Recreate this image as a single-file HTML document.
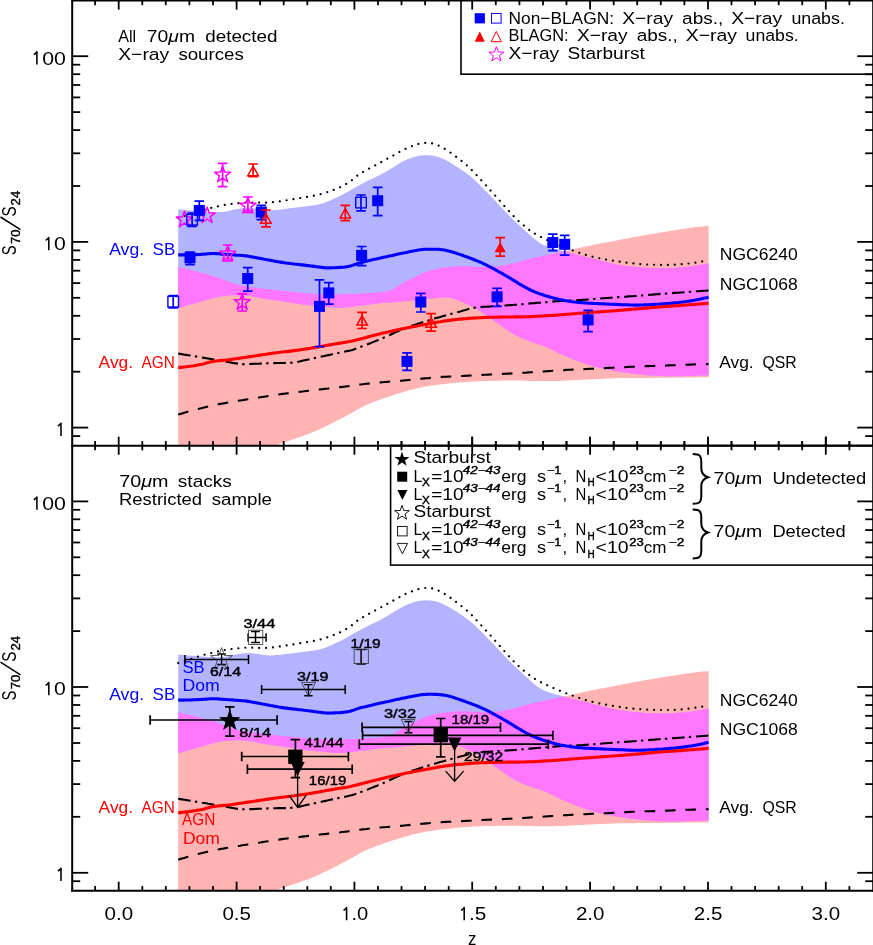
<!DOCTYPE html>
<html><head><meta charset="utf-8"><title>S70/S24 vs z</title>
<style>
html,body{margin:0;padding:0;background:#fff;}
body{width:873px;height:945px;overflow:hidden;}
svg{display:block;will-change:transform;font-family:"Liberation Sans",sans-serif;}
text{font-family:"Liberation Sans",sans-serif;}
</style></head><body>
<svg width="873" height="945" viewBox="0 0 873 945">
<rect x="0" y="0" width="873" height="945" fill="#ffffff"/>
<defs>
<clipPath id="cpT"><rect x="72" y="0" width="801" height="445.7"/></clipPath>
<clipPath id="cpB"><rect x="72" y="445.7" width="801" height="445"/></clipPath>
</defs>
<g clip-path="url(#cpT)">
<path d="M178.2 267.1 L180.2 267.5 L182.2 268.0 L184.2 268.4 L186.2 268.9 L188.2 269.4 L190.2 269.9 L192.2 270.4 L194.2 270.9 L196.2 271.4 L198.2 271.9 L200.2 272.4 L202.2 273.0 L204.2 273.5 L206.2 274.0 L208.2 274.6 L210.2 275.1 L212.2 275.7 L214.2 276.3 L216.2 277.0 L218.2 277.7 L220.2 278.4 L222.2 279.2 L224.2 279.9 L226.2 280.7 L228.2 281.5 L230.2 282.2 L232.2 282.9 L234.2 283.6 L236.2 284.2 L238.2 284.8 L240.2 285.3 L242.2 285.7 L244.2 286.1 L246.3 286.4 L248.3 286.7 L250.3 287.1 L252.3 287.4 L254.3 287.6 L256.3 287.9 L258.3 288.2 L260.3 288.4 L262.3 288.6 L264.3 288.9 L266.3 289.1 L268.3 289.3 L270.3 289.5 L272.3 289.7 L274.3 289.9 L276.3 290.1 L278.3 290.3 L280.3 290.5 L282.3 290.7 L284.3 290.9 L286.3 291.1 L288.3 291.4 L290.3 291.6 L292.3 291.8 L294.3 292.0 L296.3 292.2 L298.3 292.4 L300.3 292.6 L302.3 292.8 L304.3 293.0 L306.3 293.1 L308.3 293.3 L310.3 293.5 L312.3 293.7 L314.3 293.9 L316.3 294.1 L318.3 294.2 L320.3 294.3 L322.3 294.4 L324.3 294.4 L326.3 294.4 L328.3 294.4 L330.3 294.4 L332.3 294.4 L334.3 294.4 L336.3 294.3 L338.3 294.3 L340.3 294.3 L342.3 294.3 L344.3 294.2 L346.3 294.2 L348.3 294.1 L350.3 294.0 L352.3 293.9 L354.3 293.8 L356.3 293.7 L358.3 293.6 L360.3 293.5 L362.3 293.4 L364.3 293.3 L366.3 293.2 L368.3 293.1 L370.3 292.9 L372.3 292.8 L374.3 292.7 L376.3 292.6 L378.4 292.5 L380.4 292.3 L382.4 292.0 L384.4 291.7 L386.4 291.3 L388.4 290.8 L390.4 290.2 L392.4 289.4 L394.4 288.4 L396.4 287.1 L398.4 285.8 L400.4 284.5 L402.4 283.4 L404.4 282.3 L406.4 281.2 L408.4 280.2 L410.4 279.1 L412.4 278.1 L414.4 277.1 L416.4 276.1 L418.4 275.1 L420.4 274.2 L422.4 273.3 L424.4 272.5 L426.4 271.8 L428.4 271.1 L430.4 270.5 L432.4 269.9 L434.4 269.4 L436.4 268.9 L438.4 268.5 L440.4 268.1 L442.4 267.8 L444.4 267.5 L446.4 267.3 L448.4 267.0 L450.4 266.8 L452.4 266.6 L454.4 266.5 L456.4 266.3 L458.4 266.2 L460.4 266.2 L462.4 266.1 L464.4 266.1 L466.4 266.1 L468.4 266.2 L470.4 266.4 L472.4 266.5 L474.4 266.7 L476.4 266.8 L478.4 267.0 L480.4 267.1 L482.4 267.1 L484.4 267.1 L486.4 267.0 L488.4 267.0 L490.4 266.9 L492.4 266.7 L494.4 266.6 L496.4 266.4 L498.4 266.2 L500.4 265.9 L502.4 265.6 L504.4 265.2 L506.4 264.8 L508.4 264.4 L510.5 263.9 L512.5 263.5 L514.5 263.0 L516.5 262.5 L518.5 262.0 L520.5 261.5 L522.5 260.9 L524.5 260.3 L526.5 259.7 L528.5 259.2 L530.5 258.7 L532.5 258.2 L534.5 257.7 L536.5 257.3 L538.5 256.8 L540.5 256.4 L542.5 255.9 L544.5 255.5 L546.5 255.1 L548.5 254.7 L550.5 254.2 L552.5 253.8 L554.5 253.4 L556.5 253.0 L558.5 252.5 L560.5 252.1 L562.5 251.7 L564.5 251.3 L566.5 250.8 L568.5 250.4 L570.5 250.0 L572.5 249.5 L574.5 249.1 L576.5 248.6 L578.5 248.1 L580.5 247.7 L582.5 247.2 L584.5 246.8 L586.5 246.3 L588.5 245.9 L590.5 245.4 L592.5 245.0 L594.5 244.6 L596.5 244.2 L598.5 243.8 L600.5 243.4 L602.5 243.1 L604.5 242.7 L606.5 242.4 L608.5 242.0 L610.5 241.7 L612.5 241.3 L614.5 240.9 L616.5 240.5 L618.5 240.1 L620.5 239.7 L622.5 239.3 L624.5 238.9 L626.5 238.5 L628.5 238.1 L630.5 237.7 L632.5 237.3 L634.5 237.0 L636.5 236.6 L638.5 236.2 L640.5 235.9 L642.6 235.5 L644.6 235.2 L646.6 234.8 L648.6 234.5 L650.6 234.2 L652.6 233.8 L654.6 233.5 L656.6 233.2 L658.6 232.8 L660.6 232.5 L662.6 232.2 L664.6 231.8 L666.6 231.5 L668.6 231.2 L670.6 230.9 L672.6 230.5 L674.6 230.2 L676.6 229.9 L678.6 229.6 L680.6 229.3 L682.6 229.0 L684.6 228.7 L686.6 228.4 L688.6 228.1 L690.6 227.8 L692.6 227.6 L694.6 227.3 L696.6 227.1 L698.6 226.9 L700.6 226.7 L702.6 226.5 L704.6 226.3 L706.6 226.1 L708.6 225.9 L708.6 377.2 L706.6 377.2 L704.6 377.3 L702.6 377.3 L700.6 377.3 L698.6 377.3 L696.6 377.4 L694.6 377.4 L692.6 377.4 L690.6 377.4 L688.6 377.5 L686.6 377.5 L684.6 377.5 L682.6 377.5 L680.6 377.6 L678.6 377.6 L676.6 377.6 L674.6 377.6 L672.6 377.7 L670.6 377.7 L668.6 377.7 L666.6 377.7 L664.6 377.8 L662.6 377.8 L660.6 377.8 L658.6 377.8 L656.6 377.8 L654.6 377.9 L652.6 377.9 L650.6 377.9 L648.6 377.9 L646.6 377.9 L644.6 377.9 L642.6 377.9 L640.5 378.0 L638.5 378.0 L636.5 378.0 L634.5 378.0 L632.5 378.0 L630.5 378.0 L628.5 378.0 L626.5 378.1 L624.5 378.1 L622.5 378.1 L620.5 378.1 L618.5 378.1 L616.5 378.2 L614.5 378.3 L612.5 378.3 L610.5 378.4 L608.5 378.5 L606.5 378.6 L604.5 378.7 L602.5 378.8 L600.5 378.9 L598.5 379.0 L596.5 379.1 L594.5 379.2 L592.5 379.3 L590.5 379.4 L588.5 379.5 L586.5 379.6 L584.5 379.7 L582.5 379.7 L580.5 379.8 L578.5 379.9 L576.5 380.0 L574.5 380.1 L572.5 380.2 L570.5 380.3 L568.5 380.4 L566.5 380.5 L564.5 380.6 L562.5 380.7 L560.5 380.8 L558.5 380.9 L556.5 381.0 L554.5 381.0 L552.5 381.1 L550.5 381.1 L548.5 381.1 L546.5 381.1 L544.5 381.2 L542.5 381.2 L540.5 381.1 L538.5 381.1 L536.5 381.1 L534.5 381.1 L532.5 381.0 L530.5 381.0 L528.5 380.9 L526.5 380.8 L524.5 380.7 L522.5 380.6 L520.5 380.6 L518.5 380.6 L516.5 380.6 L514.5 380.6 L512.5 380.6 L510.5 380.6 L508.4 380.6 L506.4 380.6 L504.4 380.6 L502.4 380.6 L500.4 380.7 L498.4 380.7 L496.4 380.7 L494.4 380.8 L492.4 380.8 L490.4 380.8 L488.4 380.9 L486.4 380.9 L484.4 381.0 L482.4 381.1 L480.4 381.1 L478.4 381.2 L476.4 381.3 L474.4 381.4 L472.4 381.5 L470.4 381.7 L468.4 381.8 L466.4 381.9 L464.4 382.0 L462.4 382.2 L460.4 382.4 L458.4 382.5 L456.4 382.7 L454.4 382.9 L452.4 383.1 L450.4 383.3 L448.4 383.5 L446.4 383.7 L444.4 384.0 L442.4 384.2 L440.4 384.4 L438.4 384.7 L436.4 384.9 L434.4 385.2 L432.4 385.5 L430.4 385.8 L428.4 386.1 L426.4 386.5 L424.4 386.8 L422.4 387.2 L420.4 387.6 L418.4 388.1 L416.4 388.5 L414.4 389.0 L412.4 389.5 L410.4 390.0 L408.4 390.6 L406.4 391.1 L404.4 391.7 L402.4 392.3 L400.4 392.9 L398.4 393.5 L396.4 394.1 L394.4 394.7 L392.4 395.4 L390.4 396.0 L388.4 396.7 L386.4 397.4 L384.4 398.1 L382.4 398.8 L380.4 399.5 L378.4 400.2 L376.3 401.0 L374.3 401.7 L372.3 402.5 L370.3 403.3 L368.3 404.2 L366.3 405.1 L364.3 406.0 L362.3 406.9 L360.3 407.9 L358.3 409.0 L356.3 410.2 L354.3 411.4 L352.3 412.6 L350.3 413.7 L348.3 414.8 L346.3 415.8 L344.3 416.9 L342.3 417.9 L340.3 419.0 L338.3 420.0 L336.3 421.0 L334.3 422.1 L332.3 423.1 L330.3 424.0 L328.3 425.0 L326.3 426.0 L324.3 427.0 L322.3 427.9 L320.3 428.9 L318.3 429.8 L316.3 430.7 L314.3 431.6 L312.3 432.4 L310.3 433.3 L308.3 434.0 L306.3 434.8 L304.3 435.5 L302.3 436.2 L300.3 436.9 L298.3 437.5 L296.3 438.2 L294.3 438.9 L292.3 439.5 L290.3 440.2 L288.3 440.9 L286.3 441.5 L284.3 442.2 L282.3 442.9 L280.3 443.6 L278.3 444.4 L276.3 445.1 L274.3 445.8 L272.3 446.6 L270.3 447.4 L268.3 448.2 L266.3 449.1 L264.3 449.9 L262.3 450.8 L260.3 451.8 L258.3 452.7 L256.3 453.7 L254.3 454.7 L252.3 455.7 L250.3 456.8 L248.3 457.8 L246.3 458.9 L244.2 460.0 L242.2 461.1 L240.2 462.2 L238.2 463.3 L236.2 464.5 L234.2 465.6 L232.2 466.7 L230.2 467.9 L228.2 469.0 L226.2 470.2 L224.2 471.3 L222.2 472.5 L220.2 473.6 L218.2 474.8 L216.2 476.0 L214.2 477.2 L212.2 478.4 L210.2 479.6 L208.2 480.8 L206.2 482.0 L204.2 483.2 L202.2 484.5 L200.2 485.7 L198.2 487.0 L196.2 488.2 L194.2 489.5 L192.2 490.8 L190.2 492.1 L188.2 493.4 L186.2 494.7 L184.2 496.0 L182.2 497.3 L180.2 498.7 L178.2 500.0Z" fill="#ffb3b3"/>
<path d="M178.2 209.4 L180.2 209.6 L182.2 209.7 L184.2 209.9 L186.2 210.1 L188.2 210.2 L190.2 210.4 L192.2 210.6 L194.2 210.8 L196.2 210.9 L198.2 211.1 L200.2 211.3 L202.2 211.4 L204.2 211.6 L206.2 211.7 L208.2 211.8 L210.2 211.9 L212.2 211.9 L214.2 212.0 L216.2 212.1 L218.2 212.1 L220.2 212.1 L222.2 212.0 L224.2 211.7 L226.2 211.4 L228.2 210.9 L230.2 210.4 L232.2 209.9 L234.2 209.6 L236.2 209.2 L238.2 208.9 L240.2 208.6 L242.2 208.3 L244.2 208.1 L246.3 208.0 L248.3 207.9 L250.3 208.0 L252.3 208.1 L254.3 208.4 L256.3 208.6 L258.3 209.0 L260.3 209.3 L262.3 209.7 L264.3 209.9 L266.3 210.1 L268.3 210.2 L270.3 210.2 L272.3 210.2 L274.3 210.1 L276.3 210.0 L278.3 209.8 L280.3 209.6 L282.3 209.4 L284.3 209.1 L286.3 208.8 L288.3 208.6 L290.3 208.3 L292.3 208.0 L294.3 207.8 L296.3 207.5 L298.3 207.3 L300.3 207.0 L302.3 206.8 L304.3 206.6 L306.3 206.3 L308.3 206.1 L310.3 205.8 L312.3 205.6 L314.3 205.3 L316.3 204.9 L318.3 204.5 L320.3 204.1 L322.3 203.5 L324.3 202.9 L326.3 202.1 L328.3 201.3 L330.3 200.4 L332.3 199.5 L334.3 198.6 L336.3 197.7 L338.3 196.7 L340.3 195.8 L342.3 194.8 L344.3 193.8 L346.3 192.6 L348.3 191.5 L350.3 190.3 L352.3 189.2 L354.3 188.1 L356.3 186.9 L358.3 185.8 L360.3 184.7 L362.3 183.7 L364.3 182.6 L366.3 181.6 L368.3 180.6 L370.3 179.7 L372.3 178.7 L374.3 177.7 L376.3 176.7 L378.4 175.8 L380.4 174.7 L382.4 173.7 L384.4 172.6 L386.4 171.4 L388.4 170.2 L390.4 168.9 L392.4 167.7 L394.4 166.4 L396.4 165.2 L398.4 164.0 L400.4 162.8 L402.4 161.7 L404.4 160.7 L406.4 159.8 L408.4 159.0 L410.4 158.2 L412.4 157.6 L414.4 156.9 L416.4 156.4 L418.4 155.9 L420.4 155.6 L422.4 155.4 L424.4 155.2 L426.4 155.2 L428.4 155.2 L430.4 155.4 L432.4 155.6 L434.4 155.9 L436.4 156.4 L438.4 157.0 L440.4 157.7 L442.4 158.6 L444.4 159.5 L446.4 160.5 L448.4 161.6 L450.4 162.8 L452.4 164.0 L454.4 165.2 L456.4 166.5 L458.4 167.8 L460.4 169.1 L462.4 170.4 L464.4 171.8 L466.4 173.2 L468.4 174.7 L470.4 176.3 L472.4 178.1 L474.4 179.9 L476.4 181.8 L478.4 183.7 L480.4 185.7 L482.4 187.7 L484.4 189.7 L486.4 191.7 L488.4 193.7 L490.4 195.8 L492.4 197.9 L494.4 199.9 L496.4 202.0 L498.4 204.2 L500.4 206.4 L502.4 208.5 L504.4 210.7 L506.4 212.9 L508.4 214.9 L510.5 217.0 L512.5 218.9 L514.5 220.8 L516.5 222.7 L518.5 224.6 L520.5 226.4 L522.5 228.3 L524.5 230.2 L526.5 232.0 L528.5 233.8 L530.5 235.6 L532.5 237.4 L534.5 239.1 L536.5 240.6 L538.5 242.1 L540.5 243.4 L542.5 244.5 L544.5 245.5 L546.5 246.3 L548.5 247.0 L550.5 247.6 L552.5 248.2 L554.5 248.8 L556.5 249.4 L558.5 249.9 L560.5 250.5 L562.5 251.0 L564.5 251.6 L566.5 252.1 L568.5 252.6 L570.5 253.1 L572.5 253.6 L574.5 254.1 L576.5 254.6 L578.5 255.1 L580.5 255.6 L582.5 256.1 L584.5 256.6 L586.5 257.1 L588.5 257.6 L590.5 258.1 L592.5 258.6 L594.5 259.1 L596.5 259.6 L598.5 260.1 L600.5 260.6 L602.5 261.1 L604.5 261.6 L606.5 262.1 L608.5 262.6 L610.5 263.1 L612.5 263.6 L614.5 264.0 L616.5 264.4 L618.5 264.8 L620.5 265.1 L622.5 265.4 L624.5 265.7 L626.5 265.9 L628.5 266.1 L630.5 266.4 L632.5 266.6 L634.5 266.8 L636.5 267.0 L638.5 267.1 L640.5 267.3 L642.6 267.5 L644.6 267.6 L646.6 267.7 L648.6 267.8 L650.6 267.9 L652.6 268.0 L654.6 268.1 L656.6 268.1 L658.6 268.2 L660.6 268.2 L662.6 268.2 L664.6 268.2 L666.6 268.2 L668.6 268.1 L670.6 268.0 L672.6 268.0 L674.6 267.9 L676.6 267.7 L678.6 267.6 L680.6 267.4 L682.6 267.3 L684.6 267.1 L686.6 266.9 L688.6 266.7 L690.6 266.4 L692.6 266.1 L694.6 265.8 L696.6 265.5 L698.6 265.2 L700.6 264.8 L702.6 264.5 L704.6 264.1 L706.6 263.6 L708.6 263.2 L708.6 375.3 L706.6 375.4 L704.6 375.5 L702.6 375.6 L700.6 375.7 L698.6 375.7 L696.6 375.8 L694.6 375.9 L692.6 375.9 L690.6 376.0 L688.6 376.0 L686.6 376.1 L684.6 376.1 L682.6 376.2 L680.6 376.2 L678.6 376.2 L676.6 376.3 L674.6 376.3 L672.6 376.3 L670.6 376.3 L668.6 376.2 L666.6 376.2 L664.6 376.2 L662.6 376.1 L660.6 376.1 L658.6 376.0 L656.6 375.9 L654.6 375.8 L652.6 375.7 L650.6 375.5 L648.6 375.4 L646.6 375.2 L644.6 375.0 L642.6 374.8 L640.5 374.6 L638.5 374.4 L636.5 374.2 L634.5 373.9 L632.5 373.7 L630.5 373.4 L628.5 373.2 L626.5 372.9 L624.5 372.6 L622.5 372.3 L620.5 372.0 L618.5 371.6 L616.5 371.3 L614.5 371.0 L612.5 370.6 L610.5 370.2 L608.5 369.9 L606.5 369.5 L604.5 369.1 L602.5 368.6 L600.5 368.2 L598.5 367.7 L596.5 367.2 L594.5 366.7 L592.5 366.1 L590.5 365.6 L588.5 364.9 L586.5 364.3 L584.5 363.6 L582.5 362.9 L580.5 362.2 L578.5 361.4 L576.5 360.7 L574.5 359.9 L572.5 359.1 L570.5 358.2 L568.5 357.4 L566.5 356.5 L564.5 355.7 L562.5 354.8 L560.5 353.9 L558.5 353.0 L556.5 352.1 L554.5 351.1 L552.5 350.1 L550.5 349.0 L548.5 348.0 L546.5 347.1 L544.5 346.2 L542.5 345.4 L540.5 344.7 L538.5 344.2 L536.5 343.7 L534.5 343.0 L532.5 342.3 L530.5 341.6 L528.5 340.8 L526.5 340.0 L524.5 339.2 L522.5 338.4 L520.5 337.6 L518.5 336.8 L516.5 335.8 L514.5 334.7 L512.5 333.5 L510.5 332.2 L508.4 330.9 L506.4 329.5 L504.4 328.1 L502.4 326.7 L500.4 325.3 L498.4 323.9 L496.4 322.5 L494.4 321.1 L492.4 319.7 L490.4 318.3 L488.4 316.9 L486.4 315.5 L484.4 314.1 L482.4 312.7 L480.4 311.5 L478.4 310.3 L476.4 309.1 L474.4 308.0 L472.4 307.0 L470.4 305.9 L468.4 304.9 L466.4 304.0 L464.4 303.0 L462.4 302.1 L460.4 301.2 L458.4 300.4 L456.4 299.6 L454.4 298.9 L452.4 298.3 L450.4 297.9 L448.4 297.6 L446.4 297.4 L444.4 297.4 L442.4 297.6 L440.4 297.7 L438.4 297.9 L436.4 298.1 L434.4 298.2 L432.4 298.4 L430.4 298.6 L428.4 298.8 L426.4 299.0 L424.4 299.2 L422.4 299.4 L420.4 299.6 L418.4 299.8 L416.4 300.1 L414.4 300.3 L412.4 300.5 L410.4 300.7 L408.4 300.9 L406.4 301.1 L404.4 301.3 L402.4 301.6 L400.4 301.7 L398.4 301.9 L396.4 302.1 L394.4 302.2 L392.4 302.3 L390.4 302.5 L388.4 302.6 L386.4 302.8 L384.4 302.9 L382.4 303.1 L380.4 303.3 L378.4 303.5 L376.3 303.7 L374.3 304.0 L372.3 304.3 L370.3 304.5 L368.3 304.8 L366.3 305.1 L364.3 305.3 L362.3 305.6 L360.3 305.8 L358.3 306.1 L356.3 306.3 L354.3 306.6 L352.3 306.8 L350.3 307.0 L348.3 307.2 L346.3 307.4 L344.3 307.6 L342.3 307.7 L340.3 307.8 L338.3 307.8 L336.3 307.8 L334.3 307.7 L332.3 307.5 L330.3 307.4 L328.3 307.2 L326.3 307.0 L324.3 306.8 L322.3 306.6 L320.3 306.4 L318.3 306.2 L316.3 306.1 L314.3 305.9 L312.3 305.7 L310.3 305.5 L308.3 305.3 L306.3 305.0 L304.3 304.7 L302.3 304.5 L300.3 304.2 L298.3 303.9 L296.3 303.6 L294.3 303.2 L292.3 302.9 L290.3 302.6 L288.3 302.3 L286.3 302.0 L284.3 301.7 L282.3 301.4 L280.3 301.1 L278.3 300.8 L276.3 300.6 L274.3 300.3 L272.3 300.0 L270.3 299.7 L268.3 299.4 L266.3 299.1 L264.3 298.8 L262.3 298.5 L260.3 298.1 L258.3 297.7 L256.3 297.3 L254.3 296.8 L252.3 296.5 L250.3 296.1 L248.3 295.9 L246.3 295.6 L244.2 295.5 L242.2 295.3 L240.2 295.2 L238.2 295.2 L236.2 295.2 L234.2 295.2 L232.2 295.3 L230.2 295.4 L228.2 295.6 L226.2 295.7 L224.2 296.0 L222.2 296.3 L220.2 296.6 L218.2 296.9 L216.2 297.4 L214.2 297.9 L212.2 298.4 L210.2 298.9 L208.2 299.5 L206.2 300.0 L204.2 300.6 L202.2 301.1 L200.2 301.7 L198.2 302.3 L196.2 302.9 L194.2 303.5 L192.2 304.0 L190.2 304.6 L188.2 305.2 L186.2 305.8 L184.2 306.4 L182.2 307.0 L180.2 307.6 L178.2 308.2Z" fill="#b3b3ff"/>
<path d="M178.2 267.1 L179.2 267.3 L180.2 267.5 L181.2 267.7 L182.2 268.0 L183.2 268.2 L184.2 268.4 L185.2 268.7 L186.2 268.9 L187.2 269.1 L188.2 269.4 L189.2 269.6 L190.2 269.9 L191.2 270.1 L192.2 270.4 L193.2 270.6 L194.2 270.9 L195.2 271.1 L196.2 271.4 L197.2 271.6 L198.2 271.9 L199.2 272.2 L200.2 272.4 L201.2 272.7 L202.2 273.0 L203.2 273.2 L204.2 273.5 L205.2 273.8 L206.2 274.0 L207.2 274.3 L208.2 274.6 L209.2 274.9 L210.2 275.1 L211.2 275.4 L212.2 275.7 L213.2 276.0 L214.2 276.3 L215.2 276.6 L216.2 277.0 L217.2 277.3 L218.2 277.7 L219.2 278.0 L220.2 278.4 L221.2 278.8 L222.2 279.2 L223.2 279.5 L224.2 279.9 L225.2 280.3 L226.2 280.7 L227.2 281.1 L228.2 281.5 L229.2 281.8 L230.2 282.2 L231.2 282.6 L232.2 282.9 L233.2 283.3 L234.2 283.6 L235.2 283.9 L236.2 284.2 L237.2 284.5 L238.2 284.8 L239.2 285.0 L240.2 285.3 L241.2 285.5 L242.2 285.7 L243.2 285.9 L244.2 286.1 L245.2 286.2 L246.2 286.4 L247.2 286.6 L248.2 286.7 L249.2 286.9 L250.2 287.0 L251.2 287.2 L252.2 287.3 L253.2 287.5 L254.2 287.6 L255.2 287.8 L256.2 287.9 L257.2 288.0 L258.2 288.1 L259.2 288.3 L260.2 288.4 L261.2 288.5 L262.2 288.6 L263.2 288.7 L264.2 288.9 L265.2 289.0 L266.2 289.1 L267.2 289.2 L268.2 289.3 L269.2 289.4 L270.2 289.5 L271.2 289.6 L272.2 289.7 L273.2 289.8 L274.2 289.9 L275.2 290.0 L276.2 290.1 L277.2 290.2 L278.2 290.3 L279.2 290.4 L280.2 290.5 L281.2 290.6 L282.2 290.7 L283.2 290.8 L284.2 290.9 L285.2 291.0 L286.2 291.1 L287.2 291.2 L288.2 291.3 L289.2 291.4 L290.2 291.5 L291.2 291.6 L292.2 291.7 L293.2 291.8 L294.2 292.0 L295.2 292.1 L296.2 292.2 L297.2 292.3 L298.2 292.4 L299.2 292.5 L300.2 292.6 L301.2 292.6 L302.2 292.7 L303.2 292.8 L304.2 292.9 L305.2 293.0 L306.2 293.1 L307.2 293.2 L308.2 293.3 L309.2 293.4 L310.2 293.5 L311.2 293.6 L312.2 293.7 L313.2 293.8 L314.2 293.9 L315.2 294.0 L316.2 294.1 L317.2 294.1 L318.2 294.2 L319.2 294.2 L320.2 294.3 L321.2 294.3 L322.2 294.4 L323.2 294.4 L324.2 294.4 L325.2 294.4 L326.2 294.4 L327.2 294.4 L328.2 294.4 L329.2 294.4 L330.2 294.4 L331.2 294.4 L332.2 294.4 L333.2 294.4 L334.2 294.4 L335.2 294.4 L336.2 294.3 L337.2 294.3 L338.2 294.3 L339.2 294.3 L340.2 294.3 L341.2 294.3 L342.2 294.3 L343.2 294.2 L344.2 294.2 L345.2 294.2 L346.2 294.2 L347.2 294.1 L348.2 294.1 L349.2 294.1 L350.2 294.0 L351.2 294.0 L352.2 293.9 L353.2 293.9 L354.2 293.8 L355.2 293.8 L356.2 293.7 L357.2 293.7 L358.2 293.6 L359.2 293.6 L360.2 293.5 L361.2 293.5 L362.2 293.4 L363.2 293.4 L364.2 293.3 L365.2 293.2 L366.2 293.2 L367.2 293.1 L368.2 293.1 L369.2 293.0 L370.2 292.9 L371.2 292.9 L372.2 292.8 L373.2 292.8 L374.2 292.7 L375.2 292.7 L376.2 292.6 L377.2 292.5 L378.2 292.5 L379.2 292.4 L380.2 292.3 L381.2 292.2 L382.2 292.1 L383.2 291.9 L384.2 291.8 L385.2 291.6 L386.2 291.4 L387.2 291.1 L388.2 290.9 L389.2 290.6 L390.2 290.3 L391.2 289.9 L392.2 289.5 L393.2 289.0 L394.2 288.5 L395.2 287.9 L396.2 287.2 L397.2 286.6 L398.2 285.9 L399.2 285.2 L400.2 284.6 L401.2 284.0 L402.2 283.4 L403.2 282.9 L404.2 282.4 L405.2 281.8 L406.2 281.3 L407.2 280.8 L408.2 280.2 L409.2 279.7 L410.2 279.2 L411.2 278.7 L412.2 278.2 L413.2 277.7 L414.2 277.2 L415.2 276.7 L416.2 276.2 L417.2 275.7 L418.2 275.2 L419.2 274.8 L420.2 274.3 L421.2 273.9 L422.2 273.4 L423.2 273.0 L424.2 272.6 L425.2 272.2 L426.2 271.8 L427.2 271.5 L428.2 271.2 L429.2 270.8 L430.2 270.5 L431.2 270.2 L432.2 269.9 L433.2 269.7 L434.2 269.4 L435.2 269.2 L436.2 269.0 L437.2 268.7 L438.2 268.5 L439.2 268.3 L440.2 268.2 L441.2 268.0 L442.2 267.8 L443.2 267.7 L444.2 267.5 L445.2 267.4 L446.2 267.3 L447.2 267.2 L448.2 267.0 L449.2 266.9 L450.2 266.8 L451.2 266.7 L452.2 266.6 L453.2 266.6 L454.2 266.5 L455.2 266.4 L456.2 266.3 L457.2 266.3 L458.2 266.2 L459.2 266.2 L460.2 266.2 L461.2 266.1 L462.2 266.1 L463.2 266.1 L464.2 266.1 L465.2 266.1 L466.2 266.1 L467.2 266.2 L468.2 266.2 L469.2 266.3 L470.2 266.3 L471.2 266.4 L472.2 266.5 L473.2 266.6 L474.2 266.7 L475.2 266.7 L476.2 266.8 L477.2 266.9 L478.2 266.9 L479.2 267.0 L480.2 267.0 L481.2 267.1 L482.2 267.1 L483.2 267.1 L484.2 267.1 L485.2 267.1 L486.2 267.1 L487.2 267.0 L488.2 267.0 L489.2 266.9 L490.2 266.9 L491.2 266.8 L492.2 266.8 L493.2 266.7 L494.2 266.6 L495.2 266.5 L496.2 266.4 L497.2 266.3 L498.2 266.2 L499.2 266.1 L500.2 265.9 L501.2 265.8 L502.2 265.6 L503.2 265.4 L504.2 265.3 L505.2 265.1 L506.2 264.9 L507.2 264.6 L508.2 264.4 L509.2 264.2 L510.2 264.0 L511.2 263.8 L512.2 263.5 L513.2 263.3 L514.2 263.1 L515.2 262.8 L516.2 262.6 L517.2 262.3 L518.2 262.1 L519.2 261.8 L520.2 261.5 L521.2 261.3 L522.2 261.0 L523.2 260.7 L524.2 260.4 L525.2 260.1 L526.2 259.8 L527.2 259.5 L528.2 259.3 L529.2 259.0 L530.2 258.8 L531.2 258.5 L532.2 258.3 L533.2 258.0 L534.2 257.8 L535.2 257.6 L536.2 257.3 L537.2 257.1 L538.2 256.9 L539.2 256.7 L540.2 256.4 L541.2 256.2 L542.2 256.0 L543.2 255.8 L544.2 255.6 L545.2 255.4 L546.2 255.2 L547.2 254.9 L548.2 254.7 L549.2 254.5 L550.2 254.3 L551.2 254.1 L552.2 253.9 L553.2 253.7 L554.2 253.5 L555.2 253.2 L556.2 253.0 L557.2 252.8 L558.2 252.6 L559.2 252.4 L560.2 252.2 L561.2 252.0 L562.2 251.8 L563.2 251.5 L564.2 251.5 L565.2 251.7 L566.2 252.0 L567.2 252.3 L568.2 252.5 L569.2 252.8 L570.2 253.0 L571.2 253.3 L572.2 253.5 L573.2 253.8 L574.2 254.0 L575.2 254.3 L576.2 254.5 L577.2 254.8 L578.2 255.0 L579.2 255.3 L580.2 255.5 L581.2 255.8 L582.2 256.0 L583.2 256.3 L584.2 256.5 L585.2 256.8 L586.2 257.1 L587.2 257.3 L588.2 257.6 L589.2 257.8 L590.2 258.1 L591.2 258.3 L592.2 258.6 L593.2 258.8 L594.2 259.1 L595.2 259.3 L596.2 259.6 L597.2 259.8 L598.2 260.1 L599.2 260.3 L600.2 260.6 L601.2 260.8 L602.2 261.1 L603.2 261.3 L604.2 261.6 L605.2 261.8 L606.2 262.1 L607.2 262.3 L608.2 262.6 L609.2 262.8 L610.2 263.1 L611.2 263.3 L612.2 263.5 L613.2 263.8 L614.2 264.0 L615.2 264.2 L616.2 264.4 L617.2 264.6 L618.2 264.7 L619.2 264.9 L620.2 265.1 L621.2 265.2 L622.2 265.4 L623.2 265.5 L624.2 265.6 L625.2 265.8 L626.2 265.9 L627.2 266.0 L628.2 266.1 L629.2 266.2 L630.2 266.3 L631.2 266.4 L632.2 266.5 L633.2 266.6 L634.2 266.7 L635.2 266.8 L636.2 266.9 L637.2 267.0 L638.2 267.1 L639.2 267.2 L640.2 267.3 L641.2 267.4 L642.2 267.4 L643.2 267.5 L644.2 267.6 L645.2 267.7 L646.2 267.7 L647.2 267.8 L648.2 267.8 L649.2 267.9 L650.2 267.9 L651.2 268.0 L652.2 268.0 L653.2 268.0 L654.2 268.1 L655.2 268.1 L656.2 268.1 L657.2 268.2 L658.2 268.2 L659.2 268.2 L660.2 268.2 L661.2 268.2 L662.2 268.2 L663.2 268.2 L664.2 268.2 L665.2 268.2 L666.2 268.2 L667.2 268.1 L668.2 268.1 L669.2 268.1 L670.2 268.1 L671.2 268.0 L672.2 268.0 L673.2 267.9 L674.2 267.9 L675.2 267.8 L676.2 267.8 L677.2 267.7 L678.2 267.6 L679.2 267.6 L680.2 267.5 L681.2 267.4 L682.2 267.3 L683.2 267.2 L684.2 267.1 L685.2 267.0 L686.2 266.9 L687.2 266.8 L688.2 266.7 L689.2 266.6 L690.2 266.5 L691.2 266.3 L692.2 266.2 L693.2 266.0 L694.2 265.9 L695.2 265.7 L696.2 265.6 L697.2 265.4 L698.2 265.3 L699.2 265.1 L700.2 264.9 L701.2 264.7 L702.2 264.5 L703.2 264.3 L704.2 264.1 L705.2 263.9 L706.2 263.7 L707.2 263.5 L708.6 263.2 L708.6 375.3 L707.2 375.4 L706.2 375.4 L705.2 375.5 L704.2 375.5 L703.2 375.6 L702.2 375.6 L701.2 375.6 L700.2 375.7 L699.2 375.7 L698.2 375.8 L697.2 375.8 L696.2 375.8 L695.2 375.9 L694.2 375.9 L693.2 375.9 L692.2 375.9 L691.2 376.0 L690.2 376.0 L689.2 376.0 L688.2 376.1 L687.2 376.1 L686.2 376.1 L685.2 376.1 L684.2 376.2 L683.2 376.2 L682.2 376.2 L681.2 376.2 L680.2 376.2 L679.2 376.2 L678.2 376.2 L677.2 376.2 L676.2 376.3 L675.2 376.3 L674.2 376.3 L673.2 376.3 L672.2 376.3 L671.2 376.3 L670.2 376.3 L669.2 376.2 L668.2 376.2 L667.2 376.2 L666.2 376.2 L665.2 376.2 L664.2 376.2 L663.2 376.1 L662.2 376.1 L661.2 376.1 L660.2 376.1 L659.2 376.0 L658.2 376.0 L657.2 375.9 L656.2 375.9 L655.2 375.8 L654.2 375.8 L653.2 375.7 L652.2 375.6 L651.2 375.6 L650.2 375.5 L649.2 375.4 L648.2 375.3 L647.2 375.2 L646.2 375.2 L645.2 375.1 L644.2 375.0 L643.2 374.9 L642.2 374.8 L641.2 374.7 L640.2 374.6 L639.2 374.5 L638.2 374.3 L637.2 374.2 L636.2 374.1 L635.2 374.0 L634.2 373.9 L633.2 373.8 L632.2 373.7 L631.2 373.5 L630.2 373.4 L629.2 373.3 L628.2 373.1 L627.2 373.0 L626.2 372.8 L625.2 372.7 L624.2 372.5 L623.2 372.4 L622.2 372.2 L621.2 372.1 L620.2 371.9 L619.2 371.8 L618.2 371.6 L617.2 371.4 L616.2 371.3 L615.2 371.1 L614.2 370.9 L613.2 370.7 L612.2 370.6 L611.2 370.4 L610.2 370.2 L609.2 370.0 L608.2 369.8 L607.2 369.6 L606.2 369.4 L605.2 369.2 L604.2 369.0 L603.2 368.8 L602.2 368.6 L601.2 368.3 L600.2 368.1 L599.2 367.9 L598.2 367.6 L597.2 367.4 L596.2 367.1 L595.2 366.9 L594.2 366.6 L593.2 366.3 L592.2 366.0 L591.2 365.8 L590.2 365.5 L589.2 365.2 L588.2 364.8 L587.2 364.5 L586.2 364.2 L585.2 363.9 L584.2 363.5 L583.2 363.2 L582.2 362.8 L581.2 362.5 L580.2 362.1 L579.2 361.7 L578.2 361.3 L577.2 360.9 L576.2 360.5 L575.2 360.2 L574.2 359.8 L573.2 359.3 L572.2 358.9 L571.2 358.5 L570.2 358.1 L569.2 357.7 L568.2 357.3 L567.2 356.8 L566.2 356.4 L565.2 356.0 L564.2 355.5 L563.2 355.1 L562.2 354.7 L561.2 354.2 L560.2 353.8 L559.2 353.4 L558.2 352.9 L557.2 352.4 L556.2 351.9 L555.2 351.4 L554.2 350.9 L553.2 350.4 L552.2 349.9 L551.2 349.4 L550.2 348.9 L549.2 348.4 L548.2 347.9 L547.2 347.4 L546.2 347.0 L545.2 346.5 L544.2 346.1 L543.2 345.7 L542.2 345.3 L541.2 345.0 L540.2 344.7 L539.2 344.4 L538.2 344.2 L537.2 343.9 L536.2 343.6 L535.2 343.3 L534.2 342.9 L533.2 342.6 L532.2 342.2 L531.2 341.8 L530.2 341.5 L529.2 341.1 L528.2 340.7 L527.2 340.3 L526.2 339.9 L525.2 339.5 L524.2 339.1 L523.2 338.7 L522.2 338.3 L521.2 337.9 L520.2 337.5 L519.2 337.1 L518.2 336.7 L517.2 336.2 L516.2 335.7 L515.2 335.1 L514.2 334.6 L513.2 334.0 L512.2 333.3 L511.2 332.7 L510.2 332.1 L509.2 331.4 L508.2 330.7 L507.2 330.0 L506.2 329.3 L505.2 328.6 L504.2 327.9 L503.2 327.2 L502.2 326.5 L501.2 325.8 L500.2 325.1 L499.2 324.4 L498.2 323.7 L497.2 323.0 L496.2 322.3 L495.2 321.6 L494.2 320.9 L493.2 320.2 L492.2 319.5 L491.2 318.8 L490.2 318.1 L489.2 317.4 L488.2 316.7 L487.2 316.0 L486.2 315.3 L485.2 314.6 L484.2 313.9 L483.2 313.2 L482.2 312.6 L481.2 312.0 L480.2 311.3 L479.2 310.7 L478.2 310.2 L477.2 309.6 L476.2 309.0 L475.2 308.5 L474.2 307.9 L473.2 307.4 L472.2 306.8 L471.2 306.3 L470.2 305.8 L469.2 305.3 L468.2 304.8 L467.2 304.4 L466.2 303.9 L465.2 303.4 L464.2 302.9 L463.2 302.5 L462.2 302.0 L461.2 301.6 L460.2 301.1 L459.2 300.7 L458.2 300.3 L457.2 299.9 L456.2 299.5 L455.2 299.2 L454.2 298.8 L453.2 298.5 L452.2 298.3 L451.2 298.0 L450.2 297.8 L449.2 297.7 L448.2 297.5 L447.2 297.5 L446.2 297.4 L445.2 297.4 L444.2 297.4 L443.2 297.5 L442.2 297.6 L441.2 297.7 L440.2 297.7 L439.2 297.8 L438.2 297.9 L437.2 298.0 L436.2 298.1 L435.2 298.2 L434.2 298.3 L433.2 298.4 L432.2 298.4 L431.2 298.5 L430.2 298.6 L429.2 298.7 L428.2 298.8 L427.2 298.9 L426.2 299.0 L425.2 299.1 L424.2 299.2 L423.2 299.3 L422.2 299.4 L421.2 299.5 L420.2 299.6 L419.2 299.8 L418.2 299.9 L417.2 300.0 L416.2 300.1 L415.2 300.2 L414.2 300.3 L413.2 300.4 L412.2 300.5 L411.2 300.6 L410.2 300.7 L409.2 300.8 L408.2 300.9 L407.2 301.1 L406.2 301.2 L405.2 301.3 L404.2 301.4 L403.2 301.5 L402.2 301.6 L401.2 301.7 L400.2 301.8 L399.2 301.8 L398.2 301.9 L397.2 302.0 L396.2 302.1 L395.2 302.2 L394.2 302.2 L393.2 302.3 L392.2 302.4 L391.2 302.4 L390.2 302.5 L389.2 302.6 L388.2 302.6 L387.2 302.7 L386.2 302.8 L385.2 302.8 L384.2 302.9 L383.2 303.0 L382.2 303.1 L381.2 303.2 L380.2 303.3 L379.2 303.4 L378.2 303.5 L377.2 303.6 L376.2 303.8 L375.2 303.9 L374.2 304.0 L373.2 304.1 L372.2 304.3 L371.2 304.4 L370.2 304.5 L369.2 304.7 L368.2 304.8 L367.2 305.0 L366.2 305.1 L365.2 305.2 L364.2 305.3 L363.2 305.5 L362.2 305.6 L361.2 305.7 L360.2 305.8 L359.2 306.0 L358.2 306.1 L357.2 306.2 L356.2 306.3 L355.2 306.5 L354.2 306.6 L353.2 306.7 L352.2 306.8 L351.2 306.9 L350.2 307.1 L349.2 307.2 L348.2 307.3 L347.2 307.4 L346.2 307.4 L345.2 307.5 L344.2 307.6 L343.2 307.7 L342.2 307.7 L341.2 307.8 L340.2 307.8 L339.2 307.8 L338.2 307.8 L337.2 307.8 L336.2 307.8 L335.2 307.7 L334.2 307.7 L333.2 307.6 L332.2 307.5 L331.2 307.4 L330.2 307.3 L329.2 307.3 L328.2 307.2 L327.2 307.1 L326.2 307.0 L325.2 306.9 L324.2 306.8 L323.2 306.7 L322.2 306.6 L321.2 306.5 L320.2 306.4 L319.2 306.3 L318.2 306.2 L317.2 306.1 L316.2 306.1 L315.2 306.0 L314.2 305.9 L313.2 305.8 L312.2 305.7 L311.2 305.6 L310.2 305.5 L309.2 305.4 L308.2 305.2 L307.2 305.1 L306.2 305.0 L305.2 304.9 L304.2 304.7 L303.2 304.6 L302.2 304.4 L301.2 304.3 L300.2 304.1 L299.2 304.0 L298.2 303.8 L297.2 303.7 L296.2 303.5 L295.2 303.4 L294.2 303.2 L293.2 303.1 L292.2 302.9 L291.2 302.8 L290.2 302.6 L289.2 302.5 L288.2 302.3 L287.2 302.2 L286.2 302.0 L285.2 301.9 L284.2 301.7 L283.2 301.6 L282.2 301.4 L281.2 301.3 L280.2 301.1 L279.2 301.0 L278.2 300.8 L277.2 300.7 L276.2 300.5 L275.2 300.4 L274.2 300.3 L273.2 300.1 L272.2 300.0 L271.2 299.8 L270.2 299.7 L269.2 299.5 L268.2 299.4 L267.2 299.2 L266.2 299.1 L265.2 299.0 L264.2 298.8 L263.2 298.7 L262.2 298.5 L261.2 298.3 L260.2 298.1 L259.2 297.9 L258.2 297.7 L257.2 297.5 L256.2 297.3 L255.2 297.0 L254.2 296.8 L253.2 296.6 L252.2 296.4 L251.2 296.3 L250.2 296.1 L249.2 296.0 L248.2 295.9 L247.2 295.7 L246.2 295.6 L245.2 295.5 L244.2 295.5 L243.2 295.4 L242.2 295.3 L241.2 295.3 L240.2 295.2 L239.2 295.2 L238.2 295.2 L237.2 295.2 L236.2 295.2 L235.2 295.2 L234.2 295.2 L233.2 295.2 L232.2 295.3 L231.2 295.3 L230.2 295.4 L229.2 295.5 L228.2 295.6 L227.2 295.6 L226.2 295.7 L225.2 295.9 L224.2 296.0 L223.2 296.1 L222.2 296.3 L221.2 296.4 L220.2 296.6 L219.2 296.8 L218.2 297.0 L217.2 297.2 L216.2 297.4 L215.2 297.6 L214.2 297.9 L213.2 298.1 L212.2 298.4 L211.2 298.7 L210.2 298.9 L209.2 299.2 L208.2 299.5 L207.2 299.8 L206.2 300.0 L205.2 300.3 L204.2 300.6 L203.2 300.9 L202.2 301.1 L201.2 301.4 L200.2 301.7 L199.2 302.0 L198.2 302.3 L197.2 302.6 L196.2 302.9 L195.2 303.2 L194.2 303.5 L193.2 303.8 L192.2 304.0 L191.2 304.3 L190.2 304.6 L189.2 304.9 L188.2 305.2 L187.2 305.5 L186.2 305.8 L185.2 306.1 L184.2 306.4 L183.2 306.7 L182.2 307.0 L181.2 307.3 L180.2 307.6 L179.2 307.9 L178.2 308.2Z" fill="#ff77ff"/>
<polyline points="178.2,217.8 180.2,217.2 182.2,216.6 184.2,216.0 186.2,215.4 188.2,214.8 190.2,214.1 192.2,213.5 194.2,212.7 196.2,212.0 198.2,211.3 200.2,210.7 202.2,210.2 204.2,209.7 206.2,209.1 208.2,208.6 210.2,208.1 212.2,207.6 214.2,207.1 216.2,206.7 218.2,206.2 220.2,205.7 222.2,205.3 224.2,204.9 226.2,204.6 228.2,204.3 230.2,204.0 232.2,203.8 234.2,203.5 236.2,203.3 238.2,203.1 240.2,203.0 242.2,202.8 244.2,202.6 246.3,202.6 248.3,202.5 250.3,202.5 252.3,202.6 254.3,202.6 256.3,202.6 258.3,202.7 260.3,202.7 262.3,202.8 264.3,202.8 266.3,202.7 268.3,202.6 270.3,202.5 272.3,202.3 274.3,202.0 276.3,201.8 278.3,201.5 280.3,201.2 282.3,200.9 284.3,200.6 286.3,200.3 288.3,200.0 290.3,199.6 292.3,199.3 294.3,199.0 296.3,198.7 298.3,198.4 300.3,198.0 302.3,197.7 304.3,197.4 306.3,197.0 308.3,196.7 310.3,196.3 312.3,196.0 314.3,195.6 316.3,195.2 318.3,194.8 320.3,194.3 322.3,193.7 324.3,193.1 326.3,192.5 328.3,191.8 330.3,191.1 332.3,190.4 334.3,189.7 336.3,188.9 338.3,188.0 340.3,187.1 342.3,186.1 344.3,185.0 346.3,183.8 348.3,182.6 350.3,181.3 352.3,179.8 354.3,178.1 356.3,176.4 358.3,174.8 360.3,173.4 362.3,172.3 364.3,171.2 366.3,170.1 368.3,169.0 370.3,168.0 372.3,166.9 374.3,165.8 376.3,164.7 378.4,163.6 380.4,162.5 382.4,161.4 384.4,160.3 386.4,159.2 388.4,158.1 390.4,157.0 392.4,155.9 394.4,154.7 396.4,153.6 398.4,152.5 400.4,151.4 402.4,150.3 404.4,149.3 406.4,148.4 408.4,147.5 410.4,146.7 412.4,146.0 414.4,145.3 416.4,144.7 418.4,144.0 420.4,143.5 422.4,143.1 424.4,142.9 426.4,142.8 428.4,142.8 430.4,143.0 432.4,143.4 434.4,143.9 436.4,144.6 438.4,145.5 440.4,146.4 442.4,147.5 444.4,148.6 446.4,149.8 448.4,151.1 450.4,152.5 452.4,154.0 454.4,155.5 456.4,157.0 458.4,158.5 460.4,160.1 462.4,161.6 464.4,163.3 466.4,165.0 468.4,166.8 470.4,168.7 472.4,170.6 474.4,172.8 476.4,174.9 478.4,177.1 480.4,179.3 482.4,181.4 484.4,183.6 486.4,185.8 488.4,188.1 490.4,190.3 492.4,192.5 494.4,194.7 496.4,197.0 498.4,199.2 500.4,201.5 502.4,203.8 504.4,206.0 506.4,208.3 508.4,210.5 510.5,212.8 512.5,215.0 514.5,217.0 516.5,219.0 518.5,220.9 520.5,222.7 522.5,224.4 524.5,226.1 526.5,227.7 528.5,229.3 530.5,230.7 532.5,232.1 534.5,233.4 536.5,234.7 538.5,235.8 540.5,236.8 542.5,237.8 544.5,238.8 546.5,239.7 548.5,240.7 550.5,241.6 552.5,242.5 554.5,243.3 556.5,244.2 558.5,245.0 560.5,245.9 562.5,246.7 564.5,247.5 566.5,248.2 568.5,249.0 570.5,249.7 572.5,250.4 574.5,251.1 576.5,251.8 578.5,252.5 580.5,253.2 582.5,253.9 584.5,254.5 586.5,255.1 588.5,255.7 590.5,256.2 592.5,256.7 594.5,257.2 596.5,257.6 598.5,258.1 600.5,258.5 602.5,258.8 604.5,259.2 606.5,259.6 608.5,259.9 610.5,260.3 612.5,260.6 614.5,260.9 616.5,261.2 618.5,261.5 620.5,261.8 622.5,262.1 624.5,262.4 626.5,262.6 628.5,262.9 630.5,263.1 632.5,263.3 634.5,263.6 636.5,263.8 638.5,263.9 640.5,264.1 642.6,264.2 644.6,264.4 646.6,264.5 648.6,264.6 650.6,264.7 652.6,264.7 654.6,264.8 656.6,264.8 658.6,264.9 660.6,264.9 662.6,264.9 664.6,264.9 666.6,264.9 668.6,264.8 670.6,264.8 672.6,264.7 674.6,264.6 676.6,264.5 678.6,264.4 680.6,264.2 682.6,264.1 684.6,263.9 686.6,263.7 688.6,263.5 690.6,263.2 692.6,263.0 694.6,262.7 696.6,262.4 698.6,262.1 700.6,261.7 702.6,261.3 704.6,260.9 706.6,260.5 708.6,260.1" fill="none" stroke="#000" stroke-width="2.2" stroke-dasharray="0.01 6.9" stroke-linecap="round"/>
<polyline points="178.2,414.6 180.2,414.0 182.2,413.4 184.2,412.8 186.2,412.2 188.2,411.6 190.2,411.0 192.2,410.5 194.2,409.9 196.2,409.4 198.2,408.9 200.2,408.4 202.2,407.9 204.2,407.4 206.2,406.9 208.2,406.4 210.2,406.0 212.2,405.5 214.2,405.1 216.2,404.7 218.2,404.3 220.2,403.9 222.2,403.6 224.2,403.2 226.2,402.9 228.2,402.5 230.2,402.2 232.2,401.8 234.2,401.5 236.2,401.2 238.2,400.8 240.2,400.5 242.2,400.2 244.2,399.9 246.3,399.5 248.3,399.2 250.3,398.9 252.3,398.6 254.3,398.3 256.3,397.9 258.3,397.6 260.3,397.3 262.3,397.0 264.3,396.7 266.3,396.4 268.3,396.0 270.3,395.7 272.3,395.4 274.3,395.1 276.3,394.8 278.3,394.5 280.3,394.2 282.3,393.9 284.3,393.7 286.3,393.4 288.3,393.2 290.3,392.9 292.3,392.7 294.3,392.4 296.3,392.2 298.3,392.0 300.3,391.7 302.3,391.5 304.3,391.3 306.3,391.0 308.3,390.8 310.3,390.6 312.3,390.3 314.3,390.1 316.3,389.9 318.3,389.6 320.3,389.4 322.3,389.2 324.3,388.9 326.3,388.7 328.3,388.5 330.3,388.2 332.3,388.0 334.3,387.8 336.3,387.6 338.3,387.3 340.3,387.1 342.3,386.9 344.3,386.7 346.3,386.4 348.3,386.2 350.3,386.0 352.3,385.7 354.3,385.4 356.3,385.1 358.3,384.8 360.3,384.5 362.3,384.3 364.3,384.0 366.3,383.8 368.3,383.6 370.3,383.4 372.3,383.2 374.3,383.0 376.3,382.8 378.4,382.6 380.4,382.4 382.4,382.2 384.4,382.0 386.4,381.9 388.4,381.7 390.4,381.5 392.4,381.4 394.4,381.2 396.4,381.1 398.4,380.9 400.4,380.7 402.4,380.6 404.4,380.4 406.4,380.2 408.4,380.0 410.4,379.8 412.4,379.6 414.4,379.4 416.4,379.2 418.4,379.0 420.4,378.8 422.4,378.6 424.4,378.4 426.4,378.2 428.4,378.1 430.4,377.9 432.4,377.7 434.4,377.5 436.4,377.4 438.4,377.2 440.4,377.1 442.4,376.9 444.4,376.8 446.4,376.7 448.4,376.6 450.4,376.5 452.4,376.4 454.4,376.3 456.4,376.3 458.4,376.2 460.4,376.1 462.4,376.0 464.4,375.9 466.4,375.8 468.4,375.6 470.4,375.5 472.4,375.4 474.4,375.3 476.4,375.2 478.4,375.1 480.4,375.0 482.4,374.9 484.4,374.8 486.4,374.7 488.4,374.6 490.4,374.5 492.4,374.4 494.4,374.3 496.4,374.2 498.4,374.1 500.4,374.0 502.4,373.9 504.4,373.8 506.4,373.7 508.4,373.6 510.5,373.5 512.5,373.4 514.5,373.3 516.5,373.2 518.5,373.1 520.5,373.0 522.5,372.8 524.5,372.7 526.5,372.6 528.5,372.4 530.5,372.3 532.5,372.2 534.5,372.0 536.5,371.9 538.5,371.8 540.5,371.6 542.5,371.5 544.5,371.4 546.5,371.2 548.5,371.1 550.5,371.0 552.5,370.8 554.5,370.7 556.5,370.6 558.5,370.4 560.5,370.3 562.5,370.2 564.5,370.1 566.5,369.9 568.5,369.8 570.5,369.7 572.5,369.6 574.5,369.5 576.5,369.4 578.5,369.3 580.5,369.2 582.5,369.1 584.5,369.1 586.5,369.0 588.5,368.9 590.5,368.8 592.5,368.7 594.5,368.6 596.5,368.5 598.5,368.4 600.5,368.3 602.5,368.2 604.5,368.1 606.5,368.0 608.5,367.9 610.5,367.8 612.5,367.7 614.5,367.6 616.5,367.5 618.5,367.4 620.5,367.3 622.5,367.2 624.5,367.1 626.5,367.0 628.5,366.9 630.5,366.8 632.5,366.7 634.5,366.6 636.5,366.5 638.5,366.4 640.5,366.3 642.6,366.3 644.6,366.2 646.6,366.1 648.6,366.1 650.6,366.0 652.6,366.0 654.6,365.9 656.6,365.9 658.6,365.8 660.6,365.7 662.6,365.6 664.6,365.6 666.6,365.5 668.6,365.4 670.6,365.3 672.6,365.2 674.6,365.2 676.6,365.1 678.6,365.0 680.6,364.9 682.6,364.8 684.6,364.8 686.6,364.7 688.6,364.6 690.6,364.6 692.6,364.5 694.6,364.4 696.6,364.4 698.6,364.3 700.6,364.2 702.6,364.2 704.6,364.1 706.6,364.1 708.6,364.0" fill="none" stroke="#000" stroke-width="2.1" stroke-dasharray="10.6 9.83"/>
<polyline points="178.2,353.6 180.2,353.9 182.2,354.2 184.2,354.6 186.2,354.9 188.2,355.2 190.2,355.5 192.2,355.9 194.2,356.2 196.2,356.5 198.2,356.9 200.2,357.2 202.2,357.5 204.2,357.9 206.2,358.2 208.2,358.5 210.2,358.9 212.2,359.2 214.2,359.6 216.2,359.9 218.2,360.2 220.2,360.6 222.2,360.9 224.2,361.3 226.2,361.6 228.2,362.0 230.2,362.4 232.2,362.7 234.2,363.1 236.2,363.4 238.2,363.7 240.2,364.0 242.2,364.1 244.2,364.2 246.3,364.1 248.3,364.1 250.3,364.0 252.3,363.9 254.3,363.8 256.3,363.8 258.3,363.7 260.3,363.6 262.3,363.5 264.3,363.4 266.3,363.4 268.3,363.3 270.3,363.2 272.3,363.1 274.3,363.1 276.3,363.0 278.3,363.0 280.3,363.0 282.3,363.0 284.3,363.0 286.3,362.9 288.3,362.9 290.3,362.8 292.3,362.6 294.3,362.4 296.3,362.1 298.3,361.7 300.3,361.3 302.3,360.8 304.3,360.3 306.3,359.9 308.3,359.5 310.3,359.0 312.3,358.6 314.3,358.1 316.3,357.7 318.3,357.3 320.3,356.8 322.3,356.4 324.3,356.0 326.3,355.5 328.3,355.1 330.3,354.7 332.3,354.3 334.3,353.8 336.3,353.4 338.3,353.0 340.3,352.6 342.3,352.2 344.3,351.7 346.3,351.3 348.3,350.9 350.3,350.4 352.3,349.9 354.3,349.3 356.3,348.6 358.3,347.9 360.3,347.1 362.3,346.3 364.3,345.6 366.3,344.8 368.3,344.0 370.3,343.2 372.3,342.4 374.3,341.6 376.3,340.8 378.4,340.0 380.4,339.2 382.4,338.3 384.4,337.4 386.4,336.5 388.4,335.6 390.4,334.7 392.4,333.7 394.4,332.8 396.4,331.9 398.4,331.0 400.4,330.1 402.4,329.3 404.4,328.5 406.4,327.8 408.4,327.0 410.4,326.3 412.4,325.6 414.4,324.9 416.4,324.3 418.4,323.6 420.4,323.0 422.4,322.3 424.4,321.7 426.4,321.1 428.4,320.5 430.4,319.8 432.4,319.2 434.4,318.6 436.4,318.0 438.4,317.4 440.4,316.9 442.4,316.3 444.4,315.7 446.4,315.2 448.4,314.6 450.4,314.1 452.4,313.6 454.4,313.0 456.4,312.5 458.4,311.9 460.4,311.4 462.4,310.8 464.4,310.3 466.4,309.7 468.4,309.1 470.4,308.6 472.4,308.1 474.4,307.7 476.4,307.5 478.4,307.2 480.4,307.1 482.4,306.9 484.4,306.8 486.4,306.7 488.4,306.6 490.4,306.5 492.4,306.3 494.4,306.2 496.4,306.1 498.4,305.9 500.4,305.8 502.4,305.7 504.4,305.5 506.4,305.4 508.4,305.2 510.5,305.1 512.5,305.0 514.5,304.8 516.5,304.7 518.5,304.5 520.5,304.4 522.5,304.2 524.5,304.0 526.5,303.8 528.5,303.6 530.5,303.4 532.5,303.2 534.5,303.1 536.5,302.9 538.5,302.7 540.5,302.6 542.5,302.4 544.5,302.2 546.5,302.1 548.5,301.9 550.5,301.7 552.5,301.6 554.5,301.4 556.5,301.3 558.5,301.1 560.5,301.0 562.5,300.9 564.5,300.7 566.5,300.6 568.5,300.5 570.5,300.5 572.5,300.4 574.5,300.3 576.5,300.2 578.5,300.1 580.5,300.0 582.5,299.9 584.5,299.8 586.5,299.6 588.5,299.5 590.5,299.3 592.5,299.2 594.5,299.0 596.5,298.8 598.5,298.7 600.5,298.5 602.5,298.3 604.5,298.2 606.5,298.0 608.5,297.9 610.5,297.7 612.5,297.6 614.5,297.4 616.5,297.3 618.5,297.1 620.5,297.0 622.5,296.9 624.5,296.7 626.5,296.6 628.5,296.4 630.5,296.3 632.5,296.2 634.5,296.0 636.5,295.9 638.5,295.7 640.5,295.5 642.6,295.4 644.6,295.2 646.6,295.1 648.6,294.9 650.6,294.7 652.6,294.6 654.6,294.4 656.6,294.3 658.6,294.1 660.6,293.9 662.6,293.8 664.6,293.7 666.6,293.5 668.6,293.4 670.6,293.2 672.6,293.1 674.6,292.9 676.6,292.8 678.6,292.7 680.6,292.5 682.6,292.4 684.6,292.2 686.6,292.1 688.6,291.9 690.6,291.8 692.6,291.6 694.6,291.5 696.6,291.3 698.6,291.2 700.6,291.0 702.6,290.9 704.6,290.7 706.6,290.6 708.6,290.4" fill="none" stroke="#000" stroke-width="2.1" stroke-dasharray="12.6 4.3 2.4 4.7"/>
<polyline points="178.2,254.9 180.2,254.9 182.2,254.9 184.2,254.9 186.2,254.9 188.2,254.9 190.2,254.8 192.2,254.8 194.2,254.7 196.2,254.6 198.2,254.5 200.2,254.4 202.2,254.2 204.2,254.1 206.2,254.0 208.2,253.8 210.2,253.6 212.2,253.5 214.2,253.5 216.2,253.6 218.2,253.8 220.2,253.9 222.2,254.1 224.2,254.2 226.2,254.4 228.2,254.5 230.2,254.6 232.2,254.8 234.2,254.9 236.2,255.1 238.2,255.2 240.2,255.3 242.2,255.5 244.2,255.7 246.3,255.9 248.3,256.2 250.3,256.6 252.3,256.9 254.3,257.3 256.3,257.7 258.3,258.1 260.3,258.4 262.3,258.8 264.3,259.2 266.3,259.5 268.3,259.9 270.3,260.3 272.3,260.7 274.3,261.1 276.3,261.4 278.3,261.8 280.3,262.1 282.3,262.4 284.3,262.7 286.3,263.0 288.3,263.2 290.3,263.5 292.3,263.7 294.3,264.0 296.3,264.2 298.3,264.4 300.3,264.7 302.3,264.9 304.3,265.1 306.3,265.4 308.3,265.6 310.3,265.9 312.3,266.1 314.3,266.4 316.3,266.7 318.3,266.9 320.3,267.2 322.3,267.4 324.3,267.7 326.3,267.9 328.3,267.9 330.3,267.9 332.3,267.8 334.3,267.7 336.3,267.6 338.3,267.5 340.3,267.4 342.3,267.3 344.3,267.1 346.3,266.8 348.3,266.4 350.3,266.0 352.3,265.4 354.3,264.7 356.3,264.0 358.3,263.3 360.3,262.7 362.3,262.2 364.3,261.7 366.3,261.2 368.3,260.8 370.3,260.3 372.3,259.8 374.3,259.3 376.3,258.9 378.4,258.4 380.4,258.0 382.4,257.5 384.4,257.1 386.4,256.7 388.4,256.2 390.4,255.8 392.4,255.4 394.4,254.9 396.4,254.5 398.4,254.1 400.4,253.6 402.4,253.2 404.4,252.8 406.4,252.4 408.4,251.9 410.4,251.5 412.4,251.1 414.4,250.8 416.4,250.4 418.4,250.0 420.4,249.7 422.4,249.5 424.4,249.3 426.4,249.2 428.4,249.2 430.4,249.2 432.4,249.2 434.4,249.2 436.4,249.3 438.4,249.4 440.4,249.5 442.4,249.7 444.4,250.0 446.4,250.4 448.4,250.9 450.4,251.4 452.4,252.0 454.4,252.6 456.4,253.3 458.4,253.9 460.4,254.6 462.4,255.3 464.4,256.1 466.4,256.8 468.4,257.5 470.4,258.3 472.4,259.0 474.4,259.8 476.4,260.6 478.4,261.4 480.4,262.2 482.4,263.1 484.4,264.1 486.4,265.0 488.4,266.1 490.4,267.1 492.4,268.2 494.4,269.2 496.4,270.3 498.4,271.5 500.4,272.6 502.4,273.7 504.4,274.9 506.4,276.0 508.4,277.2 510.5,278.4 512.5,279.7 514.5,280.9 516.5,282.1 518.5,283.4 520.5,284.6 522.5,285.7 524.5,286.9 526.5,287.9 528.5,289.0 530.5,290.0 532.5,290.9 534.5,291.8 536.5,292.6 538.5,293.4 540.5,294.1 542.5,294.7 544.5,295.4 546.5,296.0 548.5,296.6 550.5,297.2 552.5,297.8 554.5,298.3 556.5,298.8 558.5,299.3 560.5,299.7 562.5,300.1 564.5,300.5 566.5,300.8 568.5,301.1 570.5,301.5 572.5,301.7 574.5,302.0 576.5,302.2 578.5,302.5 580.5,302.6 582.5,302.8 584.5,302.9 586.5,303.0 588.5,303.2 590.5,303.3 592.5,303.4 594.5,303.5 596.5,303.5 598.5,303.6 600.5,303.7 602.5,303.8 604.5,303.9 606.5,304.0 608.5,304.1 610.5,304.2 612.5,304.3 614.5,304.4 616.5,304.4 618.5,304.5 620.5,304.6 622.5,304.7 624.5,304.8 626.5,304.8 628.5,304.9 630.5,305.0 632.5,305.0 634.5,305.1 636.5,305.1 638.5,305.1 640.5,305.0 642.6,305.0 644.6,304.9 646.6,304.8 648.6,304.7 650.6,304.6 652.6,304.5 654.6,304.4 656.6,304.3 658.6,304.2 660.6,304.0 662.6,303.9 664.6,303.8 666.6,303.6 668.6,303.5 670.6,303.3 672.6,303.1 674.6,302.9 676.6,302.7 678.6,302.5 680.6,302.2 682.6,302.0 684.6,301.7 686.6,301.5 688.6,301.2 690.6,300.9 692.6,300.5 694.6,300.2 696.6,299.8 698.6,299.4 700.6,299.0 702.6,298.6 704.6,298.1 706.6,297.7 708.6,297.2" fill="none" stroke="#0000ff" stroke-width="3.1" stroke-linejoin="round"/>
<polyline points="178.2,367.6 180.2,367.4 182.2,367.2 184.2,367.0 186.2,366.8 188.2,366.5 190.2,366.3 192.2,366.0 194.2,365.7 196.2,365.3 198.2,365.0 200.2,364.6 202.2,364.2 204.2,363.7 206.2,363.1 208.2,362.6 210.2,362.0 212.2,361.6 214.2,361.3 216.2,361.0 218.2,360.8 220.2,360.6 222.2,360.4 224.2,360.3 226.2,360.1 228.2,359.9 230.2,359.6 232.2,359.3 234.2,359.0 236.2,358.7 238.2,358.4 240.2,358.1 242.2,357.8 244.2,357.5 246.3,357.2 248.3,356.9 250.3,356.6 252.3,356.3 254.3,356.0 256.3,355.7 258.3,355.4 260.3,355.1 262.3,354.8 264.3,354.5 266.3,354.2 268.3,353.9 270.3,353.6 272.3,353.3 274.3,353.0 276.3,352.8 278.3,352.5 280.3,352.3 282.3,352.0 284.3,351.8 286.3,351.6 288.3,351.4 290.3,351.1 292.3,350.9 294.3,350.6 296.3,350.3 298.3,350.1 300.3,349.8 302.3,349.5 304.3,349.2 306.3,348.9 308.3,348.6 310.3,348.3 312.3,347.9 314.3,347.6 316.3,347.3 318.3,346.9 320.3,346.5 322.3,346.2 324.3,345.8 326.3,345.5 328.3,345.1 330.3,344.7 332.3,344.4 334.3,344.0 336.3,343.7 338.3,343.4 340.3,343.1 342.3,342.8 344.3,342.4 346.3,342.1 348.3,341.7 350.3,341.3 352.3,340.9 354.3,340.4 356.3,339.9 358.3,339.4 360.3,338.9 362.3,338.4 364.3,337.9 366.3,337.4 368.3,336.8 370.3,336.3 372.3,335.8 374.3,335.3 376.3,334.8 378.4,334.3 380.4,333.8 382.4,333.3 384.4,332.8 386.4,332.3 388.4,331.9 390.4,331.4 392.4,331.0 394.4,330.5 396.4,330.1 398.4,329.6 400.4,329.2 402.4,328.8 404.4,328.4 406.4,328.0 408.4,327.6 410.4,327.2 412.4,326.8 414.4,326.4 416.4,326.1 418.4,325.7 420.4,325.3 422.4,324.9 424.4,324.5 426.4,324.2 428.4,323.8 430.4,323.4 432.4,323.1 434.4,322.7 436.4,322.3 438.4,322.0 440.4,321.7 442.4,321.3 444.4,321.0 446.4,320.7 448.4,320.4 450.4,320.1 452.4,319.9 454.4,319.7 456.4,319.5 458.4,319.3 460.4,319.1 462.4,318.9 464.4,318.7 466.4,318.6 468.4,318.4 470.4,318.3 472.4,318.1 474.4,318.0 476.4,317.9 478.4,317.8 480.4,317.7 482.4,317.6 484.4,317.5 486.4,317.4 488.4,317.4 490.4,317.3 492.4,317.3 494.4,317.2 496.4,317.2 498.4,317.1 500.4,317.1 502.4,317.0 504.4,317.0 506.4,317.0 508.4,317.0 510.5,317.0 512.5,317.0 514.5,316.9 516.5,316.9 518.5,316.9 520.5,316.9 522.5,316.9 524.5,316.8 526.5,316.8 528.5,316.7 530.5,316.6 532.5,316.5 534.5,316.4 536.5,316.3 538.5,316.2 540.5,316.1 542.5,316.0 544.5,315.9 546.5,315.8 548.5,315.6 550.5,315.5 552.5,315.4 554.5,315.2 556.5,315.1 558.5,314.9 560.5,314.8 562.5,314.6 564.5,314.5 566.5,314.3 568.5,314.2 570.5,314.0 572.5,313.8 574.5,313.7 576.5,313.5 578.5,313.3 580.5,313.2 582.5,313.0 584.5,312.9 586.5,312.7 588.5,312.6 590.5,312.4 592.5,312.3 594.5,312.2 596.5,312.0 598.5,311.9 600.5,311.7 602.5,311.6 604.5,311.5 606.5,311.3 608.5,311.2 610.5,311.0 612.5,310.9 614.5,310.7 616.5,310.6 618.5,310.4 620.5,310.2 622.5,310.1 624.5,309.9 626.5,309.8 628.5,309.6 630.5,309.4 632.5,309.3 634.5,309.1 636.5,309.0 638.5,308.8 640.5,308.6 642.6,308.4 644.6,308.3 646.6,308.1 648.6,307.9 650.6,307.7 652.6,307.5 654.6,307.4 656.6,307.2 658.6,307.0 660.6,306.9 662.6,306.7 664.6,306.5 666.6,306.4 668.6,306.3 670.6,306.1 672.6,306.0 674.6,305.8 676.6,305.7 678.6,305.6 680.6,305.4 682.6,305.3 684.6,305.1 686.6,305.0 688.6,304.8 690.6,304.7 692.6,304.5 694.6,304.4 696.6,304.2 698.6,304.0 700.6,303.9 702.6,303.7 704.6,303.5 706.6,303.4 708.6,303.2" fill="none" stroke="#ff0000" stroke-width="3.1" stroke-linejoin="round"/>
</g>
<g clip-path="url(#cpB)">
<path d="M178.2 712.2 L180.2 712.7 L182.2 713.1 L184.2 713.6 L186.2 714.0 L188.2 714.5 L190.2 715.0 L192.2 715.5 L194.2 716.0 L196.2 716.5 L198.2 717.0 L200.2 717.6 L202.2 718.1 L204.2 718.6 L206.2 719.2 L208.2 719.7 L210.2 720.3 L212.2 720.8 L214.2 721.5 L216.2 722.1 L218.2 722.8 L220.2 723.6 L222.2 724.3 L224.2 725.1 L226.2 725.9 L228.2 726.6 L230.2 727.4 L232.2 728.1 L234.2 728.8 L236.2 729.4 L238.2 729.9 L240.2 730.4 L242.2 730.9 L244.2 731.2 L246.3 731.6 L248.3 731.9 L250.3 732.2 L252.3 732.5 L254.3 732.8 L256.3 733.0 L258.3 733.3 L260.3 733.5 L262.3 733.8 L264.3 734.0 L266.3 734.2 L268.3 734.4 L270.3 734.7 L272.3 734.9 L274.3 735.1 L276.3 735.3 L278.3 735.5 L280.3 735.7 L282.3 735.9 L284.3 736.1 L286.3 736.3 L288.3 736.5 L290.3 736.7 L292.3 736.9 L294.3 737.1 L296.3 737.3 L298.3 737.5 L300.3 737.7 L302.3 737.9 L304.3 738.1 L306.3 738.3 L308.3 738.5 L310.3 738.7 L312.3 738.9 L314.3 739.1 L316.3 739.2 L318.3 739.3 L320.3 739.4 L322.3 739.5 L324.3 739.6 L326.3 739.6 L328.3 739.6 L330.3 739.6 L332.3 739.6 L334.3 739.5 L336.3 739.5 L338.3 739.5 L340.3 739.4 L342.3 739.4 L344.3 739.4 L346.3 739.3 L348.3 739.2 L350.3 739.2 L352.3 739.1 L354.3 739.0 L356.3 738.9 L358.3 738.8 L360.3 738.7 L362.3 738.6 L364.3 738.4 L366.3 738.3 L368.3 738.2 L370.3 738.1 L372.3 738.0 L374.3 737.9 L376.3 737.8 L378.4 737.6 L380.4 737.4 L382.4 737.2 L384.4 736.9 L386.4 736.5 L388.4 736.0 L390.4 735.4 L392.4 734.6 L394.4 733.5 L396.4 732.3 L398.4 730.9 L400.4 729.6 L402.4 728.5 L404.4 727.4 L406.4 726.4 L408.4 725.3 L410.4 724.3 L412.4 723.2 L414.4 722.2 L416.4 721.2 L418.4 720.3 L420.4 719.4 L422.4 718.5 L424.4 717.7 L426.4 716.9 L428.4 716.2 L430.4 715.6 L432.4 715.0 L434.4 714.5 L436.4 714.1 L438.4 713.7 L440.4 713.3 L442.4 713.0 L444.4 712.7 L446.4 712.4 L448.4 712.2 L450.4 712.0 L452.4 711.8 L454.4 711.6 L456.4 711.5 L458.4 711.4 L460.4 711.3 L462.4 711.3 L464.4 711.3 L466.4 711.3 L468.4 711.4 L470.4 711.5 L472.4 711.7 L474.4 711.8 L476.4 712.0 L478.4 712.1 L480.4 712.2 L482.4 712.3 L484.4 712.2 L486.4 712.2 L488.4 712.1 L490.4 712.0 L492.4 711.9 L494.4 711.7 L496.4 711.5 L498.4 711.3 L500.4 711.0 L502.4 710.7 L504.4 710.4 L506.4 710.0 L508.4 709.5 L510.5 709.1 L512.5 708.6 L514.5 708.2 L516.5 707.7 L518.5 707.2 L520.5 706.6 L522.5 706.1 L524.5 705.5 L526.5 704.9 L528.5 704.3 L530.5 703.8 L532.5 703.4 L534.5 702.9 L536.5 702.4 L538.5 702.0 L540.5 701.5 L542.5 701.1 L544.5 700.7 L546.5 700.2 L548.5 699.8 L550.5 699.4 L552.5 699.0 L554.5 698.5 L556.5 698.1 L558.5 697.7 L560.5 697.3 L562.5 696.8 L564.5 696.4 L566.5 696.0 L568.5 695.6 L570.5 695.1 L572.5 694.7 L574.5 694.2 L576.5 693.8 L578.5 693.3 L580.5 692.8 L582.5 692.4 L584.5 691.9 L586.5 691.5 L588.5 691.0 L590.5 690.6 L592.5 690.2 L594.5 689.7 L596.5 689.3 L598.5 689.0 L600.5 688.6 L602.5 688.2 L604.5 687.9 L606.5 687.5 L608.5 687.2 L610.5 686.8 L612.5 686.4 L614.5 686.0 L616.5 685.6 L618.5 685.2 L620.5 684.8 L622.5 684.4 L624.5 684.1 L626.5 683.7 L628.5 683.3 L630.5 682.9 L632.5 682.5 L634.5 682.1 L636.5 681.7 L638.5 681.4 L640.5 681.0 L642.6 680.7 L644.6 680.3 L646.6 680.0 L648.6 679.7 L650.6 679.3 L652.6 679.0 L654.6 678.7 L656.6 678.3 L658.6 678.0 L660.6 677.7 L662.6 677.3 L664.6 677.0 L666.6 676.7 L668.6 676.3 L670.6 676.0 L672.6 675.7 L674.6 675.4 L676.6 675.1 L678.6 674.7 L680.6 674.4 L682.6 674.1 L684.6 673.8 L686.6 673.5 L688.6 673.2 L690.6 673.0 L692.6 672.7 L694.6 672.5 L696.6 672.2 L698.6 672.0 L700.6 671.8 L702.6 671.6 L704.6 671.4 L706.6 671.2 L708.6 671.0 L708.6 822.3 L706.6 822.4 L704.6 822.4 L702.6 822.4 L700.6 822.5 L698.6 822.5 L696.6 822.5 L694.6 822.5 L692.6 822.6 L690.6 822.6 L688.6 822.6 L686.6 822.6 L684.6 822.7 L682.6 822.7 L680.6 822.7 L678.6 822.7 L676.6 822.8 L674.6 822.8 L672.6 822.8 L670.6 822.8 L668.6 822.9 L666.6 822.9 L664.6 822.9 L662.6 822.9 L660.6 823.0 L658.6 823.0 L656.6 823.0 L654.6 823.0 L652.6 823.0 L650.6 823.0 L648.6 823.1 L646.6 823.1 L644.6 823.1 L642.6 823.1 L640.5 823.1 L638.5 823.1 L636.5 823.1 L634.5 823.2 L632.5 823.2 L630.5 823.2 L628.5 823.2 L626.5 823.2 L624.5 823.2 L622.5 823.2 L620.5 823.3 L618.5 823.3 L616.5 823.3 L614.5 823.4 L612.5 823.5 L610.5 823.6 L608.5 823.7 L606.5 823.8 L604.5 823.8 L602.5 823.9 L600.5 824.0 L598.5 824.1 L596.5 824.2 L594.5 824.3 L592.5 824.4 L590.5 824.5 L588.5 824.6 L586.5 824.7 L584.5 824.8 L582.5 824.9 L580.5 825.0 L578.5 825.1 L576.5 825.2 L574.5 825.3 L572.5 825.4 L570.5 825.5 L568.5 825.6 L566.5 825.7 L564.5 825.8 L562.5 825.9 L560.5 825.9 L558.5 826.0 L556.5 826.1 L554.5 826.2 L552.5 826.2 L550.5 826.3 L548.5 826.3 L546.5 826.3 L544.5 826.3 L542.5 826.3 L540.5 826.3 L538.5 826.3 L536.5 826.3 L534.5 826.2 L532.5 826.2 L530.5 826.1 L528.5 826.0 L526.5 825.9 L524.5 825.9 L522.5 825.8 L520.5 825.8 L518.5 825.7 L516.5 825.7 L514.5 825.7 L512.5 825.7 L510.5 825.7 L508.4 825.7 L506.4 825.7 L504.4 825.8 L502.4 825.8 L500.4 825.8 L498.4 825.8 L496.4 825.9 L494.4 825.9 L492.4 825.9 L490.4 826.0 L488.4 826.0 L486.4 826.1 L484.4 826.1 L482.4 826.2 L480.4 826.3 L478.4 826.4 L476.4 826.5 L474.4 826.6 L472.4 826.7 L470.4 826.8 L468.4 826.9 L466.4 827.1 L464.4 827.2 L462.4 827.3 L460.4 827.5 L458.4 827.7 L456.4 827.8 L454.4 828.0 L452.4 828.2 L450.4 828.4 L448.4 828.7 L446.4 828.9 L444.4 829.1 L442.4 829.3 L440.4 829.6 L438.4 829.8 L436.4 830.1 L434.4 830.4 L432.4 830.7 L430.4 831.0 L428.4 831.3 L426.4 831.6 L424.4 832.0 L422.4 832.4 L420.4 832.8 L418.4 833.2 L416.4 833.7 L414.4 834.1 L412.4 834.6 L410.4 835.2 L408.4 835.7 L406.4 836.3 L404.4 836.8 L402.4 837.4 L400.4 838.0 L398.4 838.6 L396.4 839.2 L394.4 839.9 L392.4 840.5 L390.4 841.2 L388.4 841.9 L386.4 842.5 L384.4 843.2 L382.4 843.9 L380.4 844.7 L378.4 845.4 L376.3 846.1 L374.3 846.9 L372.3 847.7 L370.3 848.5 L368.3 849.3 L366.3 850.2 L364.3 851.1 L362.3 852.1 L360.3 853.1 L358.3 854.2 L356.3 855.4 L354.3 856.6 L352.3 857.7 L350.3 858.9 L348.3 859.9 L346.3 861.0 L344.3 862.1 L342.3 863.1 L340.3 864.1 L338.3 865.2 L336.3 866.2 L334.3 867.2 L332.3 868.2 L330.3 869.2 L328.3 870.2 L326.3 871.2 L324.3 872.1 L322.3 873.1 L320.3 874.0 L318.3 875.0 L316.3 875.9 L314.3 876.7 L312.3 877.6 L310.3 878.4 L308.3 879.2 L306.3 879.9 L304.3 880.6 L302.3 881.3 L300.3 882.0 L298.3 882.7 L296.3 883.4 L294.3 884.0 L292.3 884.7 L290.3 885.3 L288.3 886.0 L286.3 886.7 L284.3 887.4 L282.3 888.1 L280.3 888.8 L278.3 889.5 L276.3 890.2 L274.3 891.0 L272.3 891.7 L270.3 892.5 L268.3 893.3 L266.3 894.2 L264.3 895.1 L262.3 896.0 L260.3 896.9 L258.3 897.9 L256.3 898.9 L254.3 899.9 L252.3 900.9 L250.3 901.9 L248.3 903.0 L246.3 904.1 L244.2 905.2 L242.2 906.3 L240.2 907.4 L238.2 908.5 L236.2 909.6 L234.2 910.7 L232.2 911.9 L230.2 913.0 L228.2 914.2 L226.2 915.3 L224.2 916.5 L222.2 917.6 L220.2 918.8 L218.2 920.0 L216.2 921.1 L214.2 922.3 L212.2 923.5 L210.2 924.7 L208.2 925.9 L206.2 927.2 L204.2 928.4 L202.2 929.6 L200.2 930.9 L198.2 932.1 L196.2 933.4 L194.2 934.7 L192.2 935.9 L190.2 937.2 L188.2 938.5 L186.2 939.8 L184.2 941.1 L182.2 942.5 L180.2 943.8 L178.2 945.1Z" fill="#ffb3b3"/>
<path d="M178.2 654.5 L180.2 654.7 L182.2 654.9 L184.2 655.1 L186.2 655.2 L188.2 655.4 L190.2 655.6 L192.2 655.7 L194.2 655.9 L196.2 656.1 L198.2 656.2 L200.2 656.4 L202.2 656.6 L204.2 656.7 L206.2 656.8 L208.2 656.9 L210.2 657.0 L212.2 657.1 L214.2 657.2 L216.2 657.2 L218.2 657.3 L220.2 657.2 L222.2 657.1 L224.2 656.9 L226.2 656.5 L228.2 656.0 L230.2 655.5 L232.2 655.1 L234.2 654.7 L236.2 654.4 L238.2 654.1 L240.2 653.8 L242.2 653.5 L244.2 653.3 L246.3 653.1 L248.3 653.0 L250.3 653.1 L252.3 653.3 L254.3 653.5 L256.3 653.8 L258.3 654.1 L260.3 654.5 L262.3 654.8 L264.3 655.0 L266.3 655.2 L268.3 655.3 L270.3 655.4 L272.3 655.4 L274.3 655.3 L276.3 655.1 L278.3 655.0 L280.3 654.8 L282.3 654.5 L284.3 654.3 L286.3 654.0 L288.3 653.7 L290.3 653.4 L292.3 653.2 L294.3 652.9 L296.3 652.7 L298.3 652.4 L300.3 652.2 L302.3 652.0 L304.3 651.7 L306.3 651.5 L308.3 651.2 L310.3 651.0 L312.3 650.7 L314.3 650.4 L316.3 650.1 L318.3 649.7 L320.3 649.2 L322.3 648.7 L324.3 648.0 L326.3 647.3 L328.3 646.4 L330.3 645.6 L332.3 644.7 L334.3 643.7 L336.3 642.8 L338.3 641.9 L340.3 640.9 L342.3 640.0 L344.3 638.9 L346.3 637.8 L348.3 636.6 L350.3 635.5 L352.3 634.3 L354.3 633.2 L356.3 632.1 L358.3 631.0 L360.3 629.9 L362.3 628.8 L364.3 627.8 L366.3 626.8 L368.3 625.8 L370.3 624.8 L372.3 623.8 L374.3 622.9 L376.3 621.9 L378.4 620.9 L380.4 619.9 L382.4 618.8 L384.4 617.7 L386.4 616.5 L388.4 615.3 L390.4 614.1 L392.4 612.8 L394.4 611.6 L396.4 610.4 L398.4 609.2 L400.4 608.0 L402.4 606.9 L404.4 605.9 L406.4 605.0 L408.4 604.1 L410.4 603.4 L412.4 602.7 L414.4 602.1 L416.4 601.5 L418.4 601.1 L420.4 600.7 L422.4 600.5 L424.4 600.4 L426.4 600.3 L428.4 600.4 L430.4 600.5 L432.4 600.7 L434.4 601.1 L436.4 601.5 L438.4 602.1 L440.4 602.9 L442.4 603.7 L444.4 604.7 L446.4 605.7 L448.4 606.8 L450.4 607.9 L452.4 609.1 L454.4 610.4 L456.4 611.6 L458.4 612.9 L460.4 614.2 L462.4 615.5 L464.4 616.9 L466.4 618.4 L468.4 619.9 L470.4 621.5 L472.4 623.2 L474.4 625.0 L476.4 626.9 L478.4 628.9 L480.4 630.8 L482.4 632.8 L484.4 634.8 L486.4 636.8 L488.4 638.9 L490.4 640.9 L492.4 643.0 L494.4 645.1 L496.4 647.2 L498.4 649.3 L500.4 651.5 L502.4 653.7 L504.4 655.9 L506.4 658.0 L508.4 660.1 L510.5 662.1 L512.5 664.1 L514.5 666.0 L516.5 667.8 L518.5 669.7 L520.5 671.6 L522.5 673.4 L524.5 675.3 L526.5 677.1 L528.5 679.0 L530.5 680.8 L532.5 682.5 L534.5 684.2 L536.5 685.8 L538.5 687.2 L540.5 688.5 L542.5 689.7 L544.5 690.7 L546.5 691.5 L548.5 692.2 L550.5 692.8 L552.5 693.4 L554.5 693.9 L556.5 694.5 L558.5 695.1 L560.5 695.6 L562.5 696.2 L564.5 696.7 L566.5 697.2 L568.5 697.7 L570.5 698.2 L572.5 698.8 L574.5 699.3 L576.5 699.8 L578.5 700.3 L580.5 700.8 L582.5 701.3 L584.5 701.8 L586.5 702.3 L588.5 702.8 L590.5 703.3 L592.5 703.8 L594.5 704.3 L596.5 704.8 L598.5 705.3 L600.5 705.8 L602.5 706.3 L604.5 706.8 L606.5 707.3 L608.5 707.8 L610.5 708.3 L612.5 708.8 L614.5 709.2 L616.5 709.6 L618.5 709.9 L620.5 710.3 L622.5 710.6 L624.5 710.8 L626.5 711.1 L628.5 711.3 L630.5 711.5 L632.5 711.7 L634.5 711.9 L636.5 712.1 L638.5 712.3 L640.5 712.5 L642.6 712.6 L644.6 712.8 L646.6 712.9 L648.6 713.0 L650.6 713.1 L652.6 713.2 L654.6 713.2 L656.6 713.3 L658.6 713.3 L660.6 713.3 L662.6 713.4 L664.6 713.3 L666.6 713.3 L668.6 713.3 L670.6 713.2 L672.6 713.1 L674.6 713.0 L676.6 712.9 L678.6 712.8 L680.6 712.6 L682.6 712.4 L684.6 712.2 L686.6 712.0 L688.6 711.8 L690.6 711.6 L692.6 711.3 L694.6 711.0 L696.6 710.7 L698.6 710.3 L700.6 710.0 L702.6 709.6 L704.6 709.2 L706.6 708.8 L708.6 708.3 L708.6 820.5 L706.6 820.6 L704.6 820.6 L702.6 820.7 L700.6 820.8 L698.6 820.9 L696.6 821.0 L694.6 821.0 L692.6 821.1 L690.6 821.1 L688.6 821.2 L686.6 821.2 L684.6 821.3 L682.6 821.3 L680.6 821.4 L678.6 821.4 L676.6 821.4 L674.6 821.4 L672.6 821.4 L670.6 821.4 L668.6 821.4 L666.6 821.4 L664.6 821.3 L662.6 821.3 L660.6 821.2 L658.6 821.2 L656.6 821.1 L654.6 821.0 L652.6 820.8 L650.6 820.7 L648.6 820.5 L646.6 820.3 L644.6 820.1 L642.6 820.0 L640.5 819.7 L638.5 819.5 L636.5 819.3 L634.5 819.1 L632.5 818.8 L630.5 818.6 L628.5 818.3 L626.5 818.0 L624.5 817.7 L622.5 817.4 L620.5 817.1 L618.5 816.8 L616.5 816.5 L614.5 816.1 L612.5 815.8 L610.5 815.4 L608.5 815.0 L606.5 814.6 L604.5 814.2 L602.5 813.8 L600.5 813.3 L598.5 812.9 L596.5 812.4 L594.5 811.8 L592.5 811.3 L590.5 810.7 L588.5 810.1 L586.5 809.5 L584.5 808.8 L582.5 808.1 L580.5 807.3 L578.5 806.6 L576.5 805.8 L574.5 805.0 L572.5 804.2 L570.5 803.4 L568.5 802.5 L566.5 801.7 L564.5 800.8 L562.5 800.0 L560.5 799.1 L558.5 798.2 L556.5 797.2 L554.5 796.2 L552.5 795.2 L550.5 794.2 L548.5 793.2 L546.5 792.2 L544.5 791.3 L542.5 790.5 L540.5 789.9 L538.5 789.4 L536.5 788.9 L534.5 788.2 L532.5 787.5 L530.5 786.7 L528.5 786.0 L526.5 785.2 L524.5 784.4 L522.5 783.6 L520.5 782.8 L518.5 781.9 L516.5 781.0 L514.5 779.9 L512.5 778.7 L510.5 777.4 L508.4 776.0 L506.4 774.7 L504.4 773.3 L502.4 771.9 L500.4 770.5 L498.4 769.0 L496.4 767.6 L494.4 766.2 L492.4 764.8 L490.4 763.4 L488.4 762.0 L486.4 760.6 L484.4 759.2 L482.4 757.9 L480.4 756.6 L478.4 755.4 L476.4 754.3 L474.4 753.2 L472.4 752.1 L470.4 751.1 L468.4 750.1 L466.4 749.1 L464.4 748.2 L462.4 747.3 L460.4 746.4 L458.4 745.5 L456.4 744.8 L454.4 744.1 L452.4 743.5 L450.4 743.0 L448.4 742.7 L446.4 742.6 L444.4 742.6 L442.4 742.7 L440.4 742.9 L438.4 743.0 L436.4 743.2 L434.4 743.4 L432.4 743.6 L430.4 743.8 L428.4 744.0 L426.4 744.2 L424.4 744.4 L422.4 744.6 L420.4 744.8 L418.4 745.0 L416.4 745.2 L414.4 745.4 L412.4 745.6 L410.4 745.9 L408.4 746.1 L406.4 746.3 L404.4 746.5 L402.4 746.7 L400.4 746.9 L398.4 747.1 L396.4 747.2 L394.4 747.4 L392.4 747.5 L390.4 747.6 L388.4 747.8 L386.4 747.9 L384.4 748.1 L382.4 748.2 L380.4 748.4 L378.4 748.7 L376.3 748.9 L374.3 749.2 L372.3 749.4 L370.3 749.7 L368.3 749.9 L366.3 750.2 L364.3 750.5 L362.3 750.7 L360.3 751.0 L358.3 751.2 L356.3 751.5 L354.3 751.7 L352.3 752.0 L350.3 752.2 L348.3 752.4 L346.3 752.6 L344.3 752.7 L342.3 752.9 L340.3 752.9 L338.3 753.0 L336.3 752.9 L334.3 752.8 L332.3 752.7 L330.3 752.5 L328.3 752.3 L326.3 752.1 L324.3 751.9 L322.3 751.7 L320.3 751.6 L318.3 751.4 L316.3 751.2 L314.3 751.0 L312.3 750.8 L310.3 750.6 L308.3 750.4 L306.3 750.2 L304.3 749.9 L302.3 749.6 L300.3 749.3 L298.3 749.0 L296.3 748.7 L294.3 748.4 L292.3 748.1 L290.3 747.8 L288.3 747.5 L286.3 747.2 L284.3 746.9 L282.3 746.6 L280.3 746.3 L278.3 746.0 L276.3 745.7 L274.3 745.4 L272.3 745.1 L270.3 744.8 L268.3 744.5 L266.3 744.3 L264.3 744.0 L262.3 743.7 L260.3 743.3 L258.3 742.9 L256.3 742.4 L254.3 742.0 L252.3 741.6 L250.3 741.3 L248.3 741.0 L246.3 740.8 L244.2 740.6 L242.2 740.5 L240.2 740.4 L238.2 740.3 L236.2 740.3 L234.2 740.4 L232.2 740.4 L230.2 740.5 L228.2 740.7 L226.2 740.9 L224.2 741.1 L222.2 741.4 L220.2 741.7 L218.2 742.1 L216.2 742.5 L214.2 743.0 L212.2 743.5 L210.2 744.1 L208.2 744.6 L206.2 745.2 L204.2 745.7 L202.2 746.3 L200.2 746.9 L198.2 747.4 L196.2 748.0 L194.2 748.6 L192.2 749.2 L190.2 749.8 L188.2 750.4 L186.2 751.0 L184.2 751.5 L182.2 752.1 L180.2 752.7 L178.2 753.3Z" fill="#b3b3ff"/>
<path d="M178.2 712.2 L179.2 712.5 L180.2 712.7 L181.2 712.9 L182.2 713.1 L183.2 713.3 L184.2 713.6 L185.2 713.8 L186.2 714.0 L187.2 714.3 L188.2 714.5 L189.2 714.8 L190.2 715.0 L191.2 715.3 L192.2 715.5 L193.2 715.8 L194.2 716.0 L195.2 716.3 L196.2 716.5 L197.2 716.8 L198.2 717.0 L199.2 717.3 L200.2 717.6 L201.2 717.8 L202.2 718.1 L203.2 718.4 L204.2 718.6 L205.2 718.9 L206.2 719.2 L207.2 719.5 L208.2 719.7 L209.2 720.0 L210.2 720.3 L211.2 720.5 L212.2 720.8 L213.2 721.1 L214.2 721.4 L215.2 721.8 L216.2 722.1 L217.2 722.5 L218.2 722.8 L219.2 723.2 L220.2 723.5 L221.2 723.9 L222.2 724.3 L223.2 724.7 L224.2 725.1 L225.2 725.5 L226.2 725.8 L227.2 726.2 L228.2 726.6 L229.2 727.0 L230.2 727.4 L231.2 727.7 L232.2 728.1 L233.2 728.4 L234.2 728.7 L235.2 729.1 L236.2 729.4 L237.2 729.7 L238.2 729.9 L239.2 730.2 L240.2 730.4 L241.2 730.7 L242.2 730.8 L243.2 731.0 L244.2 731.2 L245.2 731.4 L246.2 731.6 L247.2 731.7 L248.2 731.9 L249.2 732.0 L250.2 732.2 L251.2 732.3 L252.2 732.5 L253.2 732.6 L254.2 732.8 L255.2 732.9 L256.2 733.0 L257.2 733.2 L258.2 733.3 L259.2 733.4 L260.2 733.5 L261.2 733.7 L262.2 733.8 L263.2 733.9 L264.2 734.0 L265.2 734.1 L266.2 734.2 L267.2 734.3 L268.2 734.4 L269.2 734.5 L270.2 734.7 L271.2 734.8 L272.2 734.9 L273.2 735.0 L274.2 735.1 L275.2 735.2 L276.2 735.3 L277.2 735.4 L278.2 735.5 L279.2 735.6 L280.2 735.7 L281.2 735.8 L282.2 735.9 L283.2 736.0 L284.2 736.1 L285.2 736.2 L286.2 736.3 L287.2 736.4 L288.2 736.5 L289.2 736.6 L290.2 736.7 L291.2 736.8 L292.2 736.9 L293.2 737.0 L294.2 737.1 L295.2 737.2 L296.2 737.3 L297.2 737.4 L298.2 737.5 L299.2 737.6 L300.2 737.7 L301.2 737.8 L302.2 737.9 L303.2 738.0 L304.2 738.1 L305.2 738.2 L306.2 738.3 L307.2 738.4 L308.2 738.5 L309.2 738.6 L310.2 738.7 L311.2 738.8 L312.2 738.9 L313.2 738.9 L314.2 739.0 L315.2 739.1 L316.2 739.2 L317.2 739.3 L318.2 739.3 L319.2 739.4 L320.2 739.4 L321.2 739.5 L322.2 739.5 L323.2 739.5 L324.2 739.5 L325.2 739.6 L326.2 739.6 L327.2 739.6 L328.2 739.6 L329.2 739.6 L330.2 739.6 L331.2 739.6 L332.2 739.6 L333.2 739.5 L334.2 739.5 L335.2 739.5 L336.2 739.5 L337.2 739.5 L338.2 739.5 L339.2 739.5 L340.2 739.4 L341.2 739.4 L342.2 739.4 L343.2 739.4 L344.2 739.4 L345.2 739.3 L346.2 739.3 L347.2 739.3 L348.2 739.3 L349.2 739.2 L350.2 739.2 L351.2 739.1 L352.2 739.1 L353.2 739.0 L354.2 739.0 L355.2 738.9 L356.2 738.9 L357.2 738.8 L358.2 738.8 L359.2 738.7 L360.2 738.7 L361.2 738.6 L362.2 738.6 L363.2 738.5 L364.2 738.4 L365.2 738.4 L366.2 738.3 L367.2 738.3 L368.2 738.2 L369.2 738.2 L370.2 738.1 L371.2 738.0 L372.2 738.0 L373.2 737.9 L374.2 737.9 L375.2 737.8 L376.2 737.8 L377.2 737.7 L378.2 737.6 L379.2 737.5 L380.2 737.5 L381.2 737.3 L382.2 737.2 L383.2 737.1 L384.2 736.9 L385.2 736.7 L386.2 736.5 L387.2 736.3 L388.2 736.0 L389.2 735.7 L390.2 735.4 L391.2 735.1 L392.2 734.7 L393.2 734.2 L394.2 733.6 L395.2 733.0 L396.2 732.4 L397.2 731.7 L398.2 731.0 L399.2 730.4 L400.2 729.7 L401.2 729.1 L402.2 728.6 L403.2 728.1 L404.2 727.5 L405.2 727.0 L406.2 726.5 L407.2 725.9 L408.2 725.4 L409.2 724.9 L410.2 724.4 L411.2 723.8 L412.2 723.3 L413.2 722.8 L414.2 722.3 L415.2 721.8 L416.2 721.3 L417.2 720.8 L418.2 720.4 L419.2 719.9 L420.2 719.5 L421.2 719.0 L422.2 718.6 L423.2 718.2 L424.2 717.8 L425.2 717.4 L426.2 717.0 L427.2 716.6 L428.2 716.3 L429.2 716.0 L430.2 715.7 L431.2 715.4 L432.2 715.1 L433.2 714.8 L434.2 714.6 L435.2 714.3 L436.2 714.1 L437.2 713.9 L438.2 713.7 L439.2 713.5 L440.2 713.3 L441.2 713.1 L442.2 713.0 L443.2 712.8 L444.2 712.7 L445.2 712.6 L446.2 712.4 L447.2 712.3 L448.2 712.2 L449.2 712.1 L450.2 712.0 L451.2 711.9 L452.2 711.8 L453.2 711.7 L454.2 711.6 L455.2 711.6 L456.2 711.5 L457.2 711.4 L458.2 711.4 L459.2 711.3 L460.2 711.3 L461.2 711.3 L462.2 711.3 L463.2 711.3 L464.2 711.2 L465.2 711.3 L466.2 711.3 L467.2 711.3 L468.2 711.4 L469.2 711.4 L470.2 711.5 L471.2 711.6 L472.2 711.6 L473.2 711.7 L474.2 711.8 L475.2 711.9 L476.2 712.0 L477.2 712.0 L478.2 712.1 L479.2 712.2 L480.2 712.2 L481.2 712.2 L482.2 712.3 L483.2 712.3 L484.2 712.3 L485.2 712.2 L486.2 712.2 L487.2 712.2 L488.2 712.1 L489.2 712.1 L490.2 712.0 L491.2 712.0 L492.2 711.9 L493.2 711.8 L494.2 711.8 L495.2 711.7 L496.2 711.6 L497.2 711.5 L498.2 711.3 L499.2 711.2 L500.2 711.1 L501.2 710.9 L502.2 710.8 L503.2 710.6 L504.2 710.4 L505.2 710.2 L506.2 710.0 L507.2 709.8 L508.2 709.6 L509.2 709.4 L510.2 709.2 L511.2 708.9 L512.2 708.7 L513.2 708.5 L514.2 708.2 L515.2 708.0 L516.2 707.7 L517.2 707.5 L518.2 707.2 L519.2 707.0 L520.2 706.7 L521.2 706.4 L522.2 706.1 L523.2 705.8 L524.2 705.6 L525.2 705.3 L526.2 705.0 L527.2 704.7 L528.2 704.4 L529.2 704.1 L530.2 703.9 L531.2 703.7 L532.2 703.4 L533.2 703.2 L534.2 703.0 L535.2 702.7 L536.2 702.5 L537.2 702.3 L538.2 702.0 L539.2 701.8 L540.2 701.6 L541.2 701.4 L542.2 701.2 L543.2 700.9 L544.2 700.7 L545.2 700.5 L546.2 700.3 L547.2 700.1 L548.2 699.9 L549.2 699.7 L550.2 699.5 L551.2 699.2 L552.2 699.0 L553.2 698.8 L554.2 698.6 L555.2 698.4 L556.2 698.2 L557.2 698.0 L558.2 697.8 L559.2 697.5 L560.2 697.3 L561.2 697.1 L562.2 696.9 L563.2 696.7 L564.2 696.6 L565.2 696.9 L566.2 697.2 L567.2 697.4 L568.2 697.7 L569.2 697.9 L570.2 698.2 L571.2 698.4 L572.2 698.7 L573.2 698.9 L574.2 699.2 L575.2 699.4 L576.2 699.7 L577.2 699.9 L578.2 700.2 L579.2 700.4 L580.2 700.7 L581.2 700.9 L582.2 701.2 L583.2 701.4 L584.2 701.7 L585.2 701.9 L586.2 702.2 L587.2 702.5 L588.2 702.7 L589.2 703.0 L590.2 703.2 L591.2 703.5 L592.2 703.7 L593.2 704.0 L594.2 704.2 L595.2 704.5 L596.2 704.7 L597.2 705.0 L598.2 705.2 L599.2 705.5 L600.2 705.7 L601.2 706.0 L602.2 706.2 L603.2 706.5 L604.2 706.7 L605.2 707.0 L606.2 707.2 L607.2 707.5 L608.2 707.7 L609.2 708.0 L610.2 708.2 L611.2 708.4 L612.2 708.7 L613.2 708.9 L614.2 709.1 L615.2 709.3 L616.2 709.5 L617.2 709.7 L618.2 709.9 L619.2 710.1 L620.2 710.2 L621.2 710.4 L622.2 710.5 L623.2 710.6 L624.2 710.8 L625.2 710.9 L626.2 711.0 L627.2 711.1 L628.2 711.3 L629.2 711.4 L630.2 711.5 L631.2 711.6 L632.2 711.7 L633.2 711.8 L634.2 711.9 L635.2 712.0 L636.2 712.1 L637.2 712.2 L638.2 712.3 L639.2 712.3 L640.2 712.4 L641.2 712.5 L642.2 712.6 L643.2 712.7 L644.2 712.7 L645.2 712.8 L646.2 712.9 L647.2 712.9 L648.2 713.0 L649.2 713.0 L650.2 713.1 L651.2 713.1 L652.2 713.2 L653.2 713.2 L654.2 713.2 L655.2 713.3 L656.2 713.3 L657.2 713.3 L658.2 713.3 L659.2 713.3 L660.2 713.3 L661.2 713.3 L662.2 713.4 L663.2 713.4 L664.2 713.3 L665.2 713.3 L666.2 713.3 L667.2 713.3 L668.2 713.3 L669.2 713.2 L670.2 713.2 L671.2 713.2 L672.2 713.1 L673.2 713.1 L674.2 713.0 L675.2 713.0 L676.2 712.9 L677.2 712.8 L678.2 712.8 L679.2 712.7 L680.2 712.6 L681.2 712.5 L682.2 712.5 L683.2 712.4 L684.2 712.3 L685.2 712.2 L686.2 712.1 L687.2 712.0 L688.2 711.8 L689.2 711.7 L690.2 711.6 L691.2 711.5 L692.2 711.3 L693.2 711.2 L694.2 711.1 L695.2 710.9 L696.2 710.7 L697.2 710.6 L698.2 710.4 L699.2 710.2 L700.2 710.1 L701.2 709.9 L702.2 709.7 L703.2 709.5 L704.2 709.3 L705.2 709.1 L706.2 708.9 L707.2 708.7 L708.6 708.3 L708.6 820.5 L707.2 820.5 L706.2 820.6 L705.2 820.6 L704.2 820.7 L703.2 820.7 L702.2 820.8 L701.2 820.8 L700.2 820.8 L699.2 820.9 L698.2 820.9 L697.2 820.9 L696.2 821.0 L695.2 821.0 L694.2 821.0 L693.2 821.1 L692.2 821.1 L691.2 821.1 L690.2 821.2 L689.2 821.2 L688.2 821.2 L687.2 821.2 L686.2 821.3 L685.2 821.3 L684.2 821.3 L683.2 821.3 L682.2 821.3 L681.2 821.4 L680.2 821.4 L679.2 821.4 L678.2 821.4 L677.2 821.4 L676.2 821.4 L675.2 821.4 L674.2 821.4 L673.2 821.4 L672.2 821.4 L671.2 821.4 L670.2 821.4 L669.2 821.4 L668.2 821.4 L667.2 821.4 L666.2 821.4 L665.2 821.3 L664.2 821.3 L663.2 821.3 L662.2 821.3 L661.2 821.2 L660.2 821.2 L659.2 821.2 L658.2 821.1 L657.2 821.1 L656.2 821.0 L655.2 821.0 L654.2 820.9 L653.2 820.9 L652.2 820.8 L651.2 820.7 L650.2 820.6 L649.2 820.6 L648.2 820.5 L647.2 820.4 L646.2 820.3 L645.2 820.2 L644.2 820.1 L643.2 820.0 L642.2 819.9 L641.2 819.8 L640.2 819.7 L639.2 819.6 L638.2 819.5 L637.2 819.4 L636.2 819.3 L635.2 819.2 L634.2 819.0 L633.2 818.9 L632.2 818.8 L631.2 818.7 L630.2 818.5 L629.2 818.4 L628.2 818.3 L627.2 818.1 L626.2 818.0 L625.2 817.8 L624.2 817.7 L623.2 817.5 L622.2 817.4 L621.2 817.2 L620.2 817.1 L619.2 816.9 L618.2 816.7 L617.2 816.6 L616.2 816.4 L615.2 816.2 L614.2 816.1 L613.2 815.9 L612.2 815.7 L611.2 815.5 L610.2 815.3 L609.2 815.2 L608.2 815.0 L607.2 814.8 L606.2 814.6 L605.2 814.4 L604.2 814.2 L603.2 813.9 L602.2 813.7 L601.2 813.5 L600.2 813.3 L599.2 813.0 L598.2 812.8 L597.2 812.5 L596.2 812.3 L595.2 812.0 L594.2 811.7 L593.2 811.5 L592.2 811.2 L591.2 810.9 L590.2 810.6 L589.2 810.3 L588.2 810.0 L587.2 809.7 L586.2 809.3 L585.2 809.0 L584.2 808.7 L583.2 808.3 L582.2 808.0 L581.2 807.6 L580.2 807.2 L579.2 806.9 L578.2 806.5 L577.2 806.1 L576.2 805.7 L575.2 805.3 L574.2 804.9 L573.2 804.5 L572.2 804.1 L571.2 803.7 L570.2 803.3 L569.2 802.8 L568.2 802.4 L567.2 802.0 L566.2 801.6 L565.2 801.1 L564.2 800.7 L563.2 800.3 L562.2 799.8 L561.2 799.4 L560.2 799.0 L559.2 798.5 L558.2 798.1 L557.2 797.6 L556.2 797.1 L555.2 796.6 L554.2 796.1 L553.2 795.6 L552.2 795.1 L551.2 794.6 L550.2 794.0 L549.2 793.5 L548.2 793.1 L547.2 792.6 L546.2 792.1 L545.2 791.7 L544.2 791.2 L543.2 790.8 L542.2 790.4 L541.2 790.1 L540.2 789.8 L539.2 789.6 L538.2 789.3 L537.2 789.1 L536.2 788.8 L535.2 788.5 L534.2 788.1 L533.2 787.7 L532.2 787.4 L531.2 787.0 L530.2 786.6 L529.2 786.2 L528.2 785.9 L527.2 785.5 L526.2 785.1 L525.2 784.7 L524.2 784.3 L523.2 783.9 L522.2 783.5 L521.2 783.1 L520.2 782.7 L519.2 782.3 L518.2 781.8 L517.2 781.3 L516.2 780.8 L515.2 780.3 L514.2 779.7 L513.2 779.1 L512.2 778.5 L511.2 777.9 L510.2 777.2 L509.2 776.5 L508.2 775.9 L507.2 775.2 L506.2 774.5 L505.2 773.8 L504.2 773.1 L503.2 772.4 L502.2 771.7 L501.2 771.0 L500.2 770.3 L499.2 769.6 L498.2 768.9 L497.2 768.2 L496.2 767.5 L495.2 766.8 L494.2 766.1 L493.2 765.4 L492.2 764.7 L491.2 764.0 L490.2 763.3 L489.2 762.6 L488.2 761.9 L487.2 761.2 L486.2 760.5 L485.2 759.8 L484.2 759.1 L483.2 758.4 L482.2 757.7 L481.2 757.1 L480.2 756.5 L479.2 755.9 L478.2 755.3 L477.2 754.7 L476.2 754.2 L475.2 753.6 L474.2 753.1 L473.2 752.5 L472.2 752.0 L471.2 751.5 L470.2 751.0 L469.2 750.5 L468.2 750.0 L467.2 749.5 L466.2 749.0 L465.2 748.6 L464.2 748.1 L463.2 747.6 L462.2 747.2 L461.2 746.7 L460.2 746.3 L459.2 745.9 L458.2 745.4 L457.2 745.1 L456.2 744.7 L455.2 744.3 L454.2 744.0 L453.2 743.7 L452.2 743.4 L451.2 743.2 L450.2 743.0 L449.2 742.8 L448.2 742.7 L447.2 742.6 L446.2 742.6 L445.2 742.6 L444.2 742.6 L443.2 742.6 L442.2 742.7 L441.2 742.8 L440.2 742.9 L439.2 743.0 L438.2 743.1 L437.2 743.2 L436.2 743.2 L435.2 743.3 L434.2 743.4 L433.2 743.5 L432.2 743.6 L431.2 743.7 L430.2 743.8 L429.2 743.9 L428.2 744.0 L427.2 744.1 L426.2 744.2 L425.2 744.3 L424.2 744.4 L423.2 744.5 L422.2 744.6 L421.2 744.7 L420.2 744.8 L419.2 744.9 L418.2 745.0 L417.2 745.1 L416.2 745.2 L415.2 745.3 L414.2 745.4 L413.2 745.6 L412.2 745.7 L411.2 745.8 L410.2 745.9 L409.2 746.0 L408.2 746.1 L407.2 746.2 L406.2 746.3 L405.2 746.4 L404.2 746.5 L403.2 746.6 L402.2 746.7 L401.2 746.8 L400.2 746.9 L399.2 747.0 L398.2 747.1 L397.2 747.2 L396.2 747.2 L395.2 747.3 L394.2 747.4 L393.2 747.4 L392.2 747.5 L391.2 747.6 L390.2 747.6 L389.2 747.7 L388.2 747.8 L387.2 747.8 L386.2 747.9 L385.2 748.0 L384.2 748.1 L383.2 748.2 L382.2 748.3 L381.2 748.3 L380.2 748.5 L379.2 748.6 L378.2 748.7 L377.2 748.8 L376.2 748.9 L375.2 749.0 L374.2 749.2 L373.2 749.3 L372.2 749.4 L371.2 749.6 L370.2 749.7 L369.2 749.8 L368.2 750.0 L367.2 750.1 L366.2 750.2 L365.2 750.4 L364.2 750.5 L363.2 750.6 L362.2 750.8 L361.2 750.9 L360.2 751.0 L359.2 751.1 L358.2 751.2 L357.2 751.4 L356.2 751.5 L355.2 751.6 L354.2 751.7 L353.2 751.9 L352.2 752.0 L351.2 752.1 L350.2 752.2 L349.2 752.3 L348.2 752.4 L347.2 752.5 L346.2 752.6 L345.2 752.7 L344.2 752.7 L343.2 752.8 L342.2 752.9 L341.2 752.9 L340.2 752.9 L339.2 753.0 L338.2 753.0 L337.2 752.9 L336.2 752.9 L335.2 752.9 L334.2 752.8 L333.2 752.7 L332.2 752.7 L331.2 752.6 L330.2 752.5 L329.2 752.4 L328.2 752.3 L327.2 752.2 L326.2 752.1 L325.2 752.0 L324.2 751.9 L323.2 751.8 L322.2 751.7 L321.2 751.6 L320.2 751.6 L319.2 751.5 L318.2 751.4 L317.2 751.3 L316.2 751.2 L315.2 751.1 L314.2 751.0 L313.2 750.9 L312.2 750.8 L311.2 750.7 L310.2 750.6 L309.2 750.5 L308.2 750.4 L307.2 750.3 L306.2 750.2 L305.2 750.0 L304.2 749.9 L303.2 749.7 L302.2 749.6 L301.2 749.4 L300.2 749.3 L299.2 749.1 L298.2 749.0 L297.2 748.8 L296.2 748.7 L295.2 748.5 L294.2 748.4 L293.2 748.2 L292.2 748.1 L291.2 747.9 L290.2 747.8 L289.2 747.6 L288.2 747.5 L287.2 747.3 L286.2 747.2 L285.2 747.0 L284.2 746.9 L283.2 746.7 L282.2 746.6 L281.2 746.4 L280.2 746.3 L279.2 746.1 L278.2 746.0 L277.2 745.8 L276.2 745.7 L275.2 745.6 L274.2 745.4 L273.2 745.3 L272.2 745.1 L271.2 745.0 L270.2 744.8 L269.2 744.7 L268.2 744.5 L267.2 744.4 L266.2 744.2 L265.2 744.1 L264.2 744.0 L263.2 743.8 L262.2 743.7 L261.2 743.5 L260.2 743.3 L259.2 743.1 L258.2 742.9 L257.2 742.6 L256.2 742.4 L255.2 742.2 L254.2 742.0 L253.2 741.8 L252.2 741.6 L251.2 741.4 L250.2 741.3 L249.2 741.1 L248.2 741.0 L247.2 740.9 L246.2 740.8 L245.2 740.7 L244.2 740.6 L243.2 740.5 L242.2 740.5 L241.2 740.4 L240.2 740.4 L239.2 740.3 L238.2 740.3 L237.2 740.3 L236.2 740.3 L235.2 740.3 L234.2 740.4 L233.2 740.4 L232.2 740.4 L231.2 740.5 L230.2 740.6 L229.2 740.6 L228.2 740.7 L227.2 740.8 L226.2 740.9 L225.2 741.0 L224.2 741.1 L223.2 741.3 L222.2 741.4 L221.2 741.6 L220.2 741.7 L219.2 741.9 L218.2 742.1 L217.2 742.3 L216.2 742.5 L215.2 742.8 L214.2 743.0 L213.2 743.3 L212.2 743.5 L211.2 743.8 L210.2 744.1 L209.2 744.4 L208.2 744.6 L207.2 744.9 L206.2 745.2 L205.2 745.5 L204.2 745.7 L203.2 746.0 L202.2 746.3 L201.2 746.6 L200.2 746.9 L199.2 747.2 L198.2 747.4 L197.2 747.7 L196.2 748.0 L195.2 748.3 L194.2 748.6 L193.2 748.9 L192.2 749.2 L191.2 749.5 L190.2 749.8 L189.2 750.1 L188.2 750.4 L187.2 750.7 L186.2 751.0 L185.2 751.3 L184.2 751.5 L183.2 751.8 L182.2 752.1 L181.2 752.4 L180.2 752.7 L179.2 753.0 L178.2 753.3Z" fill="#ff77ff"/>
<polyline points="178.2,663.0 180.2,662.4 182.2,661.8 184.2,661.2 186.2,660.5 188.2,659.9 190.2,659.3 192.2,658.6 194.2,657.9 196.2,657.2 198.2,656.5 200.2,655.9 202.2,655.3 204.2,654.8 206.2,654.3 208.2,653.8 210.2,653.3 212.2,652.8 214.2,652.3 216.2,651.8 218.2,651.3 220.2,650.9 222.2,650.5 224.2,650.1 226.2,649.8 228.2,649.4 230.2,649.2 232.2,648.9 234.2,648.7 236.2,648.5 238.2,648.3 240.2,648.1 242.2,647.9 244.2,647.8 246.3,647.7 248.3,647.7 250.3,647.7 252.3,647.7 254.3,647.7 256.3,647.8 258.3,647.8 260.3,647.9 262.3,647.9 264.3,647.9 266.3,647.9 268.3,647.8 270.3,647.6 272.3,647.4 274.3,647.2 276.3,646.9 278.3,646.6 280.3,646.3 282.3,646.0 284.3,645.7 286.3,645.4 288.3,645.1 290.3,644.8 292.3,644.5 294.3,644.2 296.3,643.8 298.3,643.5 300.3,643.2 302.3,642.8 304.3,642.5 306.3,642.2 308.3,641.8 310.3,641.5 312.3,641.1 314.3,640.7 316.3,640.4 318.3,639.9 320.3,639.4 322.3,638.9 324.3,638.3 326.3,637.6 328.3,637.0 330.3,636.3 332.3,635.5 334.3,634.8 336.3,634.0 338.3,633.2 340.3,632.2 342.3,631.2 344.3,630.1 346.3,628.9 348.3,627.7 350.3,626.4 352.3,624.9 354.3,623.3 356.3,621.5 358.3,619.9 360.3,618.6 362.3,617.5 364.3,616.4 366.3,615.3 368.3,614.2 370.3,613.1 372.3,612.0 374.3,610.9 376.3,609.8 378.4,608.7 380.4,607.6 382.4,606.5 384.4,605.4 386.4,604.3 388.4,603.2 390.4,602.1 392.4,601.0 394.4,599.9 396.4,598.8 398.4,597.7 400.4,596.6 402.4,595.5 404.4,594.5 406.4,593.5 408.4,592.7 410.4,591.9 412.4,591.2 414.4,590.5 416.4,589.8 418.4,589.2 420.4,588.6 422.4,588.3 424.4,588.0 426.4,588.0 428.4,588.0 430.4,588.2 432.4,588.5 434.4,589.0 436.4,589.7 438.4,590.6 440.4,591.6 442.4,592.6 444.4,593.8 446.4,595.0 448.4,596.3 450.4,597.7 452.4,599.1 454.4,600.6 456.4,602.1 458.4,603.7 460.4,605.2 462.4,606.8 464.4,608.4 466.4,610.1 468.4,611.9 470.4,613.8 472.4,615.8 474.4,617.9 476.4,620.1 478.4,622.2 480.4,624.4 482.4,626.6 484.4,628.8 486.4,631.0 488.4,633.2 490.4,635.4 492.4,637.6 494.4,639.9 496.4,642.1 498.4,644.4 500.4,646.6 502.4,648.9 504.4,651.2 506.4,653.4 508.4,655.7 510.5,657.9 512.5,660.1 514.5,662.2 516.5,664.2 518.5,666.0 520.5,667.8 522.5,669.6 524.5,671.2 526.5,672.8 528.5,674.4 530.5,675.9 532.5,677.3 534.5,678.6 536.5,679.8 538.5,681.0 540.5,682.0 542.5,683.0 544.5,683.9 546.5,684.9 548.5,685.8 550.5,686.7 552.5,687.6 554.5,688.5 556.5,689.4 558.5,690.2 560.5,691.0 562.5,691.8 564.5,692.6 566.5,693.4 568.5,694.1 570.5,694.9 572.5,695.6 574.5,696.3 576.5,697.0 578.5,697.7 580.5,698.3 582.5,699.0 584.5,699.7 586.5,700.3 588.5,700.8 590.5,701.4 592.5,701.9 594.5,702.3 596.5,702.8 598.5,703.2 600.5,703.6 602.5,704.0 604.5,704.4 606.5,704.7 608.5,705.1 610.5,705.4 612.5,705.7 614.5,706.1 616.5,706.4 618.5,706.7 620.5,706.9 622.5,707.2 624.5,707.5 626.5,707.8 628.5,708.0 630.5,708.3 632.5,708.5 634.5,708.7 636.5,708.9 638.5,709.1 640.5,709.2 642.6,709.4 644.6,709.5 646.6,709.6 648.6,709.7 650.6,709.8 652.6,709.9 654.6,709.9 656.6,710.0 658.6,710.0 660.6,710.0 662.6,710.1 664.6,710.1 666.6,710.0 668.6,710.0 670.6,709.9 672.6,709.8 674.6,709.8 676.6,709.6 678.6,709.5 680.6,709.4 682.6,709.2 684.6,709.0 686.6,708.8 688.6,708.6 690.6,708.4 692.6,708.1 694.6,707.8 696.6,707.5 698.6,707.2 700.6,706.9 702.6,706.5 704.6,706.1 706.6,705.7 708.6,705.2" fill="none" stroke="#000" stroke-width="2.2" stroke-dasharray="0.01 6.9" stroke-linecap="round"/>
<polyline points="178.2,859.8 180.2,859.1 182.2,858.5 184.2,857.9 186.2,857.3 188.2,856.7 190.2,856.2 192.2,855.6 194.2,855.1 196.2,854.5 198.2,854.0 200.2,853.5 202.2,853.0 204.2,852.5 206.2,852.1 208.2,851.6 210.2,851.1 212.2,850.7 214.2,850.3 216.2,849.8 218.2,849.5 220.2,849.1 222.2,848.7 224.2,848.4 226.2,848.0 228.2,847.7 230.2,847.3 232.2,847.0 234.2,846.7 236.2,846.3 238.2,846.0 240.2,845.7 242.2,845.3 244.2,845.0 246.3,844.7 248.3,844.4 250.3,844.1 252.3,843.7 254.3,843.4 256.3,843.1 258.3,842.8 260.3,842.5 262.3,842.1 264.3,841.8 266.3,841.5 268.3,841.2 270.3,840.9 272.3,840.6 274.3,840.3 276.3,840.0 278.3,839.7 280.3,839.4 282.3,839.1 284.3,838.8 286.3,838.6 288.3,838.3 290.3,838.1 292.3,837.8 294.3,837.6 296.3,837.4 298.3,837.1 300.3,836.9 302.3,836.6 304.3,836.4 306.3,836.2 308.3,835.9 310.3,835.7 312.3,835.5 314.3,835.2 316.3,835.0 318.3,834.8 320.3,834.5 322.3,834.3 324.3,834.1 326.3,833.9 328.3,833.6 330.3,833.4 332.3,833.2 334.3,832.9 336.3,832.7 338.3,832.5 340.3,832.3 342.3,832.0 344.3,831.8 346.3,831.6 348.3,831.3 350.3,831.1 352.3,830.8 354.3,830.6 356.3,830.3 358.3,830.0 360.3,829.7 362.3,829.4 364.3,829.2 366.3,829.0 368.3,828.7 370.3,828.5 372.3,828.3 374.3,828.1 376.3,827.9 378.4,827.7 380.4,827.5 382.4,827.3 384.4,827.2 386.4,827.0 388.4,826.9 390.4,826.7 392.4,826.5 394.4,826.4 396.4,826.2 398.4,826.1 400.4,825.9 402.4,825.7 404.4,825.5 406.4,825.3 408.4,825.1 410.4,824.9 412.4,824.7 414.4,824.5 416.4,824.3 418.4,824.1 420.4,823.9 422.4,823.8 424.4,823.6 426.4,823.4 428.4,823.2 430.4,823.0 432.4,822.8 434.4,822.7 436.4,822.5 438.4,822.4 440.4,822.2 442.4,822.1 444.4,822.0 446.4,821.9 448.4,821.8 450.4,821.7 452.4,821.6 454.4,821.5 456.4,821.4 458.4,821.3 460.4,821.2 462.4,821.1 464.4,821.0 466.4,820.9 468.4,820.8 470.4,820.7 472.4,820.6 474.4,820.5 476.4,820.4 478.4,820.3 480.4,820.2 482.4,820.0 484.4,819.9 486.4,819.8 488.4,819.7 490.4,819.6 492.4,819.6 494.4,819.5 496.4,819.4 498.4,819.3 500.4,819.2 502.4,819.1 504.4,819.0 506.4,818.9 508.4,818.8 510.5,818.7 512.5,818.6 514.5,818.5 516.5,818.4 518.5,818.2 520.5,818.1 522.5,818.0 524.5,817.9 526.5,817.7 528.5,817.6 530.5,817.5 532.5,817.3 534.5,817.2 536.5,817.1 538.5,816.9 540.5,816.8 542.5,816.7 544.5,816.5 546.5,816.4 548.5,816.2 550.5,816.1 552.5,816.0 554.5,815.8 556.5,815.7 558.5,815.6 560.5,815.4 562.5,815.3 564.5,815.2 566.5,815.1 568.5,815.0 570.5,814.9 572.5,814.8 574.5,814.7 576.5,814.6 578.5,814.5 580.5,814.4 582.5,814.3 584.5,814.2 586.5,814.1 588.5,814.0 590.5,813.9 592.5,813.8 594.5,813.7 596.5,813.6 598.5,813.5 600.5,813.4 602.5,813.3 604.5,813.3 606.5,813.2 608.5,813.1 610.5,813.0 612.5,812.9 614.5,812.8 616.5,812.7 618.5,812.6 620.5,812.4 622.5,812.3 624.5,812.2 626.5,812.1 628.5,812.0 630.5,811.9 632.5,811.8 634.5,811.7 636.5,811.6 638.5,811.5 640.5,811.5 642.6,811.4 644.6,811.3 646.6,811.3 648.6,811.2 650.6,811.2 652.6,811.1 654.6,811.1 656.6,811.0 658.6,810.9 660.6,810.9 662.6,810.8 664.6,810.7 666.6,810.6 668.6,810.6 670.6,810.5 672.6,810.4 674.6,810.3 676.6,810.2 678.6,810.1 680.6,810.1 682.6,810.0 684.6,809.9 686.6,809.8 688.6,809.8 690.6,809.7 692.6,809.6 694.6,809.6 696.6,809.5 698.6,809.4 700.6,809.4 702.6,809.3 704.6,809.3 706.6,809.2 708.6,809.1" fill="none" stroke="#000" stroke-width="2.1" stroke-dasharray="10.6 9.83"/>
<polyline points="178.2,798.8 180.2,799.1 182.2,799.4 184.2,799.7 186.2,800.0 188.2,800.4 190.2,800.7 192.2,801.0 194.2,801.3 196.2,801.7 198.2,802.0 200.2,802.3 202.2,802.7 204.2,803.0 206.2,803.3 208.2,803.7 210.2,804.0 212.2,804.4 214.2,804.7 216.2,805.1 218.2,805.4 220.2,805.7 222.2,806.1 224.2,806.4 226.2,806.8 228.2,807.1 230.2,807.5 232.2,807.9 234.2,808.2 236.2,808.6 238.2,808.9 240.2,809.1 242.2,809.3 244.2,809.3 246.3,809.3 248.3,809.2 250.3,809.1 252.3,809.1 254.3,809.0 256.3,808.9 258.3,808.8 260.3,808.8 262.3,808.7 264.3,808.6 266.3,808.5 268.3,808.4 270.3,808.4 272.3,808.3 274.3,808.2 276.3,808.2 278.3,808.1 280.3,808.1 282.3,808.1 284.3,808.1 286.3,808.1 288.3,808.0 290.3,807.9 292.3,807.8 294.3,807.6 296.3,807.3 298.3,806.9 300.3,806.4 302.3,805.9 304.3,805.5 306.3,805.0 308.3,804.6 310.3,804.2 312.3,803.7 314.3,803.3 316.3,802.9 318.3,802.4 320.3,802.0 322.3,801.5 324.3,801.1 326.3,800.7 328.3,800.3 330.3,799.8 332.3,799.4 334.3,799.0 336.3,798.6 338.3,798.1 340.3,797.7 342.3,797.3 344.3,796.9 346.3,796.5 348.3,796.0 350.3,795.6 352.3,795.1 354.3,794.4 356.3,793.7 358.3,793.0 360.3,792.2 362.3,791.5 364.3,790.7 366.3,789.9 368.3,789.2 370.3,788.4 372.3,787.6 374.3,786.8 376.3,786.0 378.4,785.1 380.4,784.3 382.4,783.5 384.4,782.6 386.4,781.7 388.4,780.7 390.4,779.8 392.4,778.9 394.4,777.9 396.4,777.0 398.4,776.1 400.4,775.3 402.4,774.5 404.4,773.7 406.4,772.9 408.4,772.2 410.4,771.5 412.4,770.8 414.4,770.1 416.4,769.4 418.4,768.8 420.4,768.1 422.4,767.5 424.4,766.9 426.4,766.2 428.4,765.6 430.4,765.0 432.4,764.4 434.4,763.8 436.4,763.2 438.4,762.6 440.4,762.0 442.4,761.4 444.4,760.9 446.4,760.3 448.4,759.8 450.4,759.2 452.4,758.7 454.4,758.2 456.4,757.6 458.4,757.1 460.4,756.5 462.4,756.0 464.4,755.5 466.4,754.9 468.4,754.3 470.4,753.7 472.4,753.2 474.4,752.9 476.4,752.6 478.4,752.4 480.4,752.2 482.4,752.1 484.4,751.9 486.4,751.8 488.4,751.7 490.4,751.6 492.4,751.5 494.4,751.4 496.4,751.2 498.4,751.1 500.4,750.9 502.4,750.8 504.4,750.7 506.4,750.5 508.4,750.4 510.5,750.3 512.5,750.1 514.5,750.0 516.5,749.8 518.5,749.7 520.5,749.5 522.5,749.3 524.5,749.2 526.5,749.0 528.5,748.8 530.5,748.6 532.5,748.4 534.5,748.2 536.5,748.0 538.5,747.9 540.5,747.7 542.5,747.5 544.5,747.4 546.5,747.2 548.5,747.0 550.5,746.9 552.5,746.7 554.5,746.6 556.5,746.4 558.5,746.3 560.5,746.1 562.5,746.0 564.5,745.9 566.5,745.8 568.5,745.7 570.5,745.6 572.5,745.5 574.5,745.4 576.5,745.4 578.5,745.3 580.5,745.2 582.5,745.1 584.5,744.9 586.5,744.8 588.5,744.6 590.5,744.5 592.5,744.3 594.5,744.2 596.5,744.0 598.5,743.8 600.5,743.7 602.5,743.5 604.5,743.3 606.5,743.2 608.5,743.0 610.5,742.9 612.5,742.7 614.5,742.6 616.5,742.4 618.5,742.3 620.5,742.2 622.5,742.0 624.5,741.9 626.5,741.7 628.5,741.6 630.5,741.5 632.5,741.3 634.5,741.2 636.5,741.0 638.5,740.9 640.5,740.7 642.6,740.5 644.6,740.4 646.6,740.2 648.6,740.1 650.6,739.9 652.6,739.7 654.6,739.6 656.6,739.4 658.6,739.3 660.6,739.1 662.6,738.9 664.6,738.8 666.6,738.7 668.6,738.5 670.6,738.4 672.6,738.2 674.6,738.1 676.6,738.0 678.6,737.8 680.6,737.7 682.6,737.5 684.6,737.4 686.6,737.2 688.6,737.1 690.6,736.9 692.6,736.8 694.6,736.6 696.6,736.5 698.6,736.3 700.6,736.2 702.6,736.0 704.6,735.9 706.6,735.7 708.6,735.5" fill="none" stroke="#000" stroke-width="2.1" stroke-dasharray="12.6 4.3 2.4 4.7"/>
<polyline points="178.2,700.0 180.2,700.1 182.2,700.1 184.2,700.1 186.2,700.0 188.2,700.0 190.2,700.0 192.2,699.9 194.2,699.8 196.2,699.7 198.2,699.6 200.2,699.5 202.2,699.4 204.2,699.3 206.2,699.1 208.2,699.0 210.2,698.8 212.2,698.7 214.2,698.7 216.2,698.8 218.2,698.9 220.2,699.1 222.2,699.2 224.2,699.4 226.2,699.5 228.2,699.7 230.2,699.8 232.2,699.9 234.2,700.1 236.2,700.2 238.2,700.4 240.2,700.5 242.2,700.7 244.2,700.8 246.3,701.1 248.3,701.4 250.3,701.7 252.3,702.1 254.3,702.4 256.3,702.8 258.3,703.2 260.3,703.6 262.3,704.0 264.3,704.3 266.3,704.7 268.3,705.1 270.3,705.5 272.3,705.8 274.3,706.2 276.3,706.6 278.3,707.0 280.3,707.3 282.3,707.6 284.3,707.9 286.3,708.1 288.3,708.4 290.3,708.6 292.3,708.9 294.3,709.1 296.3,709.3 298.3,709.6 300.3,709.8 302.3,710.0 304.3,710.3 306.3,710.5 308.3,710.8 310.3,711.0 312.3,711.3 314.3,711.6 316.3,711.8 318.3,712.1 320.3,712.3 322.3,712.6 324.3,712.8 326.3,713.0 328.3,713.1 330.3,713.0 332.3,713.0 334.3,712.9 336.3,712.8 338.3,712.7 340.3,712.6 342.3,712.4 344.3,712.2 346.3,711.9 348.3,711.6 350.3,711.2 352.3,710.6 354.3,709.9 356.3,709.1 358.3,708.4 360.3,707.8 362.3,707.3 364.3,706.9 366.3,706.4 368.3,705.9 370.3,705.4 372.3,705.0 374.3,704.5 376.3,704.0 378.4,703.6 380.4,703.1 382.4,702.7 384.4,702.3 386.4,701.8 388.4,701.4 390.4,700.9 392.4,700.5 394.4,700.1 396.4,699.6 398.4,699.2 400.4,698.8 402.4,698.3 404.4,697.9 406.4,697.5 408.4,697.1 410.4,696.7 412.4,696.3 414.4,695.9 416.4,695.5 418.4,695.2 420.4,694.8 422.4,694.6 424.4,694.5 426.4,694.4 428.4,694.3 430.4,694.3 432.4,694.3 434.4,694.4 436.4,694.4 438.4,694.5 440.4,694.7 442.4,694.9 444.4,695.2 446.4,695.6 448.4,696.0 450.4,696.6 452.4,697.1 454.4,697.8 456.4,698.4 458.4,699.1 460.4,699.8 462.4,700.5 464.4,701.2 466.4,701.9 468.4,702.7 470.4,703.4 472.4,704.2 474.4,704.9 476.4,705.7 478.4,706.5 480.4,707.4 482.4,708.3 484.4,709.2 486.4,710.2 488.4,711.2 490.4,712.2 492.4,713.3 494.4,714.4 496.4,715.5 498.4,716.6 500.4,717.7 502.4,718.9 504.4,720.0 506.4,721.2 508.4,722.4 510.5,723.6 512.5,724.8 514.5,726.1 516.5,727.3 518.5,728.5 520.5,729.7 522.5,730.9 524.5,732.0 526.5,733.1 528.5,734.1 530.5,735.1 532.5,736.1 534.5,736.9 536.5,737.8 538.5,738.5 540.5,739.2 542.5,739.9 544.5,740.5 546.5,741.2 548.5,741.8 550.5,742.3 552.5,742.9 554.5,743.5 556.5,744.0 558.5,744.4 560.5,744.9 562.5,745.3 564.5,745.6 566.5,746.0 568.5,746.3 570.5,746.6 572.5,746.9 574.5,747.2 576.5,747.4 578.5,747.6 580.5,747.8 582.5,748.0 584.5,748.1 586.5,748.2 588.5,748.3 590.5,748.4 592.5,748.5 594.5,748.6 596.5,748.7 598.5,748.8 600.5,748.9 602.5,749.0 604.5,749.1 606.5,749.2 608.5,749.3 610.5,749.3 612.5,749.4 614.5,749.5 616.5,749.6 618.5,749.7 620.5,749.8 622.5,749.8 624.5,749.9 626.5,750.0 628.5,750.1 630.5,750.1 632.5,750.2 634.5,750.2 636.5,750.2 638.5,750.2 640.5,750.2 642.6,750.1 644.6,750.1 646.6,750.0 648.6,749.9 650.6,749.8 652.6,749.7 654.6,749.6 656.6,749.4 658.6,749.3 660.6,749.2 662.6,749.1 664.6,748.9 666.6,748.8 668.6,748.6 670.6,748.4 672.6,748.3 674.6,748.1 676.6,747.9 678.6,747.6 680.6,747.4 682.6,747.2 684.6,746.9 686.6,746.6 688.6,746.3 690.6,746.0 692.6,745.7 694.6,745.3 696.6,745.0 698.6,744.6 700.6,744.2 702.6,743.7 704.6,743.3 706.6,742.8 708.6,742.3" fill="none" stroke="#0000ff" stroke-width="3.1" stroke-linejoin="round"/>
<polyline points="178.2,812.8 180.2,812.6 182.2,812.4 184.2,812.2 186.2,811.9 188.2,811.7 190.2,811.4 192.2,811.1 194.2,810.8 196.2,810.5 198.2,810.1 200.2,809.8 202.2,809.4 204.2,808.9 206.2,808.3 208.2,807.7 210.2,807.2 212.2,806.7 214.2,806.4 216.2,806.2 218.2,806.0 220.2,805.8 222.2,805.6 224.2,805.4 226.2,805.2 228.2,805.0 230.2,804.8 232.2,804.5 234.2,804.2 236.2,803.9 238.2,803.6 240.2,803.3 242.2,803.0 244.2,802.7 246.3,802.4 248.3,802.1 250.3,801.8 252.3,801.5 254.3,801.2 256.3,800.9 258.3,800.6 260.3,800.3 262.3,800.0 264.3,799.7 266.3,799.4 268.3,799.1 270.3,798.8 272.3,798.5 274.3,798.2 276.3,797.9 278.3,797.7 280.3,797.4 282.3,797.2 284.3,797.0 286.3,796.7 288.3,796.5 290.3,796.3 292.3,796.0 294.3,795.8 296.3,795.5 298.3,795.2 300.3,794.9 302.3,794.6 304.3,794.3 306.3,794.0 308.3,793.7 310.3,793.4 312.3,793.1 314.3,792.7 316.3,792.4 318.3,792.1 320.3,791.7 322.3,791.3 324.3,791.0 326.3,790.6 328.3,790.2 330.3,789.9 332.3,789.5 334.3,789.2 336.3,788.8 338.3,788.5 340.3,788.2 342.3,787.9 344.3,787.6 346.3,787.3 348.3,786.9 350.3,786.5 352.3,786.0 354.3,785.5 356.3,785.0 358.3,784.5 360.3,784.0 362.3,783.5 364.3,783.0 366.3,782.5 368.3,782.0 370.3,781.5 372.3,781.0 374.3,780.5 376.3,780.0 378.4,779.5 380.4,779.0 382.4,778.5 384.4,778.0 386.4,777.5 388.4,777.0 390.4,776.6 392.4,776.1 394.4,775.7 396.4,775.2 398.4,774.8 400.4,774.4 402.4,774.0 404.4,773.5 406.4,773.1 408.4,772.7 410.4,772.4 412.4,772.0 414.4,771.6 416.4,771.2 418.4,770.8 420.4,770.5 422.4,770.1 424.4,769.7 426.4,769.3 428.4,768.9 430.4,768.6 432.4,768.2 434.4,767.9 436.4,767.5 438.4,767.1 440.4,766.8 442.4,766.5 444.4,766.1 446.4,765.8 448.4,765.6 450.4,765.3 452.4,765.1 454.4,764.8 456.4,764.6 458.4,764.4 460.4,764.2 462.4,764.1 464.4,763.9 466.4,763.7 468.4,763.6 470.4,763.4 472.4,763.3 474.4,763.1 476.4,763.0 478.4,762.9 480.4,762.8 482.4,762.7 484.4,762.6 486.4,762.6 488.4,762.5 490.4,762.5 492.4,762.4 494.4,762.4 496.4,762.3 498.4,762.3 500.4,762.2 502.4,762.2 504.4,762.2 506.4,762.1 508.4,762.1 510.5,762.1 512.5,762.1 514.5,762.1 516.5,762.1 518.5,762.1 520.5,762.0 522.5,762.0 524.5,762.0 526.5,761.9 528.5,761.8 530.5,761.8 532.5,761.7 534.5,761.6 536.5,761.5 538.5,761.4 540.5,761.3 542.5,761.1 544.5,761.0 546.5,760.9 548.5,760.8 550.5,760.7 552.5,760.5 554.5,760.4 556.5,760.2 558.5,760.1 560.5,759.9 562.5,759.8 564.5,759.6 566.5,759.5 568.5,759.3 570.5,759.1 572.5,759.0 574.5,758.8 576.5,758.7 578.5,758.5 580.5,758.3 582.5,758.2 584.5,758.0 586.5,757.9 588.5,757.7 590.5,757.6 592.5,757.5 594.5,757.3 596.5,757.2 598.5,757.0 600.5,756.9 602.5,756.8 604.5,756.6 606.5,756.5 608.5,756.3 610.5,756.2 612.5,756.0 614.5,755.9 616.5,755.7 618.5,755.6 620.5,755.4 622.5,755.2 624.5,755.1 626.5,754.9 628.5,754.8 630.5,754.6 632.5,754.4 634.5,754.3 636.5,754.1 638.5,753.9 640.5,753.8 642.6,753.6 644.6,753.4 646.6,753.2 648.6,753.0 650.6,752.9 652.6,752.7 654.6,752.5 656.6,752.3 658.6,752.2 660.6,752.0 662.6,751.8 664.6,751.7 666.6,751.5 668.6,751.4 670.6,751.3 672.6,751.1 674.6,751.0 676.6,750.9 678.6,750.7 680.6,750.6 682.6,750.4 684.6,750.3 686.6,750.1 688.6,750.0 690.6,749.8 692.6,749.7 694.6,749.5 696.6,749.3 698.6,749.2 700.6,749.0 702.6,748.9 704.6,748.7 706.6,748.5 708.6,748.3" fill="none" stroke="#ff0000" stroke-width="3.1" stroke-linejoin="round"/>
</g>
<g stroke="#000" stroke-width="2" fill="none" stroke-linecap="butt">
<line x1="72.2" y1="0" x2="72.2" y2="891.7"/>
<line x1="873.2" y1="0" x2="873.2" y2="891.7"/>
<line x1="71.2" y1="0.6" x2="873" y2="0.6"/>
<line x1="71.2" y1="445.7" x2="873" y2="445.7"/>
<line x1="71.2" y1="890.7" x2="873" y2="890.7"/>
<line x1="95.1" y1="0.6" x2="95.1" y2="5.2" stroke-width="1.8"/>
<line x1="95.1" y1="441.1" x2="95.1" y2="450.3" stroke-width="1.8"/>
<line x1="95.1" y1="886.1" x2="95.1" y2="890.7" stroke-width="1.8"/>
<line x1="118.7" y1="0.6" x2="118.7" y2="9.6" stroke-width="1.8"/>
<line x1="118.7" y1="436.7" x2="118.7" y2="454.7" stroke-width="1.8"/>
<line x1="118.7" y1="881.7" x2="118.7" y2="890.7" stroke-width="1.8"/>
<line x1="142.3" y1="0.6" x2="142.3" y2="5.2" stroke-width="1.8"/>
<line x1="142.3" y1="441.1" x2="142.3" y2="450.3" stroke-width="1.8"/>
<line x1="142.3" y1="886.1" x2="142.3" y2="890.7" stroke-width="1.8"/>
<line x1="165.8" y1="0.6" x2="165.8" y2="5.2" stroke-width="1.8"/>
<line x1="165.8" y1="441.1" x2="165.8" y2="450.3" stroke-width="1.8"/>
<line x1="165.8" y1="886.1" x2="165.8" y2="890.7" stroke-width="1.8"/>
<line x1="189.4" y1="0.6" x2="189.4" y2="5.2" stroke-width="1.8"/>
<line x1="189.4" y1="441.1" x2="189.4" y2="450.3" stroke-width="1.8"/>
<line x1="189.4" y1="886.1" x2="189.4" y2="890.7" stroke-width="1.8"/>
<line x1="213.0" y1="0.6" x2="213.0" y2="5.2" stroke-width="1.8"/>
<line x1="213.0" y1="441.1" x2="213.0" y2="450.3" stroke-width="1.8"/>
<line x1="213.0" y1="886.1" x2="213.0" y2="890.7" stroke-width="1.8"/>
<line x1="236.6" y1="0.6" x2="236.6" y2="9.6" stroke-width="1.8"/>
<line x1="236.6" y1="436.7" x2="236.6" y2="454.7" stroke-width="1.8"/>
<line x1="236.6" y1="881.7" x2="236.6" y2="890.7" stroke-width="1.8"/>
<line x1="260.1" y1="0.6" x2="260.1" y2="5.2" stroke-width="1.8"/>
<line x1="260.1" y1="441.1" x2="260.1" y2="450.3" stroke-width="1.8"/>
<line x1="260.1" y1="886.1" x2="260.1" y2="890.7" stroke-width="1.8"/>
<line x1="283.7" y1="0.6" x2="283.7" y2="5.2" stroke-width="1.8"/>
<line x1="283.7" y1="441.1" x2="283.7" y2="450.3" stroke-width="1.8"/>
<line x1="283.7" y1="886.1" x2="283.7" y2="890.7" stroke-width="1.8"/>
<line x1="307.3" y1="0.6" x2="307.3" y2="5.2" stroke-width="1.8"/>
<line x1="307.3" y1="441.1" x2="307.3" y2="450.3" stroke-width="1.8"/>
<line x1="307.3" y1="886.1" x2="307.3" y2="890.7" stroke-width="1.8"/>
<line x1="330.8" y1="0.6" x2="330.8" y2="5.2" stroke-width="1.8"/>
<line x1="330.8" y1="441.1" x2="330.8" y2="450.3" stroke-width="1.8"/>
<line x1="330.8" y1="886.1" x2="330.8" y2="890.7" stroke-width="1.8"/>
<line x1="354.4" y1="0.6" x2="354.4" y2="9.6" stroke-width="1.8"/>
<line x1="354.4" y1="436.7" x2="354.4" y2="454.7" stroke-width="1.8"/>
<line x1="354.4" y1="881.7" x2="354.4" y2="890.7" stroke-width="1.8"/>
<line x1="378.0" y1="0.6" x2="378.0" y2="5.2" stroke-width="1.8"/>
<line x1="378.0" y1="441.1" x2="378.0" y2="450.3" stroke-width="1.8"/>
<line x1="378.0" y1="886.1" x2="378.0" y2="890.7" stroke-width="1.8"/>
<line x1="401.5" y1="0.6" x2="401.5" y2="5.2" stroke-width="1.8"/>
<line x1="401.5" y1="441.1" x2="401.5" y2="450.3" stroke-width="1.8"/>
<line x1="401.5" y1="886.1" x2="401.5" y2="890.7" stroke-width="1.8"/>
<line x1="425.1" y1="0.6" x2="425.1" y2="5.2" stroke-width="1.8"/>
<line x1="425.1" y1="441.1" x2="425.1" y2="450.3" stroke-width="1.8"/>
<line x1="425.1" y1="886.1" x2="425.1" y2="890.7" stroke-width="1.8"/>
<line x1="448.7" y1="0.6" x2="448.7" y2="5.2" stroke-width="1.8"/>
<line x1="448.7" y1="441.1" x2="448.7" y2="450.3" stroke-width="1.8"/>
<line x1="448.7" y1="886.1" x2="448.7" y2="890.7" stroke-width="1.8"/>
<line x1="472.2" y1="0.6" x2="472.2" y2="9.6" stroke-width="1.8"/>
<line x1="472.2" y1="436.7" x2="472.2" y2="454.7" stroke-width="1.8"/>
<line x1="472.2" y1="881.7" x2="472.2" y2="890.7" stroke-width="1.8"/>
<line x1="495.8" y1="0.6" x2="495.8" y2="5.2" stroke-width="1.8"/>
<line x1="495.8" y1="441.1" x2="495.8" y2="450.3" stroke-width="1.8"/>
<line x1="495.8" y1="886.1" x2="495.8" y2="890.7" stroke-width="1.8"/>
<line x1="519.4" y1="0.6" x2="519.4" y2="5.2" stroke-width="1.8"/>
<line x1="519.4" y1="441.1" x2="519.4" y2="450.3" stroke-width="1.8"/>
<line x1="519.4" y1="886.1" x2="519.4" y2="890.7" stroke-width="1.8"/>
<line x1="543.0" y1="0.6" x2="543.0" y2="5.2" stroke-width="1.8"/>
<line x1="543.0" y1="441.1" x2="543.0" y2="450.3" stroke-width="1.8"/>
<line x1="543.0" y1="886.1" x2="543.0" y2="890.7" stroke-width="1.8"/>
<line x1="566.5" y1="0.6" x2="566.5" y2="5.2" stroke-width="1.8"/>
<line x1="566.5" y1="441.1" x2="566.5" y2="450.3" stroke-width="1.8"/>
<line x1="566.5" y1="886.1" x2="566.5" y2="890.7" stroke-width="1.8"/>
<line x1="590.1" y1="0.6" x2="590.1" y2="9.6" stroke-width="1.8"/>
<line x1="590.1" y1="436.7" x2="590.1" y2="454.7" stroke-width="1.8"/>
<line x1="590.1" y1="881.7" x2="590.1" y2="890.7" stroke-width="1.8"/>
<line x1="613.7" y1="0.6" x2="613.7" y2="5.2" stroke-width="1.8"/>
<line x1="613.7" y1="441.1" x2="613.7" y2="450.3" stroke-width="1.8"/>
<line x1="613.7" y1="886.1" x2="613.7" y2="890.7" stroke-width="1.8"/>
<line x1="637.2" y1="0.6" x2="637.2" y2="5.2" stroke-width="1.8"/>
<line x1="637.2" y1="441.1" x2="637.2" y2="450.3" stroke-width="1.8"/>
<line x1="637.2" y1="886.1" x2="637.2" y2="890.7" stroke-width="1.8"/>
<line x1="660.8" y1="0.6" x2="660.8" y2="5.2" stroke-width="1.8"/>
<line x1="660.8" y1="441.1" x2="660.8" y2="450.3" stroke-width="1.8"/>
<line x1="660.8" y1="886.1" x2="660.8" y2="890.7" stroke-width="1.8"/>
<line x1="684.4" y1="0.6" x2="684.4" y2="5.2" stroke-width="1.8"/>
<line x1="684.4" y1="441.1" x2="684.4" y2="450.3" stroke-width="1.8"/>
<line x1="684.4" y1="886.1" x2="684.4" y2="890.7" stroke-width="1.8"/>
<line x1="708.0" y1="0.6" x2="708.0" y2="9.6" stroke-width="1.8"/>
<line x1="708.0" y1="436.7" x2="708.0" y2="454.7" stroke-width="1.8"/>
<line x1="708.0" y1="881.7" x2="708.0" y2="890.7" stroke-width="1.8"/>
<line x1="731.5" y1="0.6" x2="731.5" y2="5.2" stroke-width="1.8"/>
<line x1="731.5" y1="441.1" x2="731.5" y2="450.3" stroke-width="1.8"/>
<line x1="731.5" y1="886.1" x2="731.5" y2="890.7" stroke-width="1.8"/>
<line x1="755.1" y1="0.6" x2="755.1" y2="5.2" stroke-width="1.8"/>
<line x1="755.1" y1="441.1" x2="755.1" y2="450.3" stroke-width="1.8"/>
<line x1="755.1" y1="886.1" x2="755.1" y2="890.7" stroke-width="1.8"/>
<line x1="778.7" y1="0.6" x2="778.7" y2="5.2" stroke-width="1.8"/>
<line x1="778.7" y1="441.1" x2="778.7" y2="450.3" stroke-width="1.8"/>
<line x1="778.7" y1="886.1" x2="778.7" y2="890.7" stroke-width="1.8"/>
<line x1="802.2" y1="0.6" x2="802.2" y2="5.2" stroke-width="1.8"/>
<line x1="802.2" y1="441.1" x2="802.2" y2="450.3" stroke-width="1.8"/>
<line x1="802.2" y1="886.1" x2="802.2" y2="890.7" stroke-width="1.8"/>
<line x1="825.8" y1="0.6" x2="825.8" y2="9.6" stroke-width="1.8"/>
<line x1="825.8" y1="436.7" x2="825.8" y2="454.7" stroke-width="1.8"/>
<line x1="825.8" y1="881.7" x2="825.8" y2="890.7" stroke-width="1.8"/>
<line x1="849.4" y1="0.6" x2="849.4" y2="5.2" stroke-width="1.8"/>
<line x1="849.4" y1="441.1" x2="849.4" y2="450.3" stroke-width="1.8"/>
<line x1="849.4" y1="886.1" x2="849.4" y2="890.7" stroke-width="1.8"/>
<line x1="72.2" y1="436.1" x2="80.2" y2="436.1" stroke-width="1.8"/>
<line x1="865.2" y1="436.1" x2="873.2" y2="436.1" stroke-width="1.8"/>
<line x1="72.2" y1="427.6" x2="88.2" y2="427.6" stroke-width="1.8"/>
<line x1="857.2" y1="427.6" x2="873.2" y2="427.6" stroke-width="1.8"/>
<line x1="72.2" y1="371.7" x2="80.2" y2="371.7" stroke-width="1.8"/>
<line x1="865.2" y1="371.7" x2="873.2" y2="371.7" stroke-width="1.8"/>
<line x1="72.2" y1="339.0" x2="80.2" y2="339.0" stroke-width="1.8"/>
<line x1="865.2" y1="339.0" x2="873.2" y2="339.0" stroke-width="1.8"/>
<line x1="72.2" y1="315.8" x2="80.2" y2="315.8" stroke-width="1.8"/>
<line x1="865.2" y1="315.8" x2="873.2" y2="315.8" stroke-width="1.8"/>
<line x1="72.2" y1="297.8" x2="80.2" y2="297.8" stroke-width="1.8"/>
<line x1="865.2" y1="297.8" x2="873.2" y2="297.8" stroke-width="1.8"/>
<line x1="72.2" y1="283.1" x2="80.2" y2="283.1" stroke-width="1.8"/>
<line x1="865.2" y1="283.1" x2="873.2" y2="283.1" stroke-width="1.8"/>
<line x1="72.2" y1="270.7" x2="80.2" y2="270.7" stroke-width="1.8"/>
<line x1="865.2" y1="270.7" x2="873.2" y2="270.7" stroke-width="1.8"/>
<line x1="72.2" y1="259.9" x2="80.2" y2="259.9" stroke-width="1.8"/>
<line x1="865.2" y1="259.9" x2="873.2" y2="259.9" stroke-width="1.8"/>
<line x1="72.2" y1="250.4" x2="80.2" y2="250.4" stroke-width="1.8"/>
<line x1="865.2" y1="250.4" x2="873.2" y2="250.4" stroke-width="1.8"/>
<line x1="72.2" y1="241.9" x2="88.2" y2="241.9" stroke-width="1.8"/>
<line x1="857.2" y1="241.9" x2="873.2" y2="241.9" stroke-width="1.8"/>
<line x1="72.2" y1="186.0" x2="80.2" y2="186.0" stroke-width="1.8"/>
<line x1="865.2" y1="186.0" x2="873.2" y2="186.0" stroke-width="1.8"/>
<line x1="72.2" y1="153.3" x2="80.2" y2="153.3" stroke-width="1.8"/>
<line x1="865.2" y1="153.3" x2="873.2" y2="153.3" stroke-width="1.8"/>
<line x1="72.2" y1="130.1" x2="80.2" y2="130.1" stroke-width="1.8"/>
<line x1="865.2" y1="130.1" x2="873.2" y2="130.1" stroke-width="1.8"/>
<line x1="72.2" y1="112.1" x2="80.2" y2="112.1" stroke-width="1.8"/>
<line x1="865.2" y1="112.1" x2="873.2" y2="112.1" stroke-width="1.8"/>
<line x1="72.2" y1="97.4" x2="80.2" y2="97.4" stroke-width="1.8"/>
<line x1="865.2" y1="97.4" x2="873.2" y2="97.4" stroke-width="1.8"/>
<line x1="72.2" y1="85.0" x2="80.2" y2="85.0" stroke-width="1.8"/>
<line x1="865.2" y1="85.0" x2="873.2" y2="85.0" stroke-width="1.8"/>
<line x1="72.2" y1="74.2" x2="80.2" y2="74.2" stroke-width="1.8"/>
<line x1="865.2" y1="74.2" x2="873.2" y2="74.2" stroke-width="1.8"/>
<line x1="72.2" y1="64.7" x2="80.2" y2="64.7" stroke-width="1.8"/>
<line x1="865.2" y1="64.7" x2="873.2" y2="64.7" stroke-width="1.8"/>
<line x1="72.2" y1="56.2" x2="88.2" y2="56.2" stroke-width="1.8"/>
<line x1="857.2" y1="56.2" x2="873.2" y2="56.2" stroke-width="1.8"/>
<line x1="72.2" y1="881.2" x2="80.2" y2="881.2" stroke-width="1.8"/>
<line x1="865.2" y1="881.2" x2="873.2" y2="881.2" stroke-width="1.8"/>
<line x1="72.2" y1="872.8" x2="88.2" y2="872.8" stroke-width="1.8"/>
<line x1="857.2" y1="872.8" x2="873.2" y2="872.8" stroke-width="1.8"/>
<line x1="72.2" y1="816.8" x2="80.2" y2="816.8" stroke-width="1.8"/>
<line x1="865.2" y1="816.8" x2="873.2" y2="816.8" stroke-width="1.8"/>
<line x1="72.2" y1="784.1" x2="80.2" y2="784.1" stroke-width="1.8"/>
<line x1="865.2" y1="784.1" x2="873.2" y2="784.1" stroke-width="1.8"/>
<line x1="72.2" y1="760.9" x2="80.2" y2="760.9" stroke-width="1.8"/>
<line x1="865.2" y1="760.9" x2="873.2" y2="760.9" stroke-width="1.8"/>
<line x1="72.2" y1="743.0" x2="80.2" y2="743.0" stroke-width="1.8"/>
<line x1="865.2" y1="743.0" x2="873.2" y2="743.0" stroke-width="1.8"/>
<line x1="72.2" y1="728.2" x2="80.2" y2="728.2" stroke-width="1.8"/>
<line x1="865.2" y1="728.2" x2="873.2" y2="728.2" stroke-width="1.8"/>
<line x1="72.2" y1="715.8" x2="80.2" y2="715.8" stroke-width="1.8"/>
<line x1="865.2" y1="715.8" x2="873.2" y2="715.8" stroke-width="1.8"/>
<line x1="72.2" y1="705.0" x2="80.2" y2="705.0" stroke-width="1.8"/>
<line x1="865.2" y1="705.0" x2="873.2" y2="705.0" stroke-width="1.8"/>
<line x1="72.2" y1="695.5" x2="80.2" y2="695.5" stroke-width="1.8"/>
<line x1="865.2" y1="695.5" x2="873.2" y2="695.5" stroke-width="1.8"/>
<line x1="72.2" y1="687.0" x2="88.2" y2="687.0" stroke-width="1.8"/>
<line x1="857.2" y1="687.0" x2="873.2" y2="687.0" stroke-width="1.8"/>
<line x1="72.2" y1="631.1" x2="80.2" y2="631.1" stroke-width="1.8"/>
<line x1="865.2" y1="631.1" x2="873.2" y2="631.1" stroke-width="1.8"/>
<line x1="72.2" y1="598.4" x2="80.2" y2="598.4" stroke-width="1.8"/>
<line x1="865.2" y1="598.4" x2="873.2" y2="598.4" stroke-width="1.8"/>
<line x1="72.2" y1="575.2" x2="80.2" y2="575.2" stroke-width="1.8"/>
<line x1="865.2" y1="575.2" x2="873.2" y2="575.2" stroke-width="1.8"/>
<line x1="72.2" y1="557.3" x2="80.2" y2="557.3" stroke-width="1.8"/>
<line x1="865.2" y1="557.3" x2="873.2" y2="557.3" stroke-width="1.8"/>
<line x1="72.2" y1="542.5" x2="80.2" y2="542.5" stroke-width="1.8"/>
<line x1="865.2" y1="542.5" x2="873.2" y2="542.5" stroke-width="1.8"/>
<line x1="72.2" y1="530.1" x2="80.2" y2="530.1" stroke-width="1.8"/>
<line x1="865.2" y1="530.1" x2="873.2" y2="530.1" stroke-width="1.8"/>
<line x1="72.2" y1="519.3" x2="80.2" y2="519.3" stroke-width="1.8"/>
<line x1="865.2" y1="519.3" x2="873.2" y2="519.3" stroke-width="1.8"/>
<line x1="72.2" y1="509.8" x2="80.2" y2="509.8" stroke-width="1.8"/>
<line x1="865.2" y1="509.8" x2="873.2" y2="509.8" stroke-width="1.8"/>
<line x1="72.2" y1="501.4" x2="88.2" y2="501.4" stroke-width="1.8"/>
<line x1="857.2" y1="501.4" x2="873.2" y2="501.4" stroke-width="1.8"/>
</g>
<g font-size="18.2" fill="#000">
<path d="M33.8 54.6L35.4 53.5L36.9 51.8L36.9 64.5" fill="none" stroke="#000" stroke-width="1.55" stroke-linejoin="round" stroke-linecap="butt"/>
<text x="42.2" y="64.5" textLength="23.7" lengthAdjust="spacingAndGlyphs" >00</text>
<path d="M45.7 240.3L47.3 239.2L48.8 237.5L48.8 250.2" fill="none" stroke="#000" stroke-width="1.55" stroke-linejoin="round" stroke-linecap="butt"/>
<text x="54.1" y="250.2" textLength="11.8" lengthAdjust="spacingAndGlyphs" >0</text>
<path d="M57.9 426.0L59.5 424.9L61.0 423.2L61.0 435.9" fill="none" stroke="#000" stroke-width="1.55" stroke-linejoin="round" stroke-linecap="butt"/>
<path d="M33.8 499.8L35.4 498.7L36.9 497.0L36.9 509.7" fill="none" stroke="#000" stroke-width="1.55" stroke-linejoin="round" stroke-linecap="butt"/>
<text x="42.2" y="509.7" textLength="23.7" lengthAdjust="spacingAndGlyphs" >00</text>
<path d="M45.7 685.4L47.3 684.3L48.8 682.6L48.8 695.3" fill="none" stroke="#000" stroke-width="1.55" stroke-linejoin="round" stroke-linecap="butt"/>
<text x="54.1" y="695.3" textLength="11.8" lengthAdjust="spacingAndGlyphs" >0</text>
<path d="M57.9 871.1L59.5 870.0L61.0 868.3L61.0 881.0" fill="none" stroke="#000" stroke-width="1.55" stroke-linejoin="round" stroke-linecap="butt"/>
<text x="104.5" y="920.4" textLength="28.6" lengthAdjust="spacingAndGlyphs" >0.0</text>
<text x="222.4" y="920.4" textLength="28.6" lengthAdjust="spacingAndGlyphs" >0.5</text>
<path d="M343.5 910.4L345.1 909.3L346.6 907.6L346.6 920.3" fill="none" stroke="#000" stroke-width="1.55" stroke-linejoin="round" stroke-linecap="butt"/>
<text x="351.4" y="920.4" textLength="16.8" lengthAdjust="spacingAndGlyphs" >.0</text>
<path d="M461.1 910.4L462.7 909.3L464.2 907.6L464.2 920.3" fill="none" stroke="#000" stroke-width="1.55" stroke-linejoin="round" stroke-linecap="butt"/>
<text x="469.0" y="920.4" textLength="17.4" lengthAdjust="spacingAndGlyphs" >.5</text>
<text x="575.9" y="920.4" textLength="28.6" lengthAdjust="spacingAndGlyphs" >2.0</text>
<text x="693.8" y="920.4" textLength="28.6" lengthAdjust="spacingAndGlyphs" >2.5</text>
<text x="811.6" y="920.4" textLength="28.6" lengthAdjust="spacingAndGlyphs" >3.0</text>
<text x="468.0" y="944.8" textLength="8.4" lengthAdjust="spacingAndGlyphs" font-size="17.5" >z</text>
</g>
<g transform="translate(15.9 255.0) rotate(-90)" fill="#000" font-size="20.3">
<text x="-0.3" y="0.0" textLength="9.8" lengthAdjust="spacingAndGlyphs" >S</text>
<text x="10.9" y="4.4" textLength="14.5" lengthAdjust="spacingAndGlyphs" font-size="12.4" stroke="#000" stroke-width="0.4">70</text>
<path d="M25.3 4.6L38.0 -15.4" stroke="#000" stroke-width="1.5" fill="none"/>
<text x="38.4" y="0.0" textLength="10.1" lengthAdjust="spacingAndGlyphs" >S</text>
<text x="49.6" y="4.4" textLength="14.6" lengthAdjust="spacingAndGlyphs" font-size="12.4" stroke="#000" stroke-width="0.4">24</text>
</g>
<g transform="translate(15.9 700.1) rotate(-90)" fill="#000" font-size="20.3">
<text x="-0.3" y="0.0" textLength="9.8" lengthAdjust="spacingAndGlyphs" >S</text>
<text x="10.9" y="4.4" textLength="14.5" lengthAdjust="spacingAndGlyphs" font-size="12.4" stroke="#000" stroke-width="0.4">70</text>
<path d="M25.3 4.6L38.0 -15.4" stroke="#000" stroke-width="1.5" fill="none"/>
<text x="38.4" y="0.0" textLength="10.1" lengthAdjust="spacingAndGlyphs" >S</text>
<text x="49.6" y="4.4" textLength="14.6" lengthAdjust="spacingAndGlyphs" font-size="12.4" stroke="#000" stroke-width="0.4">24</text>
</g>
<g>
<path d="M222.6 163.4V186.7M217.8 163.4H227.4M217.8 186.7H227.4" stroke="#ff00ff" stroke-width="1.7" fill="none"/>
<polygon points="222.6,166.3 224.6,172.0 230.7,172.2 225.8,175.9 227.6,181.7 222.6,178.2 217.6,181.7 219.4,175.9 214.5,172.2 220.6,172.0" fill="none" stroke="#ff00ff" stroke-width="1.5" stroke-linejoin="round"/>
<polygon points="184.4,211.2 186.4,216.9 192.5,217.1 187.6,220.8 189.4,226.6 184.4,223.1 179.4,226.6 181.2,220.8 176.3,217.1 182.4,216.9" fill="none" stroke="#ff00ff" stroke-width="1.5" stroke-linejoin="round"/>
<polygon points="207.1,207.1 209.1,212.8 215.2,213.0 210.3,216.7 212.1,222.5 207.1,219.0 202.1,222.5 203.9,216.7 199.0,213.0 205.1,212.8" fill="none" stroke="#ff00ff" stroke-width="1.5" stroke-linejoin="round"/>
<path d="M247.9 197.0V212.5M243.1 197.0H252.7M243.1 212.5H252.7" stroke="#ff00ff" stroke-width="1.7" fill="none"/>
<polygon points="247.9,197.3 249.9,203.0 256.0,203.2 251.1,206.9 252.9,212.7 247.9,209.2 242.9,212.7 244.7,206.9 239.8,203.2 245.9,203.0" fill="none" stroke="#ff00ff" stroke-width="1.5" stroke-linejoin="round"/>
<path d="M227.7 245.0V261.0M222.9 245.0H232.5M222.9 261.0H232.5" stroke="#ff00ff" stroke-width="1.7" fill="none"/>
<polygon points="227.7,245.4 229.7,251.1 235.8,251.3 230.9,255.0 232.7,260.8 227.7,257.3 222.7,260.8 224.5,255.0 219.6,251.3 225.7,251.1" fill="none" stroke="#ff00ff" stroke-width="1.5" stroke-linejoin="round"/>
<path d="M242.2 293.8V311.0M237.4 293.8H247.0M237.4 311.0H247.0" stroke="#ff00ff" stroke-width="1.7" fill="none"/>
<polygon points="242.2,293.8 244.2,299.5 250.3,299.7 245.4,303.4 247.2,309.2 242.2,305.7 237.2,309.2 239.0,303.4 234.1,299.7 240.2,299.5" fill="none" stroke="#ff00ff" stroke-width="1.5" stroke-linejoin="round"/>
<path d="M199.3 201.1V220.3M194.5 201.1H204.1M194.5 220.3H204.1" stroke="#0000ff" stroke-width="1.7" fill="none"/>
<rect x="193.8" y="204.9" width="11.0" height="11.0" fill="#0000ff"/>
<path d="M192.1 213.0V226.3M187.3 213.0H196.9M187.3 226.3H196.9" stroke="#0000ff" stroke-width="1.7" fill="none"/>
<rect x="186.8" y="214.4" width="10.6" height="10.6" fill="none" stroke="#0000ff" stroke-width="1.4"/>
<path d="M261.3 205.3V219.7M256.5 205.3H266.1M256.5 219.7H266.1" stroke="#0000ff" stroke-width="1.7" fill="none"/>
<rect x="255.8" y="206.6" width="11.0" height="11.0" fill="#0000ff"/>
<path d="M190.0 252.2V264.6M185.2 252.2H194.8M185.2 264.6H194.8" stroke="#0000ff" stroke-width="1.7" fill="none"/>
<rect x="184.5" y="252.3" width="11.0" height="11.0" fill="#0000ff"/>
<path d="M247.7 267.7V291.2M242.9 267.7H252.5M242.9 291.2H252.5" stroke="#0000ff" stroke-width="1.7" fill="none"/>
<rect x="242.2" y="273.0" width="11.0" height="11.0" fill="#0000ff"/>
<path d="M173.2 295.6V307.8M168.4 295.6H178.0M168.4 307.8H178.0" stroke="#0000ff" stroke-width="1.7" fill="none"/>
<rect x="167.9" y="296.4" width="10.6" height="10.6" fill="none" stroke="#0000ff" stroke-width="1.4"/>
<path d="M319.5 279.8V346.7M314.7 279.8H324.3M314.7 346.7H324.3" stroke="#0000ff" stroke-width="1.7" fill="none"/>
<rect x="314.0" y="300.9" width="11.0" height="11.0" fill="#0000ff"/>
<path d="M328.8 282.6V304.2M324.0 282.6H333.6M324.0 304.2H333.6" stroke="#0000ff" stroke-width="1.7" fill="none"/>
<rect x="323.3" y="287.4" width="11.0" height="11.0" fill="#0000ff"/>
<path d="M361.0 195.0V210.8M356.2 195.0H365.8M356.2 210.8H365.8" stroke="#0000ff" stroke-width="1.7" fill="none"/>
<rect x="355.7" y="197.3" width="10.6" height="10.6" fill="none" stroke="#0000ff" stroke-width="1.4"/>
<path d="M377.7 187.3V215.6M372.9 187.3H382.5M372.9 215.6H382.5" stroke="#0000ff" stroke-width="1.7" fill="none"/>
<rect x="372.2" y="195.2" width="11.0" height="11.0" fill="#0000ff"/>
<path d="M361.6 246.5V265.7M356.8 246.5H366.4M356.8 265.7H366.4" stroke="#0000ff" stroke-width="1.7" fill="none"/>
<rect x="356.1" y="249.9" width="11.0" height="11.0" fill="#0000ff"/>
<path d="M420.8 293.4V312.0M416.0 293.4H425.6M416.0 312.0H425.6" stroke="#0000ff" stroke-width="1.7" fill="none"/>
<rect x="415.3" y="296.5" width="11.0" height="11.0" fill="#0000ff"/>
<path d="M497.1 288.3V306.4M492.3 288.3H501.9M492.3 306.4H501.9" stroke="#0000ff" stroke-width="1.7" fill="none"/>
<rect x="491.6" y="291.3" width="11.0" height="11.0" fill="#0000ff"/>
<path d="M407.0 352.8V370.3M402.2 352.8H411.8M402.2 370.3H411.8" stroke="#0000ff" stroke-width="1.7" fill="none"/>
<rect x="401.5" y="355.9" width="11.0" height="11.0" fill="#0000ff"/>
<path d="M552.8 234.2V250.6M548.0 234.2H557.6M548.0 250.6H557.6" stroke="#0000ff" stroke-width="1.7" fill="none"/>
<rect x="547.3" y="237.0" width="11.0" height="11.0" fill="#0000ff"/>
<path d="M564.7 235.4V255.1M559.9 235.4H569.5M559.9 255.1H569.5" stroke="#0000ff" stroke-width="1.7" fill="none"/>
<rect x="559.2" y="238.8" width="11.0" height="11.0" fill="#0000ff"/>
<path d="M588.1 310.3V331.7M583.3 310.3H592.9M583.3 331.7H592.9" stroke="#0000ff" stroke-width="1.7" fill="none"/>
<rect x="582.6" y="314.4" width="11.0" height="11.0" fill="#0000ff"/>
<path d="M253.1 164.0V176.6M248.3 164.0H257.9M248.3 176.6H257.9" stroke="#ff0000" stroke-width="1.7" fill="none"/>
<polygon points="253.1,166.3 247.8,175.7 258.4,175.7" fill="none" stroke="#ff0000" stroke-width="1.5" stroke-linejoin="miter"/>
<path d="M265.9 210.0V226.9M261.1 210.0H270.7M261.1 226.9H270.7" stroke="#ff0000" stroke-width="1.7" fill="none"/>
<polygon points="265.9,213.8 260.6,223.2 271.1,223.2" fill="none" stroke="#ff0000" stroke-width="1.5" stroke-linejoin="miter"/>
<path d="M345.3 205.3V220.7M340.5 205.3H350.1M340.5 220.7H350.1" stroke="#ff0000" stroke-width="1.7" fill="none"/>
<polygon points="345.3,208.6 340.1,218.0 350.6,218.0" fill="none" stroke="#ff0000" stroke-width="1.5" stroke-linejoin="miter"/>
<path d="M500.2 237.6V256.2M495.4 237.6H505.0M495.4 256.2H505.0" stroke="#ff0000" stroke-width="1.7" fill="none"/>
<polygon points="500.2,242.0 494.6,252.3 505.8,252.3" fill="#ff0000"/>
<path d="M362.1 312.4V328.5M357.3 312.4H366.9M357.3 328.5H366.9" stroke="#ff0000" stroke-width="1.7" fill="none"/>
<polygon points="362.1,315.7 356.9,325.1 367.4,325.1" fill="none" stroke="#ff0000" stroke-width="1.5" stroke-linejoin="miter"/>
<path d="M431.1 313.6V331.1M426.3 313.6H435.9M426.3 331.1H435.9" stroke="#ff0000" stroke-width="1.7" fill="none"/>
<polygon points="431.1,317.8 425.9,327.2 436.4,327.2" fill="none" stroke="#ff0000" stroke-width="1.5" stroke-linejoin="miter"/>
</g>
<g font-size="17.1" fill="#000">
<text x="118.2" y="41.9" textLength="17.9" lengthAdjust="spacingAndGlyphs" >All</text>
<text x="146.8" y="41.9" textLength="48.2" lengthAdjust="spacingAndGlyphs" >70<tspan font-style="italic">μ</tspan>m</text>
<text x="205.2" y="41.9" textLength="72.3" lengthAdjust="spacingAndGlyphs" >detected</text>
<text x="118.2" y="60.1" textLength="51.1" lengthAdjust="spacingAndGlyphs" >X−ray</text>
<text x="178.4" y="60.1" textLength="65.4" lengthAdjust="spacingAndGlyphs" >sources</text>
</g>
<g font-size="16.2">
<text x="109.2" y="255.2" textLength="34.9" lengthAdjust="spacingAndGlyphs" fill="#0000ff" >Avg.</text>
<text x="152.6" y="255.2" textLength="22.7" lengthAdjust="spacingAndGlyphs" fill="#0000ff" >SB</text>
<text x="98.6" y="367.7" textLength="34.5" lengthAdjust="spacingAndGlyphs" fill="#ff0000" >Avg.</text>
<text x="141.6" y="367.7" textLength="33.3" lengthAdjust="spacingAndGlyphs" fill="#ff0000" >AGN</text>
<text x="719.8" y="260.3" textLength="77.9" lengthAdjust="spacingAndGlyphs" font-size="16.6" fill="#000" >NGC6240</text>
<text x="719.8" y="290.1" textLength="77.9" lengthAdjust="spacingAndGlyphs" font-size="16.6" fill="#000" >NGC1068</text>
<text x="719.2" y="367.7" textLength="34.5" lengthAdjust="spacingAndGlyphs" font-size="16.6" fill="#000" >Avg.</text>
<text x="762.4" y="367.7" textLength="34.3" lengthAdjust="spacingAndGlyphs" font-size="16.6" fill="#000" >QSR</text>
</g>
<g font-size="16.2">
<text x="109.2" y="700.3" textLength="34.9" lengthAdjust="spacingAndGlyphs" fill="#0000ff" >Avg.</text>
<text x="152.6" y="700.3" textLength="22.7" lengthAdjust="spacingAndGlyphs" fill="#0000ff" >SB</text>
<text x="98.6" y="812.8" textLength="34.5" lengthAdjust="spacingAndGlyphs" fill="#ff0000" >Avg.</text>
<text x="141.6" y="812.8" textLength="33.3" lengthAdjust="spacingAndGlyphs" fill="#ff0000" >AGN</text>
<text x="719.8" y="705.5" textLength="77.9" lengthAdjust="spacingAndGlyphs" font-size="16.6" fill="#000" >NGC6240</text>
<text x="719.8" y="735.2" textLength="77.9" lengthAdjust="spacingAndGlyphs" font-size="16.6" fill="#000" >NGC1068</text>
<text x="719.2" y="812.8" textLength="34.5" lengthAdjust="spacingAndGlyphs" font-size="16.6" fill="#000" >Avg.</text>
<text x="762.4" y="812.8" textLength="34.3" lengthAdjust="spacingAndGlyphs" font-size="16.6" fill="#000" >QSR</text>
</g>
<rect x="461" y="-5" width="420" height="79.2" fill="#fff" stroke="#000" stroke-width="1.6"/>
<g stroke="#000" stroke-width="2">
<line x1="460" y1="0.6" x2="873" y2="0.6"/>
<line x1="472.2" y1="0.6" x2="472.2" y2="9.6" stroke-width="1.8"/>
<line x1="495.8" y1="0.6" x2="495.8" y2="5.2" stroke-width="1.8"/>
<line x1="519.4" y1="0.6" x2="519.4" y2="5.2" stroke-width="1.8"/>
<line x1="543.0" y1="0.6" x2="543.0" y2="5.2" stroke-width="1.8"/>
<line x1="566.5" y1="0.6" x2="566.5" y2="5.2" stroke-width="1.8"/>
<line x1="590.1" y1="0.6" x2="590.1" y2="9.6" stroke-width="1.8"/>
<line x1="613.7" y1="0.6" x2="613.7" y2="5.2" stroke-width="1.8"/>
<line x1="637.2" y1="0.6" x2="637.2" y2="5.2" stroke-width="1.8"/>
<line x1="660.8" y1="0.6" x2="660.8" y2="5.2" stroke-width="1.8"/>
<line x1="684.4" y1="0.6" x2="684.4" y2="5.2" stroke-width="1.8"/>
<line x1="708.0" y1="0.6" x2="708.0" y2="9.6" stroke-width="1.8"/>
<line x1="731.5" y1="0.6" x2="731.5" y2="5.2" stroke-width="1.8"/>
<line x1="755.1" y1="0.6" x2="755.1" y2="5.2" stroke-width="1.8"/>
<line x1="778.7" y1="0.6" x2="778.7" y2="5.2" stroke-width="1.8"/>
<line x1="802.2" y1="0.6" x2="802.2" y2="5.2" stroke-width="1.8"/>
<line x1="825.8" y1="0.6" x2="825.8" y2="9.6" stroke-width="1.8"/>
<line x1="849.4" y1="0.6" x2="849.4" y2="5.2" stroke-width="1.8"/>
<line x1="873.2" y1="0" x2="873.2" y2="80"/>
<line x1="857.2" y1="56.2" x2="873.2" y2="56.2" stroke-width="1.8"/>
<line x1="865.2" y1="64.7" x2="873.2" y2="64.7" stroke-width="1.8"/>
<line x1="865.2" y1="74.2" x2="873.2" y2="74.2" stroke-width="1.8"/>
</g>
<rect x="474.7" y="13.2" width="10.2" height="10.2" fill="#0000ff"/>
<rect x="491.5" y="13.5" width="9.6" height="9.6" fill="none" stroke="#0000ff" stroke-width="1.0"/>
<polygon points="479.8,31.5 474.7,41.7 484.9,41.7" fill="#ff0000"/>
<polygon points="496.3,31.5 491.2,41.7 501.4,41.7" fill="none" stroke="#ff0000" stroke-width="1.0" stroke-linejoin="miter"/>
<polygon points="496.4,46.7 498.3,52.0 503.9,52.2 499.4,55.6 501.0,61.0 496.4,57.8 491.8,61.0 493.4,55.6 488.9,52.2 494.5,52.0" fill="none" stroke="#ff00ff" stroke-width="1.0" stroke-linejoin="round"/>
<g font-size="17.2" fill="#000">
<text x="508.5" y="23.6" textLength="105.5" lengthAdjust="spacingAndGlyphs" >Non−BLAGN:</text>
<text x="622.3" y="23.6" textLength="50.7" lengthAdjust="spacingAndGlyphs" >X−ray</text>
<text x="682.1" y="23.6" textLength="41.2" lengthAdjust="spacingAndGlyphs" >abs.,</text>
<text x="731.2" y="23.6" textLength="51.0" lengthAdjust="spacingAndGlyphs" >X−ray</text>
<text x="791.4" y="23.6" textLength="53.5" lengthAdjust="spacingAndGlyphs" >unabs.</text>
<text x="508.5" y="41.4" textLength="60.1" lengthAdjust="spacingAndGlyphs" >BLAGN:</text>
<text x="576.9" y="41.4" textLength="50.7" lengthAdjust="spacingAndGlyphs" >X−ray</text>
<text x="636.7" y="41.4" textLength="41.2" lengthAdjust="spacingAndGlyphs" >abs.,</text>
<text x="685.8" y="41.4" textLength="51.1" lengthAdjust="spacingAndGlyphs" >X−ray</text>
<text x="745.6" y="41.4" textLength="53.1" lengthAdjust="spacingAndGlyphs" >unabs.</text>
<text x="508.5" y="59.3" textLength="50.7" lengthAdjust="spacingAndGlyphs" >X−ray</text>
<text x="567.4" y="59.3" textLength="77.5" lengthAdjust="spacingAndGlyphs" >Starburst</text>
</g>
<g font-size="17.1" fill="#000">
<text x="119.3" y="487.1" textLength="49.3" lengthAdjust="spacingAndGlyphs" >70<tspan font-style="italic">μ</tspan>m</text>
<text x="177.8" y="487.1" textLength="54.1" lengthAdjust="spacingAndGlyphs" >stacks</text>
<text x="118.9" y="505.2" textLength="83.2" lengthAdjust="spacingAndGlyphs" >Restricted</text>
<text x="211.7" y="505.2" textLength="60.3" lengthAdjust="spacingAndGlyphs" >sample</text>
</g>
<g font-size="16.2" fill="#0000ff">
<text x="182.5" y="672.7" textLength="22.2" lengthAdjust="spacingAndGlyphs" >SB</text>
<text x="182.5" y="690.6" textLength="37.3" lengthAdjust="spacingAndGlyphs" >Dom</text>
</g>
<g font-size="16.2" fill="#ff0000">
<text x="182.0" y="825.4" textLength="33.2" lengthAdjust="spacingAndGlyphs" >AGN</text>
<text x="182.9" y="843.5" textLength="36.9" lengthAdjust="spacingAndGlyphs" >Dom</text>
</g>
<g>
<path d="M248.1 637.5H266.1M248.1 633.2V641.8M266.1 633.2V641.8" stroke="#000" stroke-width="1.5" fill="none"/>
<path d="M255.5 631.6V642.6M251.1 631.6H259.9M251.1 642.6H259.9" stroke="#000" stroke-width="1.5" fill="none"/>
<rect x="248.6" y="630.2" width="14.2" height="14.2" fill="none" stroke="#333" stroke-width="0.8"/>
<path d="M184.9 659.5H248.5M184.9 654.9V664.1M248.5 654.9V664.1" stroke="#000" stroke-width="1.5" fill="none"/>
<path d="M221.6 654.0V664.5M217.3 654.0H225.9M217.3 664.5H225.9" stroke="#000" stroke-width="1.4" fill="none"/>
<polygon points="221.6,647.6 224.3,655.4 232.6,655.6 226.0,660.6 228.4,668.6 221.6,663.8 214.8,668.6 217.2,660.6 210.6,655.6 218.9,655.4" fill="none" stroke="#333" stroke-width="0.8" stroke-linejoin="miter"/>
<path d="M361.1 649.6V664.0M356.3 649.6H365.9M356.3 664.0H365.9" stroke="#000" stroke-width="1.5" fill="none"/>
<rect x="354.1" y="649.4" width="14.2" height="14.2" fill="none" stroke="#333" stroke-width="0.8"/>
<path d="M261.6 689.4H345.2M261.6 684.9V693.9M345.2 684.9V693.9" stroke="#000" stroke-width="1.5" fill="none"/>
<path d="M308.4 684.6V695.8M304.2 684.6H312.6M304.2 695.8H312.6" stroke="#000" stroke-width="1.4" fill="none"/>
<polygon points="301.5,682.5 315.5,682.5 308.5,696.5" fill="none" stroke="#333" stroke-width="0.8" stroke-linejoin="miter"/>
<path d="M150.1 720.0H277.1M150.1 715.3V724.7M277.1 715.3V724.7" stroke="#000" stroke-width="1.7" fill="none"/>
<path d="M229.8 706.8V736.1M225.1 706.8H234.5M225.1 736.1H234.5" stroke="#000" stroke-width="1.7" fill="none"/>
<polygon points="229.8,709.4 232.5,717.1 240.6,717.3 234.1,722.2 236.5,730.0 229.8,725.4 223.1,730.0 225.5,722.2 219.0,717.3 227.1,717.1" fill="#000"/>
<path d="M241.7 756.5H348.4M241.7 751.8V761.2M348.4 751.8V761.2" stroke="#000" stroke-width="1.7" fill="none"/>
<path d="M295.4 739.6V777.7M290.7 739.6H300.1M290.7 777.7H300.1" stroke="#000" stroke-width="1.7" fill="none"/>
<rect x="288.2" y="749.6" width="14.3" height="14.3" fill="#000"/>
<path d="M247.4 769.2H352.2M247.4 764.5V773.9M352.2 764.5V773.9" stroke="#000" stroke-width="1.7" fill="none"/>
<path d="M297.6 770V807M288.9 795.2L297.6 807.3L306.3 795.2" stroke="#000" stroke-width="1.3" fill="none"/>
<polygon points="290.5,762.1 304.7,762.1 297.6,776.3" fill="#000"/>
<path d="M362.1 727.3H500.5M362.1 722.6V732.0M500.5 722.6V732.0" stroke="#000" stroke-width="1.7" fill="none"/>
<path d="M408.5 721.5V732.8M404.5 721.5H412.5M404.5 732.8H412.5" stroke="#000" stroke-width="1.4" fill="none"/>
<polygon points="401.3,719.5 414.9,719.5 408.1,733.1" fill="none" stroke="#333" stroke-width="0.8" stroke-linejoin="miter"/>
<path d="M362.6 735.4H552.9M362.6 730.7V740.1M552.9 730.7V740.1" stroke="#000" stroke-width="1.7" fill="none"/>
<path d="M440.7 718.5V756.8M436.0 718.5H445.4M436.0 756.8H445.4" stroke="#000" stroke-width="1.7" fill="none"/>
<rect x="433.6" y="728.0" width="14.3" height="14.3" fill="#000"/>
<path d="M359.3 744.2H548.3M359.3 739.5V748.9M548.3 739.5V748.9" stroke="#000" stroke-width="1.7" fill="none"/>
<path d="M454.6 745V781M445.6 771.1L454.6 781.3L463.6 771.1" stroke="#000" stroke-width="1.3" fill="none"/>
<polygon points="447.7,737.6 461.5,737.6 454.6,751.4" fill="#000"/>
</g>
<g font-size="13.6" fill="#000" stroke="#000" stroke-width="0.45">
<text x="243.5" y="628.3" textLength="31.8" lengthAdjust="spacingAndGlyphs" >3/44</text>
<text x="210.0" y="675.6" textLength="31.0" lengthAdjust="spacingAndGlyphs" >6/14</text>
<text x="350.5" y="647.5" textLength="30.2" lengthAdjust="spacingAndGlyphs" >1/19</text>
<text x="297.0" y="681.0" textLength="31.4" lengthAdjust="spacingAndGlyphs" >3/19</text>
<text x="239.3" y="736.5" textLength="31.8" lengthAdjust="spacingAndGlyphs" >8/14</text>
<text x="304.0" y="747.0" textLength="39.7" lengthAdjust="spacingAndGlyphs" >41/44</text>
<text x="308.8" y="785.1" textLength="37.6" lengthAdjust="spacingAndGlyphs" >16/19</text>
<text x="383.9" y="717.7" textLength="32.2" lengthAdjust="spacingAndGlyphs" >3/32</text>
<text x="451.5" y="724.0" textLength="37.7" lengthAdjust="spacingAndGlyphs" >18/19</text>
<text x="464.1" y="761.3" textLength="39.0" lengthAdjust="spacingAndGlyphs" >29/32</text>
</g>
<rect x="390.6" y="445.7" width="500" height="119.4" fill="#fff" stroke="#000" stroke-width="1.6"/>
<g stroke="#000" stroke-width="2">
<line x1="389" y1="445.7" x2="873" y2="445.7"/>
<line x1="401.5" y1="441.1" x2="401.5" y2="450.3" stroke-width="1.8"/>
<line x1="425.1" y1="441.1" x2="425.1" y2="450.3" stroke-width="1.8"/>
<line x1="448.7" y1="441.1" x2="448.7" y2="450.3" stroke-width="1.8"/>
<line x1="472.2" y1="436.7" x2="472.2" y2="454.7" stroke-width="1.8"/>
<line x1="495.8" y1="441.1" x2="495.8" y2="450.3" stroke-width="1.8"/>
<line x1="519.4" y1="441.1" x2="519.4" y2="450.3" stroke-width="1.8"/>
<line x1="543.0" y1="441.1" x2="543.0" y2="450.3" stroke-width="1.8"/>
<line x1="566.5" y1="441.1" x2="566.5" y2="450.3" stroke-width="1.8"/>
<line x1="590.1" y1="436.7" x2="590.1" y2="454.7" stroke-width="1.8"/>
<line x1="613.7" y1="441.1" x2="613.7" y2="450.3" stroke-width="1.8"/>
<line x1="637.2" y1="441.1" x2="637.2" y2="450.3" stroke-width="1.8"/>
<line x1="660.8" y1="441.1" x2="660.8" y2="450.3" stroke-width="1.8"/>
<line x1="684.4" y1="441.1" x2="684.4" y2="450.3" stroke-width="1.8"/>
<line x1="708.0" y1="436.7" x2="708.0" y2="454.7" stroke-width="1.8"/>
<line x1="731.5" y1="441.1" x2="731.5" y2="450.3" stroke-width="1.8"/>
<line x1="755.1" y1="441.1" x2="755.1" y2="450.3" stroke-width="1.8"/>
<line x1="778.7" y1="441.1" x2="778.7" y2="450.3" stroke-width="1.8"/>
<line x1="802.2" y1="441.1" x2="802.2" y2="450.3" stroke-width="1.8"/>
<line x1="825.8" y1="436.7" x2="825.8" y2="454.7" stroke-width="1.8"/>
<line x1="849.4" y1="441.1" x2="849.4" y2="450.3" stroke-width="1.8"/>
<line x1="873.2" y1="440" x2="873.2" y2="570"/>
<line x1="857.2" y1="501.4" x2="873.2" y2="501.4" stroke-width="1.8"/>
<line x1="865.2" y1="509.8" x2="873.2" y2="509.8" stroke-width="1.8"/>
<line x1="865.2" y1="519.3" x2="873.2" y2="519.3" stroke-width="1.8"/>
<line x1="865.2" y1="530.1" x2="873.2" y2="530.1" stroke-width="1.8"/>
<line x1="865.2" y1="542.5" x2="873.2" y2="542.5" stroke-width="1.8"/>
<line x1="865.2" y1="557.3" x2="873.2" y2="557.3" stroke-width="1.8"/>
</g>
<polygon points="402.0,451.6 403.8,456.9 409.4,457.0 405.0,460.4 406.6,465.7 402.0,462.5 397.4,465.7 399.0,460.4 394.6,457.0 400.2,456.9" fill="#000"/>
<rect x="397.2" y="471.7" width="10.0" height="10.0" fill="#000"/>
<polygon points="397.4,490.0 407.4,490.0 402.4,500.0" fill="#000"/>
<polygon points="402.0,505.2 403.8,510.5 409.4,510.6 405.0,514.0 406.6,519.3 402.0,516.1 397.4,519.3 399.0,514.0 394.6,510.6 400.2,510.5" fill="none" stroke="#000" stroke-width="0.9" stroke-linejoin="miter"/>
<rect x="397.6" y="526.4" width="9.5" height="9.5" fill="none" stroke="#000" stroke-width="0.9"/>
<polygon points="397.2,543.4 407.6,543.4 402.4,553.8" fill="none" stroke="#000" stroke-width="0.9" stroke-linejoin="miter"/>
<g font-size="16.8" fill="#000">
<text x="413.4" y="463.0" textLength="77.5" lengthAdjust="spacingAndGlyphs" >Starburst</text>
<text x="413.4" y="517.4" textLength="77.5" lengthAdjust="spacingAndGlyphs" >Starburst</text>
<text x="713.6" y="483.8" textLength="48.6" lengthAdjust="spacingAndGlyphs" >70<tspan font-style="italic">μ</tspan>m</text>
<text x="772.4" y="483.8" textLength="93.7" lengthAdjust="spacingAndGlyphs" >Undetected</text>
<text x="713.6" y="537.4" textLength="48.6" lengthAdjust="spacingAndGlyphs" >70<tspan font-style="italic">μ</tspan>m</text>
<text x="772.4" y="537.4" textLength="73.2" lengthAdjust="spacingAndGlyphs" >Detected</text>
</g>
<g font-size="16.8" fill="#000"><text x="413.6" y="481.5" textLength="8.8" lengthAdjust="spacingAndGlyphs" >L</text><text x="422.0" y="485.9" textLength="7.8" lengthAdjust="spacingAndGlyphs" font-size="10" stroke="#000" stroke-width="0.4">X</text><text x="431.2" y="481.5" textLength="32.4" lengthAdjust="spacingAndGlyphs" >=10</text><text x="462.8" y="474.1" textLength="37.8" lengthAdjust="spacingAndGlyphs" font-size="10.6" font-style="italic" stroke="#000" stroke-width="0.4">42−43</text><text x="501.3" y="481.5" textLength="25.3" lengthAdjust="spacingAndGlyphs" >erg</text><text x="537.1" y="481.5" textLength="9.1" lengthAdjust="spacingAndGlyphs" >s</text><text x="547.0" y="474.1" textLength="14.4" lengthAdjust="spacingAndGlyphs" font-size="10.6" stroke="#000" stroke-width="0.4">−1</text><text x="562.6" y="481.5">,</text><text x="575.6" y="481.5" textLength="10.8" lengthAdjust="spacingAndGlyphs" >N</text><text x="587.4" y="485.9" textLength="7.2" lengthAdjust="spacingAndGlyphs" font-size="10" stroke="#000" stroke-width="0.4">H</text><text x="595.6" y="481.5" textLength="33.0" lengthAdjust="spacingAndGlyphs" >&lt;10</text><text x="629.3" y="474.1" textLength="14.5" lengthAdjust="spacingAndGlyphs" font-size="10.6" stroke="#000" stroke-width="0.4">23</text><text x="643.7" y="481.5" textLength="22.7" lengthAdjust="spacingAndGlyphs" >cm</text><text x="668.8" y="474.1" textLength="15.5" lengthAdjust="spacingAndGlyphs" font-size="10.6" stroke="#000" stroke-width="0.4">−2</text></g>
<g font-size="16.8" fill="#000"><text x="413.6" y="499.6" textLength="8.8" lengthAdjust="spacingAndGlyphs" >L</text><text x="422.0" y="504.0" textLength="7.8" lengthAdjust="spacingAndGlyphs" font-size="10" stroke="#000" stroke-width="0.4">X</text><text x="431.2" y="499.6" textLength="32.4" lengthAdjust="spacingAndGlyphs" >=10</text><text x="462.8" y="492.2" textLength="37.8" lengthAdjust="spacingAndGlyphs" font-size="10.6" font-style="italic" stroke="#000" stroke-width="0.4">43−44</text><text x="501.3" y="499.6" textLength="25.3" lengthAdjust="spacingAndGlyphs" >erg</text><text x="537.1" y="499.6" textLength="9.1" lengthAdjust="spacingAndGlyphs" >s</text><text x="547.0" y="492.2" textLength="14.4" lengthAdjust="spacingAndGlyphs" font-size="10.6" stroke="#000" stroke-width="0.4">−1</text><text x="562.6" y="499.6">,</text><text x="575.6" y="499.6" textLength="10.8" lengthAdjust="spacingAndGlyphs" >N</text><text x="587.4" y="504.0" textLength="7.2" lengthAdjust="spacingAndGlyphs" font-size="10" stroke="#000" stroke-width="0.4">H</text><text x="595.6" y="499.6" textLength="33.0" lengthAdjust="spacingAndGlyphs" >&lt;10</text><text x="629.3" y="492.2" textLength="14.5" lengthAdjust="spacingAndGlyphs" font-size="10.6" stroke="#000" stroke-width="0.4">23</text><text x="643.7" y="499.6" textLength="22.7" lengthAdjust="spacingAndGlyphs" >cm</text><text x="668.8" y="492.2" textLength="15.5" lengthAdjust="spacingAndGlyphs" font-size="10.6" stroke="#000" stroke-width="0.4">−2</text></g>
<g font-size="16.8" fill="#000"><text x="413.6" y="535.4" textLength="8.8" lengthAdjust="spacingAndGlyphs" >L</text><text x="422.0" y="539.8" textLength="7.8" lengthAdjust="spacingAndGlyphs" font-size="10" stroke="#000" stroke-width="0.4">X</text><text x="431.2" y="535.4" textLength="32.4" lengthAdjust="spacingAndGlyphs" >=10</text><text x="462.8" y="528.0" textLength="37.8" lengthAdjust="spacingAndGlyphs" font-size="10.6" font-style="italic" stroke="#000" stroke-width="0.4">42−43</text><text x="501.3" y="535.4" textLength="25.3" lengthAdjust="spacingAndGlyphs" >erg</text><text x="537.1" y="535.4" textLength="9.1" lengthAdjust="spacingAndGlyphs" >s</text><text x="547.0" y="528.0" textLength="14.4" lengthAdjust="spacingAndGlyphs" font-size="10.6" stroke="#000" stroke-width="0.4">−1</text><text x="562.6" y="535.4">,</text><text x="575.6" y="535.4" textLength="10.8" lengthAdjust="spacingAndGlyphs" >N</text><text x="587.4" y="539.8" textLength="7.2" lengthAdjust="spacingAndGlyphs" font-size="10" stroke="#000" stroke-width="0.4">H</text><text x="595.6" y="535.4" textLength="33.0" lengthAdjust="spacingAndGlyphs" >&lt;10</text><text x="629.3" y="528.0" textLength="14.5" lengthAdjust="spacingAndGlyphs" font-size="10.6" stroke="#000" stroke-width="0.4">23</text><text x="643.7" y="535.4" textLength="22.7" lengthAdjust="spacingAndGlyphs" >cm</text><text x="668.8" y="528.0" textLength="15.5" lengthAdjust="spacingAndGlyphs" font-size="10.6" stroke="#000" stroke-width="0.4">−2</text></g>
<g font-size="16.8" fill="#000"><text x="413.6" y="553.1" textLength="8.8" lengthAdjust="spacingAndGlyphs" >L</text><text x="422.0" y="557.5" textLength="7.8" lengthAdjust="spacingAndGlyphs" font-size="10" stroke="#000" stroke-width="0.4">X</text><text x="431.2" y="553.1" textLength="32.4" lengthAdjust="spacingAndGlyphs" >=10</text><text x="462.8" y="545.7" textLength="37.8" lengthAdjust="spacingAndGlyphs" font-size="10.6" font-style="italic" stroke="#000" stroke-width="0.4">43−44</text><text x="501.3" y="553.1" textLength="25.3" lengthAdjust="spacingAndGlyphs" >erg</text><text x="537.1" y="553.1" textLength="9.1" lengthAdjust="spacingAndGlyphs" >s</text><text x="547.0" y="545.7" textLength="14.4" lengthAdjust="spacingAndGlyphs" font-size="10.6" stroke="#000" stroke-width="0.4">−1</text><text x="562.6" y="553.1">,</text><text x="575.6" y="553.1" textLength="10.8" lengthAdjust="spacingAndGlyphs" >N</text><text x="587.4" y="557.5" textLength="7.2" lengthAdjust="spacingAndGlyphs" font-size="10" stroke="#000" stroke-width="0.4">H</text><text x="595.6" y="553.1" textLength="33.0" lengthAdjust="spacingAndGlyphs" >&lt;10</text><text x="629.3" y="545.7" textLength="14.5" lengthAdjust="spacingAndGlyphs" font-size="10.6" stroke="#000" stroke-width="0.4">23</text><text x="643.7" y="553.1" textLength="22.7" lengthAdjust="spacingAndGlyphs" >cm</text><text x="668.8" y="545.7" textLength="15.5" lengthAdjust="spacingAndGlyphs" font-size="10.6" stroke="#000" stroke-width="0.4">−2</text></g>
<path d="M692.7 454.0 C700.3 454.0 701.3 456.0 701.3 463.0 L701.3 468.2 C701.3 473.2 703.3 475.7 707.9 477.2 C703.3 478.7 701.3 481.2 701.3 486.2 L701.3 494.8 C701.3 501.8 700.3 503.8 692.7 503.8" fill="none" stroke="#000" stroke-width="2" stroke-linejoin="miter"/>
<path d="M692.7 509.6 C700.3 509.6 701.3 511.6 701.3 518.6 L701.3 523.5 C701.3 528.5 703.3 531.0 707.9 532.5 C703.3 534.0 701.3 536.5 701.3 541.5 L701.3 549.4 C701.3 556.4 700.3 558.4 692.7 558.4" fill="none" stroke="#000" stroke-width="2" stroke-linejoin="miter"/>
</svg></body></html>
